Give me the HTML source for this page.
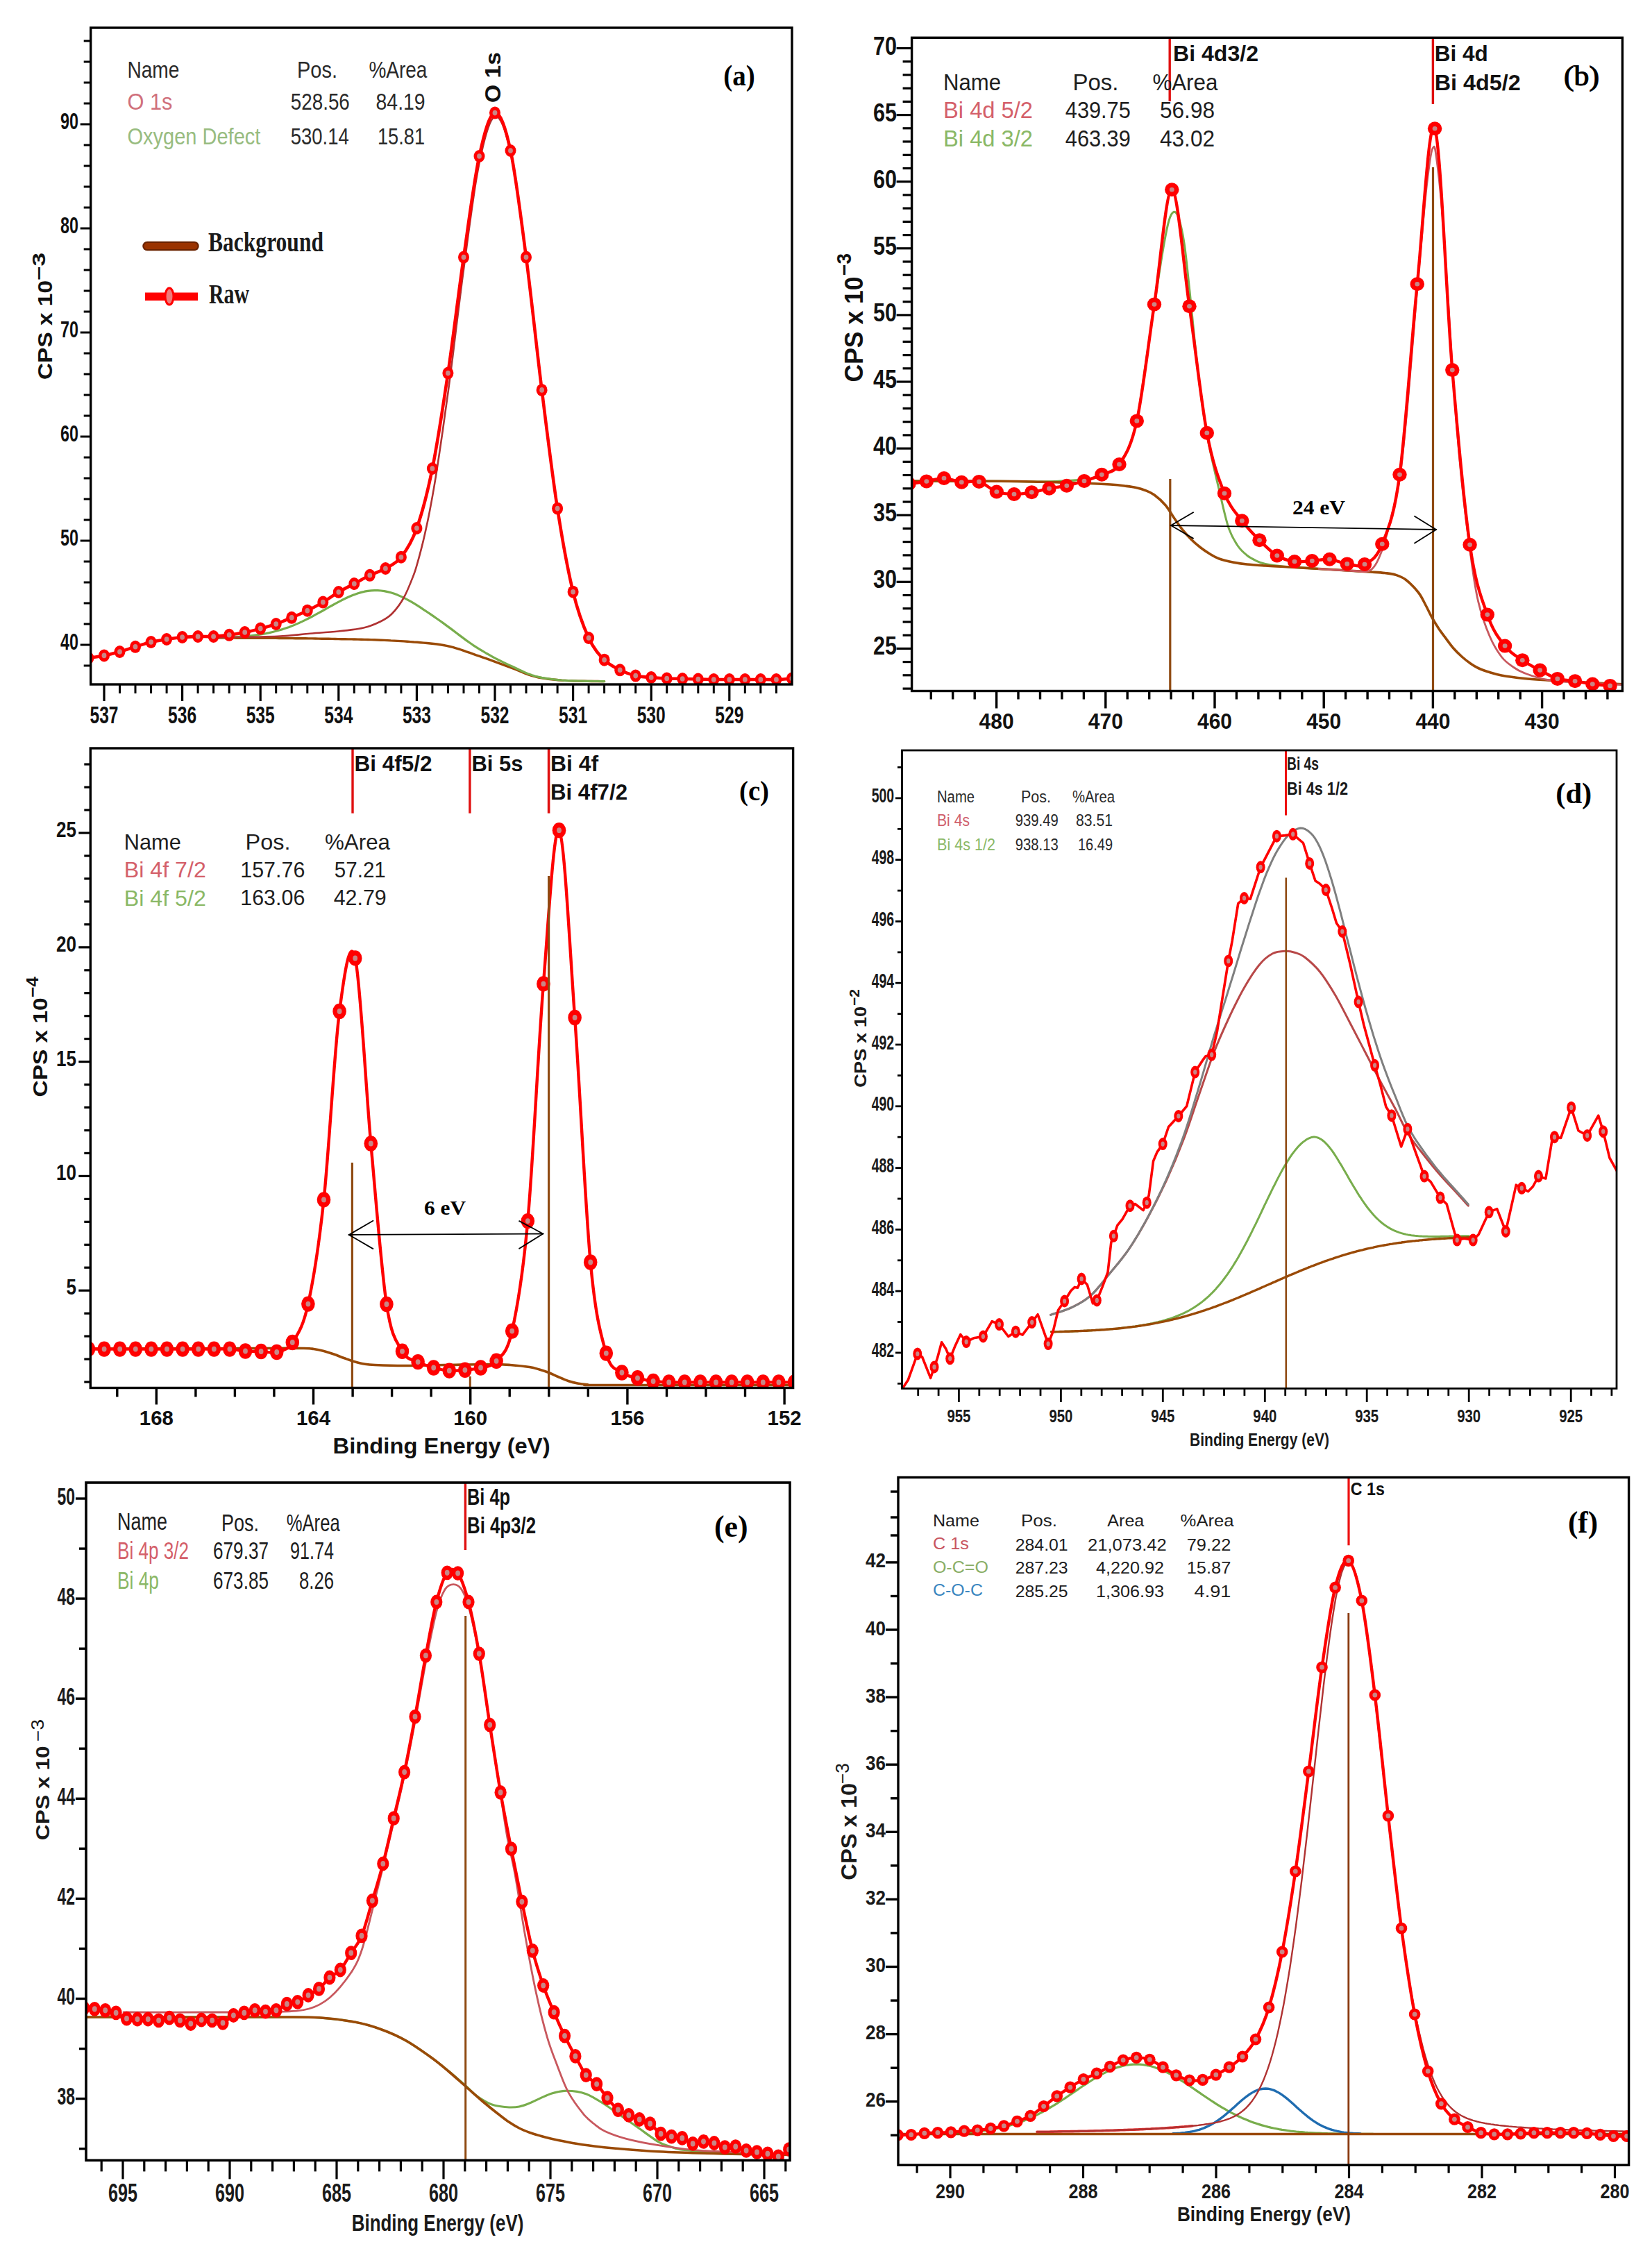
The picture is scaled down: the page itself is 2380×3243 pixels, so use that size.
<!DOCTYPE html><html><head><meta charset="utf-8"><title>XPS spectra</title><style>html,body{margin:0;padding:0;background:#fff;}svg{display:block;}</style></head><body>
<svg width="2380" height="3243" viewBox="0 0 2380 3243">
<rect width="2380" height="3243" fill="#fff"/>
<clipPath id="ca"><rect x="130.7" y="40" width="1010.3" height="946"/></clipPath>
<g clip-path="url(#ca)">
<path d="M307.6,919 L312.4,919 L317.1,919 L321.8,919.1 L326.6,919.1 L331.3,919.1 L336,919.1 L340.8,919.2 L345.5,919.2 L350.2,919.2 L355,919.2 L359.7,919.2 L364.4,919.3 L369.1,919.3 L373.9,919.3 L378.6,919.3 L383.3,919.4 L388.1,919.4 L392.8,919.4 L397.5,919.4 L402.3,919.5 L407,919.5 L411.7,919.5 L416.5,919.6 L421.2,919.6 L425.9,919.7 L430.6,919.7 L435.4,919.8 L440.1,919.8 L444.8,919.9 L449.6,919.9 L454.3,920 L459,920.1 L463.8,920.2 L468.5,920.2 L473.2,920.3 L478,920.4 L482.7,920.5 L487.4,920.6 L492.2,920.7 L496.9,920.8 L501.6,920.9 L506.3,920.9 L511.1,921 L515.8,921.1 L520.5,921.2 L525.3,921.4 L530,921.5 L534.7,921.6 L539.5,921.8 L544.2,922 L548.9,922.2 L553.7,922.4 L558.4,922.6 L563.1,922.9 L567.9,923.1 L572.6,923.4 L577.3,923.6 L582,923.9 L586.8,924.3 L591.5,924.6 L596.2,925 L601,925.3 L605.7,925.7 L610.4,926.1 L615.2,926.5 L619.9,927 L624.6,927.5 L629.4,928 L634.1,928.7 L638.8,929.5 L643.5,930.4 L648.3,931.5 L653,932.7 L657.7,934.1 L662.5,935.5 L667.2,937.1 L671.9,938.8 L676.7,940.4 L681.4,942.1 L686.1,943.8 L690.9,945.4 L695.6,947.1 L700.3,948.7 L705.1,950.4 L709.8,952.1 L714.5,953.9 L719.2,955.6 L724,957.3 L728.7,959.1 L733.4,960.8 L738.2,962.6 L742.9,964.5 L747.6,966.4 L752.4,968.4 L757.1,970.3 L761.8,972.1 L766.6,973.6 L771.3,974.9 L776,976 L780.7,976.9 L785.5,977.6 L790.2,978.2 L794.9,978.8 L799.7,979.3 L804.4,979.7 L809.1,980.1 L813.9,980.4 L818.6,980.6 L823.3,980.8 L828.1,981 L832.8,981.1 L837.5,981.2 L842.3,981.3 L847,981.4 L851.7,981.5 L856.4,981.5 L861.2,981.5 L865.9,981.6 L870.6,981.6" fill="none" stroke="#9a4a06" stroke-width="3.4" stroke-linejoin="round" stroke-linecap="round" />
<path d="M307.6,918.6 L312.4,918.5 L317.1,918.4 L321.8,918.3 L326.6,918.1 L331.3,918 L336,917.7 L340.8,917.5 L345.5,917.2 L350.2,916.9 L355,916.5 L359.7,916 L364.4,915.5 L369.1,914.9 L373.9,914.2 L378.6,913.4 L383.3,912.6 L388.1,911.6 L392.8,910.5 L397.5,909.3 L402.3,908 L407,906.6 L411.7,905 L416.5,903.4 L421.2,901.6 L425.9,899.6 L430.6,897.6 L435.4,895.4 L440.1,893.1 L444.8,890.7 L449.6,888.3 L454.3,885.7 L459,883.1 L463.8,880.5 L468.5,877.8 L473.2,875.1 L478,872.5 L482.7,869.8 L487.4,867.3 L492.2,864.8 L496.9,862.5 L501.6,860.3 L506.3,858.2 L511.1,856.4 L515.8,854.8 L520.5,853.4 L525.3,852.2 L530,851.4 L534.7,850.8 L539.5,850.6 L544.2,850.6 L548.9,851 L553.7,851.6 L558.4,852.6 L563.1,853.8 L567.9,855.3 L572.6,857.1 L577.3,859.1 L582,861.3 L586.8,863.8 L591.5,866.4 L596.2,869.2 L601,872.2 L605.7,875.2 L610.4,878.3 L615.2,881.5 L619.9,884.6 L624.6,887.9 L629.4,891.2 L634.1,894.5 L638.8,897.9 L643.5,901.4 L648.3,904.9 L653,908.4 L657.7,912 L662.5,915.6 L667.2,919.1 L671.9,922.6 L676.7,926 L681.4,929.3 L686.1,932.4 L690.9,935.4 L695.6,938.2 L700.3,941 L705.1,943.7 L709.8,946.3 L714.5,948.8 L719.2,951.2 L724,953.6 L728.7,955.9 L733.4,958.1 L738.2,960.3 L742.9,962.5 L747.6,964.8 L752.4,967 L757.1,969.1 L761.8,971.1 L766.6,972.8 L771.3,974.3 L776,975.4 L780.7,976.4 L785.5,977.2 L790.2,977.9 L794.9,978.5 L799.7,979.1 L804.4,979.6 L809.1,980 L813.9,980.3 L818.6,980.6 L823.3,980.8 L828.1,980.9 L832.8,981 L837.5,981.2 L842.3,981.3 L847,981.4 L851.7,981.4 L856.4,981.5 L861.2,981.5 L865.9,981.6 L870.6,981.6" fill="none" stroke="#78ad4c" stroke-width="3.2" stroke-linejoin="round" stroke-linecap="round" />
<path d="M307.6,918.5C323,918.2 377.3,917.7 400,916.8C422.7,915.9 429.2,914.2 443.8,913C458.4,911.8 474.1,910.9 487.4,909.5C500.7,908.1 513.6,906.8 523.7,904.5C533.8,902.2 541.1,898.9 548,895.5C554.9,892.1 559.3,889.8 564.9,884C570.5,878.2 576.6,870.3 581.8,861C587,851.7 592.9,836.1 596,828.2C599.1,820.3 599.1,818.9 600.7,813.6C602.2,808.4 603.8,802.8 605.3,796.9C606.9,791 608.4,784.9 610,778.4C611.5,771.8 613.1,765 614.6,757.8C616.2,750.6 617.7,743 619.3,735C620.8,727 622.4,718.7 623.9,709.9C625.5,701.1 627,691.7 628.6,682C630.1,672.4 631.7,662.2 633.2,651.8C634.8,641.4 636.3,630.7 637.9,619.8C639.4,608.9 641,597.8 642.5,586.6C644.1,575.4 645.7,564.3 647.2,552.6C648.8,540.9 650.3,528.7 651.9,516.3C653.4,504 655,491.2 656.5,478.6C658.1,466.1 659.6,453.2 661.2,440.8C662.7,428.4 664.3,416.1 665.8,404.3C667.4,392.4 668.9,381.2 670.5,369.6C672,358 673.6,346.2 675.1,334.7C676.7,323.3 678.2,311.7 679.8,300.8C681.3,289.9 682.9,279.1 684.4,269.4C686,259.6 687.5,250.5 689.1,242.2C690.6,233.9 692.2,226.7 693.8,219.8C695.3,212.8 696.9,206.2 698.4,200.4C700,194.5 701.5,189.2 703.1,184.7C704.6,180.3 706.2,176.5 707.7,173.7C709.3,170.9 710.8,169 712.4,168.2C713.9,167.4 715.5,167.6 717,168.7C718.6,169.7 720.1,171.8 721.7,174.6C723.2,177.4 724.8,181.1 726.3,185.4C727.9,189.8 729.4,195 731,200.8C732.5,206.6 734.1,212.8 735.6,220.1C737.2,227.4 738.8,235.5 740.3,244.6C741.9,253.6 743.4,263.7 745,274.2C746.5,284.7 748.1,296.1 749.6,307.5C751.2,319 752.7,331 754.3,342.8C755.8,354.6 757.4,366.2 758.9,378.5C760.5,390.8 762,403.4 763.6,416.4C765.1,429.4 766.7,443 768.2,456.5C769.8,470 771.3,483.9 772.9,497.4C774.4,510.9 776,524.5 777.5,537.5C779.1,550.5 780.6,562.9 782.2,575.5C783.7,588 785.3,600.5 786.9,612.8C788.4,625.2 790,637.5 791.5,649.5C793.1,661.5 794.6,673.4 796.2,684.8C797.7,696.2 799.3,707.2 800.8,717.8C802.4,728.3 803.9,738.2 805.5,747.9C807,757.6 808.6,766.9 810.1,775.8C811.7,784.8 813.2,793.4 814.8,801.6C816.3,809.8 817.9,817.7 819.4,825.2C821,832.6 822.5,839.7 824.1,846.4C825.6,853 827.2,859.3 828.7,865.1C830.3,870.9 831.8,876.1 833.4,881C835,886 836.5,890.5 838.1,894.7C839.6,899 841.2,902.9 842.7,906.7C844.3,910.4 845.8,914 847.4,917.4C848.9,920.7 850.5,923.9 852,926.8C853.6,929.6 855.1,932 856.7,934.3C858.2,936.6 859.8,938.6 861.3,940.6C862.9,942.5 864.4,944.2 866,945.9C867.5,947.5 869.9,949.9 870.6,950.7" fill="none" stroke="#b03232" stroke-width="2.6" stroke-linejoin="round" stroke-linecap="round" />
<path d="M127.5,948C131.2,947.4 142.5,945.9 150,944.4C157.5,942.9 165,941.1 172.5,939C180,936.9 187.5,934.1 195,931.8C202.5,929.5 210.1,926.8 217.6,925C225.1,923.2 232.6,922.2 240.1,921C247.6,919.8 255.1,918.7 262.6,918C270.1,917.3 277.6,917.2 285.1,917C292.6,916.8 300.1,917.4 307.6,917C315.1,916.6 322.7,915.8 330.2,914.8C337.7,913.8 345.2,912.5 352.7,911C360.2,909.5 367.7,907.6 375.2,905.6C382.7,903.6 390.2,901.6 397.7,899C405.2,896.4 412.7,893 420.2,889.8C427.7,886.6 435.3,883.4 442.8,879.7C450.3,876 457.8,872.1 465.3,867.6C472.8,863.1 480.3,857.4 487.8,853C495.3,848.6 502.8,845 510.3,841C517.8,837 525.3,832.5 532.8,828.8C540.3,825.1 547.9,823.4 555.4,819C562.9,814.6 570.4,812.4 577.9,802.7C585.4,793 592.9,782.3 600.4,761C607.9,739.7 615.4,712.2 622.9,675C630.4,637.8 637.9,588.3 645.4,537.6C652.9,486.9 660.5,422.7 668,370.6C675.5,318.5 683,259.7 690.5,225C698,190.3 705.5,163.9 713,162.6C720.5,161.3 728,182.3 735.5,217C743,251.7 750.5,313.1 758,370.6C765.5,428.1 773.1,501.6 780.6,561.9C788.1,622.2 795.6,684.1 803.1,732.6C810.6,781.1 818.1,821.6 825.6,852.7C833.1,883.8 840.6,902.7 848.1,919C855.6,935.3 863.1,943 870.6,950.7C878.1,958.4 885.7,961.5 893.2,965.3C900.7,969.1 908.2,971.8 915.7,973.6C923.2,975.4 930.7,975.4 938.2,976C945.7,976.6 953.2,977.2 960.7,977.5C968.2,977.8 975.7,977.8 983.2,978C990.7,978.2 998.3,978.3 1005.8,978.5C1013.3,978.7 1020.8,978.9 1028.3,979C1035.8,979.1 1043.3,979 1050.8,979C1058.3,979 1065.8,979 1073.3,979C1080.8,979 1088.3,979 1095.8,979C1103.3,979 1110.9,979.2 1118.4,979C1125.9,978.8 1137.1,977.8 1140.9,977.5" fill="none" stroke="#ff0000" stroke-width="4.6" stroke-linejoin="round" stroke-linecap="round" />
<ellipse cx="127.5" cy="948" rx="8" ry="9" fill="#ff0000"/>
<ellipse cx="127.5" cy="948" rx="3.4" ry="3.8" fill="#c98686"/>
<ellipse cx="150" cy="944.4" rx="8" ry="9" fill="#ff0000"/>
<ellipse cx="150" cy="944.4" rx="3.4" ry="3.8" fill="#c98686"/>
<ellipse cx="172.5" cy="939" rx="8" ry="9" fill="#ff0000"/>
<ellipse cx="172.5" cy="939" rx="3.4" ry="3.8" fill="#c98686"/>
<ellipse cx="195" cy="931.8" rx="8" ry="9" fill="#ff0000"/>
<ellipse cx="195" cy="931.8" rx="3.4" ry="3.8" fill="#c98686"/>
<ellipse cx="217.6" cy="925" rx="8" ry="9" fill="#ff0000"/>
<ellipse cx="217.6" cy="925" rx="3.4" ry="3.8" fill="#c98686"/>
<ellipse cx="240.1" cy="921" rx="8" ry="9" fill="#ff0000"/>
<ellipse cx="240.1" cy="921" rx="3.4" ry="3.8" fill="#c98686"/>
<ellipse cx="262.6" cy="918" rx="8" ry="9" fill="#ff0000"/>
<ellipse cx="262.6" cy="918" rx="3.4" ry="3.8" fill="#c98686"/>
<ellipse cx="285.1" cy="917" rx="8" ry="9" fill="#ff0000"/>
<ellipse cx="285.1" cy="917" rx="3.4" ry="3.8" fill="#c98686"/>
<ellipse cx="307.6" cy="917" rx="8" ry="9" fill="#ff0000"/>
<ellipse cx="307.6" cy="917" rx="3.4" ry="3.8" fill="#c98686"/>
<ellipse cx="330.2" cy="914.8" rx="8" ry="9" fill="#ff0000"/>
<ellipse cx="330.2" cy="914.8" rx="3.4" ry="3.8" fill="#c98686"/>
<ellipse cx="352.7" cy="911" rx="8" ry="9" fill="#ff0000"/>
<ellipse cx="352.7" cy="911" rx="3.4" ry="3.8" fill="#c98686"/>
<ellipse cx="375.2" cy="905.6" rx="8" ry="9" fill="#ff0000"/>
<ellipse cx="375.2" cy="905.6" rx="3.4" ry="3.8" fill="#c98686"/>
<ellipse cx="397.7" cy="899" rx="8" ry="9" fill="#ff0000"/>
<ellipse cx="397.7" cy="899" rx="3.4" ry="3.8" fill="#c98686"/>
<ellipse cx="420.2" cy="889.8" rx="8" ry="9" fill="#ff0000"/>
<ellipse cx="420.2" cy="889.8" rx="3.4" ry="3.8" fill="#c98686"/>
<ellipse cx="442.8" cy="879.7" rx="8" ry="9" fill="#ff0000"/>
<ellipse cx="442.8" cy="879.7" rx="3.4" ry="3.8" fill="#c98686"/>
<ellipse cx="465.3" cy="867.6" rx="8" ry="9" fill="#ff0000"/>
<ellipse cx="465.3" cy="867.6" rx="3.4" ry="3.8" fill="#c98686"/>
<ellipse cx="487.8" cy="853" rx="8" ry="9" fill="#ff0000"/>
<ellipse cx="487.8" cy="853" rx="3.4" ry="3.8" fill="#c98686"/>
<ellipse cx="510.3" cy="841" rx="8" ry="9" fill="#ff0000"/>
<ellipse cx="510.3" cy="841" rx="3.4" ry="3.8" fill="#c98686"/>
<ellipse cx="532.8" cy="828.8" rx="8" ry="9" fill="#ff0000"/>
<ellipse cx="532.8" cy="828.8" rx="3.4" ry="3.8" fill="#c98686"/>
<ellipse cx="555.4" cy="819" rx="8" ry="9" fill="#ff0000"/>
<ellipse cx="555.4" cy="819" rx="3.4" ry="3.8" fill="#c98686"/>
<ellipse cx="577.9" cy="802.7" rx="8" ry="9" fill="#ff0000"/>
<ellipse cx="577.9" cy="802.7" rx="3.4" ry="3.8" fill="#c98686"/>
<ellipse cx="600.4" cy="761" rx="8" ry="9" fill="#ff0000"/>
<ellipse cx="600.4" cy="761" rx="3.4" ry="3.8" fill="#c98686"/>
<ellipse cx="622.9" cy="675" rx="8" ry="9" fill="#ff0000"/>
<ellipse cx="622.9" cy="675" rx="3.4" ry="3.8" fill="#c98686"/>
<ellipse cx="645.4" cy="537.6" rx="8" ry="9" fill="#ff0000"/>
<ellipse cx="645.4" cy="537.6" rx="3.4" ry="3.8" fill="#c98686"/>
<ellipse cx="668" cy="370.6" rx="8" ry="9" fill="#ff0000"/>
<ellipse cx="668" cy="370.6" rx="3.4" ry="3.8" fill="#c98686"/>
<ellipse cx="690.5" cy="225" rx="8" ry="9" fill="#ff0000"/>
<ellipse cx="690.5" cy="225" rx="3.4" ry="3.8" fill="#c98686"/>
<ellipse cx="713" cy="162.6" rx="8" ry="9" fill="#ff0000"/>
<ellipse cx="713" cy="162.6" rx="3.4" ry="3.8" fill="#c98686"/>
<ellipse cx="735.5" cy="217" rx="8" ry="9" fill="#ff0000"/>
<ellipse cx="735.5" cy="217" rx="3.4" ry="3.8" fill="#c98686"/>
<ellipse cx="758" cy="370.6" rx="8" ry="9" fill="#ff0000"/>
<ellipse cx="758" cy="370.6" rx="3.4" ry="3.8" fill="#c98686"/>
<ellipse cx="780.6" cy="561.9" rx="8" ry="9" fill="#ff0000"/>
<ellipse cx="780.6" cy="561.9" rx="3.4" ry="3.8" fill="#c98686"/>
<ellipse cx="803.1" cy="732.6" rx="8" ry="9" fill="#ff0000"/>
<ellipse cx="803.1" cy="732.6" rx="3.4" ry="3.8" fill="#c98686"/>
<ellipse cx="825.6" cy="852.7" rx="8" ry="9" fill="#ff0000"/>
<ellipse cx="825.6" cy="852.7" rx="3.4" ry="3.8" fill="#c98686"/>
<ellipse cx="848.1" cy="919" rx="8" ry="9" fill="#ff0000"/>
<ellipse cx="848.1" cy="919" rx="3.4" ry="3.8" fill="#c98686"/>
<ellipse cx="870.6" cy="950.7" rx="8" ry="9" fill="#ff0000"/>
<ellipse cx="870.6" cy="950.7" rx="3.4" ry="3.8" fill="#c98686"/>
<ellipse cx="893.2" cy="965.3" rx="8" ry="9" fill="#ff0000"/>
<ellipse cx="893.2" cy="965.3" rx="3.4" ry="3.8" fill="#c98686"/>
<ellipse cx="915.7" cy="973.6" rx="8" ry="9" fill="#ff0000"/>
<ellipse cx="915.7" cy="973.6" rx="3.4" ry="3.8" fill="#c98686"/>
<ellipse cx="938.2" cy="976" rx="8" ry="9" fill="#ff0000"/>
<ellipse cx="938.2" cy="976" rx="3.4" ry="3.8" fill="#c98686"/>
<ellipse cx="960.7" cy="977.5" rx="8" ry="9" fill="#ff0000"/>
<ellipse cx="960.7" cy="977.5" rx="3.4" ry="3.8" fill="#c98686"/>
<ellipse cx="983.2" cy="978" rx="8" ry="9" fill="#ff0000"/>
<ellipse cx="983.2" cy="978" rx="3.4" ry="3.8" fill="#c98686"/>
<ellipse cx="1005.8" cy="978.5" rx="8" ry="9" fill="#ff0000"/>
<ellipse cx="1005.8" cy="978.5" rx="3.4" ry="3.8" fill="#c98686"/>
<ellipse cx="1028.3" cy="979" rx="8" ry="9" fill="#ff0000"/>
<ellipse cx="1028.3" cy="979" rx="3.4" ry="3.8" fill="#c98686"/>
<ellipse cx="1050.8" cy="979" rx="8" ry="9" fill="#ff0000"/>
<ellipse cx="1050.8" cy="979" rx="3.4" ry="3.8" fill="#c98686"/>
<ellipse cx="1073.3" cy="979" rx="8" ry="9" fill="#ff0000"/>
<ellipse cx="1073.3" cy="979" rx="3.4" ry="3.8" fill="#c98686"/>
<ellipse cx="1095.8" cy="979" rx="8" ry="9" fill="#ff0000"/>
<ellipse cx="1095.8" cy="979" rx="3.4" ry="3.8" fill="#c98686"/>
<ellipse cx="1118.4" cy="979" rx="8" ry="9" fill="#ff0000"/>
<ellipse cx="1118.4" cy="979" rx="3.4" ry="3.8" fill="#c98686"/>
<ellipse cx="1140.9" cy="977.5" rx="8" ry="9" fill="#ff0000"/>
<ellipse cx="1140.9" cy="977.5" rx="3.4" ry="3.8" fill="#c98686"/>
</g>
<line x1="115.7" y1="929" x2="130.7" y2="929" stroke="#000" stroke-width="3" stroke-linecap="butt"/>
<line x1="115.7" y1="779" x2="130.7" y2="779" stroke="#000" stroke-width="3" stroke-linecap="butt"/>
<line x1="115.7" y1="629" x2="130.7" y2="629" stroke="#000" stroke-width="3" stroke-linecap="butt"/>
<line x1="115.7" y1="479" x2="130.7" y2="479" stroke="#000" stroke-width="3" stroke-linecap="butt"/>
<line x1="115.7" y1="329" x2="130.7" y2="329" stroke="#000" stroke-width="3" stroke-linecap="butt"/>
<line x1="115.7" y1="179" x2="130.7" y2="179" stroke="#000" stroke-width="3" stroke-linecap="butt"/>
<line x1="120.7" y1="959" x2="130.7" y2="959" stroke="#000" stroke-width="3" stroke-linecap="butt"/>
<line x1="120.7" y1="899" x2="130.7" y2="899" stroke="#000" stroke-width="3" stroke-linecap="butt"/>
<line x1="120.7" y1="869" x2="130.7" y2="869" stroke="#000" stroke-width="3" stroke-linecap="butt"/>
<line x1="120.7" y1="839" x2="130.7" y2="839" stroke="#000" stroke-width="3" stroke-linecap="butt"/>
<line x1="120.7" y1="809" x2="130.7" y2="809" stroke="#000" stroke-width="3" stroke-linecap="butt"/>
<line x1="120.7" y1="749" x2="130.7" y2="749" stroke="#000" stroke-width="3" stroke-linecap="butt"/>
<line x1="120.7" y1="719" x2="130.7" y2="719" stroke="#000" stroke-width="3" stroke-linecap="butt"/>
<line x1="120.7" y1="689" x2="130.7" y2="689" stroke="#000" stroke-width="3" stroke-linecap="butt"/>
<line x1="120.7" y1="659" x2="130.7" y2="659" stroke="#000" stroke-width="3" stroke-linecap="butt"/>
<line x1="120.7" y1="599" x2="130.7" y2="599" stroke="#000" stroke-width="3" stroke-linecap="butt"/>
<line x1="120.7" y1="569" x2="130.7" y2="569" stroke="#000" stroke-width="3" stroke-linecap="butt"/>
<line x1="120.7" y1="539" x2="130.7" y2="539" stroke="#000" stroke-width="3" stroke-linecap="butt"/>
<line x1="120.7" y1="509" x2="130.7" y2="509" stroke="#000" stroke-width="3" stroke-linecap="butt"/>
<line x1="120.7" y1="449" x2="130.7" y2="449" stroke="#000" stroke-width="3" stroke-linecap="butt"/>
<line x1="120.7" y1="419" x2="130.7" y2="419" stroke="#000" stroke-width="3" stroke-linecap="butt"/>
<line x1="120.7" y1="389" x2="130.7" y2="389" stroke="#000" stroke-width="3" stroke-linecap="butt"/>
<line x1="120.7" y1="359" x2="130.7" y2="359" stroke="#000" stroke-width="3" stroke-linecap="butt"/>
<line x1="120.7" y1="299" x2="130.7" y2="299" stroke="#000" stroke-width="3" stroke-linecap="butt"/>
<line x1="120.7" y1="269" x2="130.7" y2="269" stroke="#000" stroke-width="3" stroke-linecap="butt"/>
<line x1="120.7" y1="239" x2="130.7" y2="239" stroke="#000" stroke-width="3" stroke-linecap="butt"/>
<line x1="120.7" y1="209" x2="130.7" y2="209" stroke="#000" stroke-width="3" stroke-linecap="butt"/>
<line x1="120.7" y1="149" x2="130.7" y2="149" stroke="#000" stroke-width="3" stroke-linecap="butt"/>
<line x1="120.7" y1="119" x2="130.7" y2="119" stroke="#000" stroke-width="3" stroke-linecap="butt"/>
<line x1="120.7" y1="89" x2="130.7" y2="89" stroke="#000" stroke-width="3" stroke-linecap="butt"/>
<line x1="120.7" y1="59" x2="130.7" y2="59" stroke="#000" stroke-width="3" stroke-linecap="butt"/>
<line x1="1050.8" y1="986" x2="1050.8" y2="1010" stroke="#000" stroke-width="3.2" stroke-linecap="butt"/>
<line x1="938.2" y1="986" x2="938.2" y2="1010" stroke="#000" stroke-width="3.2" stroke-linecap="butt"/>
<line x1="825.6" y1="986" x2="825.6" y2="1010" stroke="#000" stroke-width="3.2" stroke-linecap="butt"/>
<line x1="713" y1="986" x2="713" y2="1010" stroke="#000" stroke-width="3.2" stroke-linecap="butt"/>
<line x1="600.4" y1="986" x2="600.4" y2="1010" stroke="#000" stroke-width="3.2" stroke-linecap="butt"/>
<line x1="487.8" y1="986" x2="487.8" y2="1010" stroke="#000" stroke-width="3.2" stroke-linecap="butt"/>
<line x1="375.2" y1="986" x2="375.2" y2="1010" stroke="#000" stroke-width="3.2" stroke-linecap="butt"/>
<line x1="262.6" y1="986" x2="262.6" y2="1010" stroke="#000" stroke-width="3.2" stroke-linecap="butt"/>
<line x1="150" y1="986" x2="150" y2="1010" stroke="#000" stroke-width="3.2" stroke-linecap="butt"/>
<line x1="1118.4" y1="986" x2="1118.4" y2="999" stroke="#000" stroke-width="3" stroke-linecap="butt"/>
<line x1="1095.8" y1="986" x2="1095.8" y2="999" stroke="#000" stroke-width="3" stroke-linecap="butt"/>
<line x1="1073.3" y1="986" x2="1073.3" y2="999" stroke="#000" stroke-width="3" stroke-linecap="butt"/>
<line x1="1028.3" y1="986" x2="1028.3" y2="999" stroke="#000" stroke-width="3" stroke-linecap="butt"/>
<line x1="1005.8" y1="986" x2="1005.8" y2="999" stroke="#000" stroke-width="3" stroke-linecap="butt"/>
<line x1="983.2" y1="986" x2="983.2" y2="999" stroke="#000" stroke-width="3" stroke-linecap="butt"/>
<line x1="960.7" y1="986" x2="960.7" y2="999" stroke="#000" stroke-width="3" stroke-linecap="butt"/>
<line x1="915.7" y1="986" x2="915.7" y2="999" stroke="#000" stroke-width="3" stroke-linecap="butt"/>
<line x1="893.2" y1="986" x2="893.2" y2="999" stroke="#000" stroke-width="3" stroke-linecap="butt"/>
<line x1="870.6" y1="986" x2="870.6" y2="999" stroke="#000" stroke-width="3" stroke-linecap="butt"/>
<line x1="848.1" y1="986" x2="848.1" y2="999" stroke="#000" stroke-width="3" stroke-linecap="butt"/>
<line x1="803.1" y1="986" x2="803.1" y2="999" stroke="#000" stroke-width="3" stroke-linecap="butt"/>
<line x1="780.6" y1="986" x2="780.6" y2="999" stroke="#000" stroke-width="3" stroke-linecap="butt"/>
<line x1="758" y1="986" x2="758" y2="999" stroke="#000" stroke-width="3" stroke-linecap="butt"/>
<line x1="735.5" y1="986" x2="735.5" y2="999" stroke="#000" stroke-width="3" stroke-linecap="butt"/>
<line x1="690.5" y1="986" x2="690.5" y2="999" stroke="#000" stroke-width="3" stroke-linecap="butt"/>
<line x1="668" y1="986" x2="668" y2="999" stroke="#000" stroke-width="3" stroke-linecap="butt"/>
<line x1="645.4" y1="986" x2="645.4" y2="999" stroke="#000" stroke-width="3" stroke-linecap="butt"/>
<line x1="622.9" y1="986" x2="622.9" y2="999" stroke="#000" stroke-width="3" stroke-linecap="butt"/>
<line x1="577.9" y1="986" x2="577.9" y2="999" stroke="#000" stroke-width="3" stroke-linecap="butt"/>
<line x1="555.4" y1="986" x2="555.4" y2="999" stroke="#000" stroke-width="3" stroke-linecap="butt"/>
<line x1="532.8" y1="986" x2="532.8" y2="999" stroke="#000" stroke-width="3" stroke-linecap="butt"/>
<line x1="510.3" y1="986" x2="510.3" y2="999" stroke="#000" stroke-width="3" stroke-linecap="butt"/>
<line x1="465.3" y1="986" x2="465.3" y2="999" stroke="#000" stroke-width="3" stroke-linecap="butt"/>
<line x1="442.8" y1="986" x2="442.8" y2="999" stroke="#000" stroke-width="3" stroke-linecap="butt"/>
<line x1="420.2" y1="986" x2="420.2" y2="999" stroke="#000" stroke-width="3" stroke-linecap="butt"/>
<line x1="397.7" y1="986" x2="397.7" y2="999" stroke="#000" stroke-width="3" stroke-linecap="butt"/>
<line x1="352.7" y1="986" x2="352.7" y2="999" stroke="#000" stroke-width="3" stroke-linecap="butt"/>
<line x1="330.2" y1="986" x2="330.2" y2="999" stroke="#000" stroke-width="3" stroke-linecap="butt"/>
<line x1="307.6" y1="986" x2="307.6" y2="999" stroke="#000" stroke-width="3" stroke-linecap="butt"/>
<line x1="285.1" y1="986" x2="285.1" y2="999" stroke="#000" stroke-width="3" stroke-linecap="butt"/>
<line x1="240.1" y1="986" x2="240.1" y2="999" stroke="#000" stroke-width="3" stroke-linecap="butt"/>
<line x1="217.6" y1="986" x2="217.6" y2="999" stroke="#000" stroke-width="3" stroke-linecap="butt"/>
<line x1="195" y1="986" x2="195" y2="999" stroke="#000" stroke-width="3" stroke-linecap="butt"/>
<line x1="172.5" y1="986" x2="172.5" y2="999" stroke="#000" stroke-width="3" stroke-linecap="butt"/>
<rect x="130.7" y="40" width="1010.3" height="946" fill="none" stroke="#000" stroke-width="3.4"/>
<text x="113" y="935.5" font-size="34" font-family="'Liberation Sans', Arial, sans-serif" fill="#111" font-weight="bold" textLength="26" lengthAdjust="spacingAndGlyphs" text-anchor="end" >40</text>
<text x="113" y="785.5" font-size="34" font-family="'Liberation Sans', Arial, sans-serif" fill="#111" font-weight="bold" textLength="26" lengthAdjust="spacingAndGlyphs" text-anchor="end" >50</text>
<text x="113" y="635.5" font-size="34" font-family="'Liberation Sans', Arial, sans-serif" fill="#111" font-weight="bold" textLength="26" lengthAdjust="spacingAndGlyphs" text-anchor="end" >60</text>
<text x="113" y="485.5" font-size="34" font-family="'Liberation Sans', Arial, sans-serif" fill="#111" font-weight="bold" textLength="26" lengthAdjust="spacingAndGlyphs" text-anchor="end" >70</text>
<text x="113" y="335.5" font-size="34" font-family="'Liberation Sans', Arial, sans-serif" fill="#111" font-weight="bold" textLength="26" lengthAdjust="spacingAndGlyphs" text-anchor="end" >80</text>
<text x="113" y="185.5" font-size="34" font-family="'Liberation Sans', Arial, sans-serif" fill="#111" font-weight="bold" textLength="26" lengthAdjust="spacingAndGlyphs" text-anchor="end" >90</text>
<text x="1050.8" y="1041.5" font-size="35" font-family="'Liberation Sans', Arial, sans-serif" fill="#111" font-weight="bold" textLength="41" lengthAdjust="spacingAndGlyphs" text-anchor="middle" >529</text>
<text x="938.2" y="1041.5" font-size="35" font-family="'Liberation Sans', Arial, sans-serif" fill="#111" font-weight="bold" textLength="41" lengthAdjust="spacingAndGlyphs" text-anchor="middle" >530</text>
<text x="825.6" y="1041.5" font-size="35" font-family="'Liberation Sans', Arial, sans-serif" fill="#111" font-weight="bold" textLength="41" lengthAdjust="spacingAndGlyphs" text-anchor="middle" >531</text>
<text x="713" y="1041.5" font-size="35" font-family="'Liberation Sans', Arial, sans-serif" fill="#111" font-weight="bold" textLength="41" lengthAdjust="spacingAndGlyphs" text-anchor="middle" >532</text>
<text x="600.4" y="1041.5" font-size="35" font-family="'Liberation Sans', Arial, sans-serif" fill="#111" font-weight="bold" textLength="41" lengthAdjust="spacingAndGlyphs" text-anchor="middle" >533</text>
<text x="487.8" y="1041.5" font-size="35" font-family="'Liberation Sans', Arial, sans-serif" fill="#111" font-weight="bold" textLength="41" lengthAdjust="spacingAndGlyphs" text-anchor="middle" >534</text>
<text x="375.2" y="1041.5" font-size="35" font-family="'Liberation Sans', Arial, sans-serif" fill="#111" font-weight="bold" textLength="41" lengthAdjust="spacingAndGlyphs" text-anchor="middle" >535</text>
<text x="262.6" y="1041.5" font-size="35" font-family="'Liberation Sans', Arial, sans-serif" fill="#111" font-weight="bold" textLength="41" lengthAdjust="spacingAndGlyphs" text-anchor="middle" >536</text>
<text x="150" y="1041.5" font-size="35" font-family="'Liberation Sans', Arial, sans-serif" fill="#111" font-weight="bold" textLength="41" lengthAdjust="spacingAndGlyphs" text-anchor="middle" >537</text>
<text x="74.5" y="547" font-size="29.5" font-family="'Liberation Sans', Arial, sans-serif" fill="#111" font-weight="bold" textLength="143" lengthAdjust="spacingAndGlyphs" transform="rotate(-90 74.5 547)" >CPS x 10</text>
<text x="64.5" y="404" font-size="26" font-family="'Liberation Sans', Arial, sans-serif" fill="#111" font-weight="bold" textLength="40" lengthAdjust="spacingAndGlyphs" transform="rotate(-90 64.5 404)" >−3</text>
<text x="183.4" y="111.8" font-size="34" font-family="'Liberation Sans', Arial, sans-serif" fill="#2a2a2a" textLength="75" lengthAdjust="spacingAndGlyphs" >Name</text>
<text x="428" y="111.8" font-size="34" font-family="'Liberation Sans', Arial, sans-serif" fill="#2a2a2a" textLength="58" lengthAdjust="spacingAndGlyphs" >Pos.</text>
<text x="531.4" y="111.8" font-size="34" font-family="'Liberation Sans', Arial, sans-serif" fill="#2a2a2a" textLength="84" lengthAdjust="spacingAndGlyphs" >%Area</text>
<text x="183.4" y="158.2" font-size="34" font-family="'Liberation Sans', Arial, sans-serif" fill="#d0707c" textLength="65" lengthAdjust="spacingAndGlyphs" >O 1s</text>
<text x="418.8" y="158.2" font-size="34" font-family="'Liberation Sans', Arial, sans-serif" fill="#2a2a2a" textLength="85" lengthAdjust="spacingAndGlyphs" >528.56</text>
<text x="541.6" y="158.2" font-size="34" font-family="'Liberation Sans', Arial, sans-serif" fill="#2a2a2a" textLength="71" lengthAdjust="spacingAndGlyphs" >84.19</text>
<text x="183.4" y="208" font-size="34" font-family="'Liberation Sans', Arial, sans-serif" fill="#98bc80" textLength="192" lengthAdjust="spacingAndGlyphs" >Oxygen Defect</text>
<text x="418.8" y="208" font-size="34" font-family="'Liberation Sans', Arial, sans-serif" fill="#2a2a2a" textLength="84" lengthAdjust="spacingAndGlyphs" >530.14</text>
<text x="544" y="208" font-size="34" font-family="'Liberation Sans', Arial, sans-serif" fill="#2a2a2a" textLength="68" lengthAdjust="spacingAndGlyphs" >15.81</text>
<text x="721" y="148" font-size="31" font-family="'Liberation Sans', Arial, sans-serif" fill="#111" font-weight="bold" textLength="73" lengthAdjust="spacingAndGlyphs" transform="rotate(-90 721 148)" >O 1s</text>
<line x1="212" y1="354.6" x2="280" y2="354.6" stroke="#6a2300" stroke-width="13.5" stroke-linecap="round"/>
<line x1="212" y1="354.6" x2="280" y2="354.6" stroke="#9a3300" stroke-width="9" stroke-linecap="round"/>
<text x="300" y="362" font-size="39" font-family="'Liberation Serif', 'Times New Roman', serif" fill="#1a1a1a" font-weight="bold" textLength="166" lengthAdjust="spacingAndGlyphs" >Background</text>
<rect x="209" y="421.5" width="76" height="11.5" fill="#ff0000"/>
<ellipse cx="244" cy="427" rx="6" ry="12" fill="#f07a7a" stroke="#ff0000" stroke-width="3"/>
<text x="301" y="437" font-size="39" font-family="'Liberation Serif', 'Times New Roman', serif" fill="#1a1a1a" font-weight="bold" textLength="58" lengthAdjust="spacingAndGlyphs" >Raw</text>
<text x="1042.3" y="123" font-size="42" font-family="'Liberation Serif', 'Times New Roman', serif" fill="#000" font-weight="bold" textLength="45.5" lengthAdjust="spacingAndGlyphs" >(a)</text>
<clipPath id="cb"><rect x="1313.6" y="54.3" width="1023.8" height="941.2"/></clipPath>
<g clip-path="url(#cb)">
<path d="M1300,693C1323.3,693 1406.7,693.1 1440,693.3C1473.3,693.5 1478.3,694.5 1500,694C1521.7,693.5 1555.3,691.7 1570,690C1584.7,688.3 1582.5,686.2 1588,684C1593.5,681.8 1598.7,679.7 1603,677C1607.3,674.3 1610.2,673.3 1614,668C1617.8,662.7 1622,655.3 1626,645C1630,634.7 1634,625.5 1638,606C1642,586.5 1645.8,555.7 1650,528C1654.2,500.3 1658.7,468.5 1663,440C1667.3,411.5 1672.5,377.3 1676,357C1679.5,336.7 1681.5,326.6 1684,318C1686.5,309.4 1688.9,306 1691.2,305.3C1693.5,304.6 1695.5,306.6 1698,314C1700.5,321.4 1703.3,332.3 1706,350C1708.7,367.7 1710.5,387.5 1714,420C1717.5,452.5 1722.7,509.7 1727,545C1731.3,580.3 1735.1,605.1 1740,632C1744.9,658.9 1751.5,685.1 1756.5,706.4C1761.5,727.7 1765.4,746.4 1769.8,759.7C1774.2,773 1778.6,779.3 1783,786C1787.4,792.7 1791.9,796.3 1796.4,800C1800.9,803.7 1805.6,805.9 1810,808C1814.4,810.1 1816.3,811.1 1823,812.5C1829.7,813.9 1837.2,815 1850,816.2C1862.8,817.4 1883.3,818.5 1900,819.5C1916.7,820.5 1938.3,821.8 1950,822.5C1961.7,823.2 1966.7,823.3 1970,823.5" fill="none" stroke="#78ad4c" stroke-width="3" stroke-linejoin="round" stroke-linecap="round" />
<path d="M1300,693C1323.3,693 1406.7,693.1 1440,693.3C1473.3,693.5 1480,693.8 1500,694.2C1520,694.7 1543.3,695.4 1560,696C1576.7,696.6 1590,697.3 1600,698C1610,698.7 1613.9,699.2 1620,700C1626.1,700.8 1631.5,701.4 1636.5,702.5C1641.5,703.6 1645.6,704.8 1650,706.5C1654.4,708.2 1658.2,709.5 1663,713C1667.8,716.5 1674.5,722.5 1679,727.7C1683.5,732.9 1686,738.2 1690,744C1694,749.8 1698.7,756.8 1703,762.3C1707.3,767.8 1711.5,772.5 1716,777C1720.5,781.5 1725.3,785.5 1729.8,789C1734.3,792.5 1738.5,795.3 1743,798C1747.5,800.7 1751,803 1756.5,805C1762,807 1769.3,808.7 1776,810C1782.7,811.3 1788.6,812.2 1796.4,813C1804.2,813.8 1814.1,814.4 1823,815C1831.9,815.6 1836.9,815.8 1849.7,816.5C1862.5,817.2 1883.3,818.5 1900,819.5C1916.7,820.5 1937.5,821.8 1950,822.5C1962.5,823.2 1967.5,823.5 1975,824C1982.5,824.5 1989.2,824.8 1995,825.5C2000.8,826.2 2005,826.4 2010,828C2015,829.6 2019.5,830.8 2025,835C2030.5,839.2 2038.3,847.2 2043,853C2047.7,858.8 2049.7,863.9 2053,870C2056.3,876.1 2059.7,883.7 2063,889.7C2066.3,895.7 2069.7,901 2073,906C2076.3,911 2079.5,914.9 2083,919.6C2086.5,924.3 2090.2,929.6 2094,934C2097.8,938.4 2102,942.4 2106,946C2110,949.6 2114.1,952.8 2118,955.5C2121.9,958.2 2124.9,960.3 2129.6,962.5C2134.3,964.7 2140.4,966.8 2146,968.5C2151.6,970.2 2154.7,971.5 2163,973C2171.3,974.5 2184.9,976.3 2196,977.5C2207.1,978.7 2215.5,979.1 2229.5,980C2243.5,980.9 2259.9,981.9 2280,983C2300.1,984.1 2338.3,985.9 2350,986.5" fill="none" stroke="#9a4a06" stroke-width="3.6" stroke-linejoin="round" stroke-linecap="round" />
<path d="M1900,819.5C1908.3,820 1937.5,822.2 1950,822.5C1962.5,822.8 1968.2,825.9 1975,821C1981.8,816.1 1986.2,805.5 1991,793C1995.8,780.5 1999.7,763.8 2004,746C2008.3,728.2 2012.8,715.3 2017,686C2021.2,656.7 2024.8,615.7 2029,570C2033.2,524.3 2038,458.7 2042,412C2046,365.3 2050,320 2053,290C2056,260 2058.1,244.8 2060,232C2061.9,219.2 2063,214.3 2064.5,213C2066,211.7 2066.6,206.2 2069,224C2071.4,241.8 2075.1,268.5 2079,320C2082.9,371.5 2088.2,472.2 2092.5,533C2096.8,593.8 2100.5,639.4 2105,685C2109.5,730.6 2115.5,776.2 2119.6,806.4C2123.7,836.6 2125.2,848 2129.6,866.3C2134,884.6 2140.4,903 2146,916.3C2151.6,929.6 2157.3,938.5 2163,946C2168.7,953.5 2174.5,957.1 2180,961C2185.5,964.9 2187.8,966.5 2196,969.6C2204.2,972.7 2215.5,977.2 2229.5,979.5C2243.5,981.8 2259.9,982.2 2280,983.5C2300.1,984.8 2338.3,986.4 2350,987" fill="none" stroke="#c8585e" stroke-width="2.8" stroke-linejoin="round" stroke-linecap="round" />
<path d="M1309.5,697C1313.8,696.4 1326.4,694.8 1334.8,693.5C1343.2,692.2 1351.6,688.8 1360,689C1368.5,689.2 1376.9,694 1385.3,694.8C1393.7,695.6 1402.1,691.6 1410.5,693.9C1419,696.2 1427.4,705.5 1435.8,708.5C1444.2,711.5 1452.6,711.9 1461,712C1469.5,712.1 1477.9,710.7 1486.3,709.3C1494.7,707.9 1503.1,705.3 1511.5,703.7C1520,702.1 1528.4,701.5 1536.8,699.7C1545.2,697.9 1553.6,695.7 1562,693C1570.5,690.3 1578.9,687.7 1587.3,683.7C1595.7,679.7 1604.1,681.9 1612.5,669C1621,656.1 1629.4,644.8 1637.8,606.4C1646.2,568 1654.6,494 1663,438.5C1671.5,383 1679.9,272.9 1688.3,273.3C1696.7,273.8 1705.1,382.8 1713.5,441.2C1722,499.6 1730.4,578.8 1738.8,623.7C1747.2,668.6 1755.6,689.6 1764,710.7C1772.5,731.8 1780.9,739 1789.3,750.3C1797.7,761.6 1806.1,769.9 1814.5,778.3C1823,786.7 1831.4,795.4 1839.8,800.5C1848.2,805.6 1856.6,807.8 1865,809C1873.5,810.2 1881.9,808.5 1890.3,808C1898.7,807.5 1907.1,805.1 1915.5,805.8C1924,806.5 1932.4,811.2 1940.8,812.4C1949.2,813.6 1957.6,817.8 1966,813C1974.5,808.2 1982.9,805.3 1991.3,783.8C1999.7,762.2 2008.1,746.1 2016.5,683.7C2025,621.3 2033.4,492.3 2041.8,409.2C2050.2,326.1 2058.6,164.7 2067.1,185.3C2075.5,206 2083.9,433.2 2092.3,533.1C2100.7,633 2109.1,726 2117.6,784.8C2126,843.5 2134.4,861.3 2142.8,885.6C2151.2,909.9 2159.6,919.7 2168.1,930.6C2176.5,941.5 2184.9,945.4 2193.3,951.2C2201.7,957 2210.1,961.2 2218.6,965.6C2227,970 2235.4,975.3 2243.8,977.9C2252.2,980.5 2260.6,979.9 2269.1,981.2C2277.5,982.5 2285.9,984.4 2294.3,985.5C2302.7,986.6 2315.3,987.5 2319.6,987.9" fill="none" stroke="#ff0000" stroke-width="4.4" stroke-linejoin="round" stroke-linecap="round" />
<ellipse cx="1334.8" cy="693.5" rx="10.2" ry="10" fill="#ff0000"/>
<ellipse cx="1334.8" cy="693.5" rx="3.4" ry="3.3" fill="#c98686"/>
<ellipse cx="1360" cy="689" rx="10.2" ry="10" fill="#ff0000"/>
<ellipse cx="1360" cy="689" rx="3.4" ry="3.3" fill="#c98686"/>
<ellipse cx="1385.3" cy="694.8" rx="10.2" ry="10" fill="#ff0000"/>
<ellipse cx="1385.3" cy="694.8" rx="3.4" ry="3.3" fill="#c98686"/>
<ellipse cx="1410.5" cy="693.9" rx="10.2" ry="10" fill="#ff0000"/>
<ellipse cx="1410.5" cy="693.9" rx="3.4" ry="3.3" fill="#c98686"/>
<ellipse cx="1435.8" cy="708.5" rx="10.2" ry="10" fill="#ff0000"/>
<ellipse cx="1435.8" cy="708.5" rx="3.4" ry="3.3" fill="#c98686"/>
<ellipse cx="1461" cy="712" rx="10.2" ry="10" fill="#ff0000"/>
<ellipse cx="1461" cy="712" rx="3.4" ry="3.3" fill="#c98686"/>
<ellipse cx="1486.3" cy="709.3" rx="10.2" ry="10" fill="#ff0000"/>
<ellipse cx="1486.3" cy="709.3" rx="3.4" ry="3.3" fill="#c98686"/>
<ellipse cx="1511.5" cy="703.7" rx="10.2" ry="10" fill="#ff0000"/>
<ellipse cx="1511.5" cy="703.7" rx="3.4" ry="3.3" fill="#c98686"/>
<ellipse cx="1536.8" cy="699.7" rx="10.2" ry="10" fill="#ff0000"/>
<ellipse cx="1536.8" cy="699.7" rx="3.4" ry="3.3" fill="#c98686"/>
<ellipse cx="1562" cy="693" rx="10.2" ry="10" fill="#ff0000"/>
<ellipse cx="1562" cy="693" rx="3.4" ry="3.3" fill="#c98686"/>
<ellipse cx="1587.3" cy="683.7" rx="10.2" ry="10" fill="#ff0000"/>
<ellipse cx="1587.3" cy="683.7" rx="3.4" ry="3.3" fill="#c98686"/>
<ellipse cx="1612.5" cy="669" rx="10.2" ry="10" fill="#ff0000"/>
<ellipse cx="1612.5" cy="669" rx="3.4" ry="3.3" fill="#c98686"/>
<ellipse cx="1637.8" cy="606.4" rx="10.2" ry="10" fill="#ff0000"/>
<ellipse cx="1637.8" cy="606.4" rx="3.4" ry="3.3" fill="#c98686"/>
<ellipse cx="1663" cy="438.5" rx="10.2" ry="10" fill="#ff0000"/>
<ellipse cx="1663" cy="438.5" rx="3.4" ry="3.3" fill="#c98686"/>
<ellipse cx="1688.3" cy="273.3" rx="10.2" ry="10" fill="#ff0000"/>
<ellipse cx="1688.3" cy="273.3" rx="3.4" ry="3.3" fill="#c98686"/>
<ellipse cx="1713.5" cy="441.2" rx="10.2" ry="10" fill="#ff0000"/>
<ellipse cx="1713.5" cy="441.2" rx="3.4" ry="3.3" fill="#c98686"/>
<ellipse cx="1738.8" cy="623.7" rx="10.2" ry="10" fill="#ff0000"/>
<ellipse cx="1738.8" cy="623.7" rx="3.4" ry="3.3" fill="#c98686"/>
<ellipse cx="1764" cy="710.7" rx="10.2" ry="10" fill="#ff0000"/>
<ellipse cx="1764" cy="710.7" rx="3.4" ry="3.3" fill="#c98686"/>
<ellipse cx="1789.3" cy="750.3" rx="10.2" ry="10" fill="#ff0000"/>
<ellipse cx="1789.3" cy="750.3" rx="3.4" ry="3.3" fill="#c98686"/>
<ellipse cx="1814.5" cy="778.3" rx="10.2" ry="10" fill="#ff0000"/>
<ellipse cx="1814.5" cy="778.3" rx="3.4" ry="3.3" fill="#c98686"/>
<ellipse cx="1839.8" cy="800.5" rx="10.2" ry="10" fill="#ff0000"/>
<ellipse cx="1839.8" cy="800.5" rx="3.4" ry="3.3" fill="#c98686"/>
<ellipse cx="1865" cy="809" rx="10.2" ry="10" fill="#ff0000"/>
<ellipse cx="1865" cy="809" rx="3.4" ry="3.3" fill="#c98686"/>
<ellipse cx="1890.3" cy="808" rx="10.2" ry="10" fill="#ff0000"/>
<ellipse cx="1890.3" cy="808" rx="3.4" ry="3.3" fill="#c98686"/>
<ellipse cx="1915.5" cy="805.8" rx="10.2" ry="10" fill="#ff0000"/>
<ellipse cx="1915.5" cy="805.8" rx="3.4" ry="3.3" fill="#c98686"/>
<ellipse cx="1940.8" cy="812.4" rx="10.2" ry="10" fill="#ff0000"/>
<ellipse cx="1940.8" cy="812.4" rx="3.4" ry="3.3" fill="#c98686"/>
<ellipse cx="1966" cy="813" rx="10.2" ry="10" fill="#ff0000"/>
<ellipse cx="1966" cy="813" rx="3.4" ry="3.3" fill="#c98686"/>
<ellipse cx="1991.3" cy="783.8" rx="10.2" ry="10" fill="#ff0000"/>
<ellipse cx="1991.3" cy="783.8" rx="3.4" ry="3.3" fill="#c98686"/>
<ellipse cx="2016.5" cy="683.7" rx="10.2" ry="10" fill="#ff0000"/>
<ellipse cx="2016.5" cy="683.7" rx="3.4" ry="3.3" fill="#c98686"/>
<ellipse cx="2041.8" cy="409.2" rx="10.2" ry="10" fill="#ff0000"/>
<ellipse cx="2041.8" cy="409.2" rx="3.4" ry="3.3" fill="#c98686"/>
<ellipse cx="2067.1" cy="185.3" rx="10.2" ry="10" fill="#ff0000"/>
<ellipse cx="2067.1" cy="185.3" rx="3.4" ry="3.3" fill="#c98686"/>
<ellipse cx="2092.3" cy="533.1" rx="10.2" ry="10" fill="#ff0000"/>
<ellipse cx="2092.3" cy="533.1" rx="3.4" ry="3.3" fill="#c98686"/>
<ellipse cx="2117.6" cy="784.8" rx="10.2" ry="10" fill="#ff0000"/>
<ellipse cx="2117.6" cy="784.8" rx="3.4" ry="3.3" fill="#c98686"/>
<ellipse cx="2142.8" cy="885.6" rx="10.2" ry="10" fill="#ff0000"/>
<ellipse cx="2142.8" cy="885.6" rx="3.4" ry="3.3" fill="#c98686"/>
<ellipse cx="2168.1" cy="930.6" rx="10.2" ry="10" fill="#ff0000"/>
<ellipse cx="2168.1" cy="930.6" rx="3.4" ry="3.3" fill="#c98686"/>
<ellipse cx="2193.3" cy="951.2" rx="10.2" ry="10" fill="#ff0000"/>
<ellipse cx="2193.3" cy="951.2" rx="3.4" ry="3.3" fill="#c98686"/>
<ellipse cx="2218.6" cy="965.6" rx="10.2" ry="10" fill="#ff0000"/>
<ellipse cx="2218.6" cy="965.6" rx="3.4" ry="3.3" fill="#c98686"/>
<ellipse cx="2243.8" cy="977.9" rx="10.2" ry="10" fill="#ff0000"/>
<ellipse cx="2243.8" cy="977.9" rx="3.4" ry="3.3" fill="#c98686"/>
<ellipse cx="2269.1" cy="981.2" rx="10.2" ry="10" fill="#ff0000"/>
<ellipse cx="2269.1" cy="981.2" rx="3.4" ry="3.3" fill="#c98686"/>
<ellipse cx="2294.3" cy="985.5" rx="10.2" ry="10" fill="#ff0000"/>
<ellipse cx="2294.3" cy="985.5" rx="3.4" ry="3.3" fill="#c98686"/>
<ellipse cx="2319.6" cy="987.9" rx="10.2" ry="10" fill="#ff0000"/>
<ellipse cx="2319.6" cy="987.9" rx="3.4" ry="3.3" fill="#c98686"/>
<ellipse cx="1309.5" cy="697" rx="10.2" ry="10" fill="#ff0000"/>
<ellipse cx="1309.5" cy="697" rx="3.4" ry="3.3" fill="#c98686"/>
</g>
<line x1="1685.8" y1="690" x2="1685.8" y2="995.5" stroke="#8f4a12" stroke-width="3.2" stroke-linecap="butt"/>
<line x1="2064.5" y1="241" x2="2064.5" y2="995.5" stroke="#8f4a12" stroke-width="3.2" stroke-linecap="butt"/>
<line x1="1685.2" y1="54.3" x2="1685.2" y2="146" stroke="#e01010" stroke-width="3.4" stroke-linecap="butt"/>
<line x1="2064.4" y1="54.3" x2="2064.4" y2="150" stroke="#e01010" stroke-width="3.4" stroke-linecap="butt"/>
<g stroke="#000" stroke-width="1.8" fill="none" stroke-linecap="round"><line x1="1687" y1="757" x2="2069" y2="763"/><polyline points="1719,738.3 1687,757 1719,775.6"/><polyline points="2038,743.8 2069,763 2038,782.4"/></g>
<text x="1862" y="741" font-size="28.5" font-family="'Liberation Serif', 'Times New Roman', serif" fill="#000" font-weight="bold" textLength="76" lengthAdjust="spacingAndGlyphs" >24 eV</text>
<line x1="1291.6" y1="934.4" x2="1313.6" y2="934.4" stroke="#000" stroke-width="3.2" stroke-linecap="butt"/>
<line x1="1291.6" y1="838.3" x2="1313.6" y2="838.3" stroke="#000" stroke-width="3.2" stroke-linecap="butt"/>
<line x1="1291.6" y1="742.2" x2="1313.6" y2="742.2" stroke="#000" stroke-width="3.2" stroke-linecap="butt"/>
<line x1="1291.6" y1="646.1" x2="1313.6" y2="646.1" stroke="#000" stroke-width="3.2" stroke-linecap="butt"/>
<line x1="1291.6" y1="550" x2="1313.6" y2="550" stroke="#000" stroke-width="3.2" stroke-linecap="butt"/>
<line x1="1291.6" y1="453.9" x2="1313.6" y2="453.9" stroke="#000" stroke-width="3.2" stroke-linecap="butt"/>
<line x1="1291.6" y1="357.8" x2="1313.6" y2="357.8" stroke="#000" stroke-width="3.2" stroke-linecap="butt"/>
<line x1="1291.6" y1="261.7" x2="1313.6" y2="261.7" stroke="#000" stroke-width="3.2" stroke-linecap="butt"/>
<line x1="1291.6" y1="165.6" x2="1313.6" y2="165.6" stroke="#000" stroke-width="3.2" stroke-linecap="butt"/>
<line x1="1291.6" y1="69.5" x2="1313.6" y2="69.5" stroke="#000" stroke-width="3.2" stroke-linecap="butt"/>
<line x1="1300.6" y1="992.1" x2="1313.6" y2="992.1" stroke="#000" stroke-width="3.2" stroke-linecap="butt"/>
<line x1="1300.6" y1="972.8" x2="1313.6" y2="972.8" stroke="#000" stroke-width="3.2" stroke-linecap="butt"/>
<line x1="1300.6" y1="953.6" x2="1313.6" y2="953.6" stroke="#000" stroke-width="3.2" stroke-linecap="butt"/>
<line x1="1300.6" y1="915.2" x2="1313.6" y2="915.2" stroke="#000" stroke-width="3.2" stroke-linecap="butt"/>
<line x1="1300.6" y1="896" x2="1313.6" y2="896" stroke="#000" stroke-width="3.2" stroke-linecap="butt"/>
<line x1="1300.6" y1="876.7" x2="1313.6" y2="876.7" stroke="#000" stroke-width="3.2" stroke-linecap="butt"/>
<line x1="1300.6" y1="857.5" x2="1313.6" y2="857.5" stroke="#000" stroke-width="3.2" stroke-linecap="butt"/>
<line x1="1300.6" y1="819.1" x2="1313.6" y2="819.1" stroke="#000" stroke-width="3.2" stroke-linecap="butt"/>
<line x1="1300.6" y1="799.9" x2="1313.6" y2="799.9" stroke="#000" stroke-width="3.2" stroke-linecap="butt"/>
<line x1="1300.6" y1="780.6" x2="1313.6" y2="780.6" stroke="#000" stroke-width="3.2" stroke-linecap="butt"/>
<line x1="1300.6" y1="761.4" x2="1313.6" y2="761.4" stroke="#000" stroke-width="3.2" stroke-linecap="butt"/>
<line x1="1300.6" y1="723" x2="1313.6" y2="723" stroke="#000" stroke-width="3.2" stroke-linecap="butt"/>
<line x1="1300.6" y1="703.8" x2="1313.6" y2="703.8" stroke="#000" stroke-width="3.2" stroke-linecap="butt"/>
<line x1="1300.6" y1="684.5" x2="1313.6" y2="684.5" stroke="#000" stroke-width="3.2" stroke-linecap="butt"/>
<line x1="1300.6" y1="665.3" x2="1313.6" y2="665.3" stroke="#000" stroke-width="3.2" stroke-linecap="butt"/>
<line x1="1300.6" y1="626.9" x2="1313.6" y2="626.9" stroke="#000" stroke-width="3.2" stroke-linecap="butt"/>
<line x1="1300.6" y1="607.7" x2="1313.6" y2="607.7" stroke="#000" stroke-width="3.2" stroke-linecap="butt"/>
<line x1="1300.6" y1="588.4" x2="1313.6" y2="588.4" stroke="#000" stroke-width="3.2" stroke-linecap="butt"/>
<line x1="1300.6" y1="569.2" x2="1313.6" y2="569.2" stroke="#000" stroke-width="3.2" stroke-linecap="butt"/>
<line x1="1300.6" y1="530.8" x2="1313.6" y2="530.8" stroke="#000" stroke-width="3.2" stroke-linecap="butt"/>
<line x1="1300.6" y1="511.6" x2="1313.6" y2="511.6" stroke="#000" stroke-width="3.2" stroke-linecap="butt"/>
<line x1="1300.6" y1="492.3" x2="1313.6" y2="492.3" stroke="#000" stroke-width="3.2" stroke-linecap="butt"/>
<line x1="1300.6" y1="473.1" x2="1313.6" y2="473.1" stroke="#000" stroke-width="3.2" stroke-linecap="butt"/>
<line x1="1300.6" y1="434.7" x2="1313.6" y2="434.7" stroke="#000" stroke-width="3.2" stroke-linecap="butt"/>
<line x1="1300.6" y1="415.5" x2="1313.6" y2="415.5" stroke="#000" stroke-width="3.2" stroke-linecap="butt"/>
<line x1="1300.6" y1="396.2" x2="1313.6" y2="396.2" stroke="#000" stroke-width="3.2" stroke-linecap="butt"/>
<line x1="1300.6" y1="377" x2="1313.6" y2="377" stroke="#000" stroke-width="3.2" stroke-linecap="butt"/>
<line x1="1300.6" y1="338.6" x2="1313.6" y2="338.6" stroke="#000" stroke-width="3.2" stroke-linecap="butt"/>
<line x1="1300.6" y1="319.4" x2="1313.6" y2="319.4" stroke="#000" stroke-width="3.2" stroke-linecap="butt"/>
<line x1="1300.6" y1="300.1" x2="1313.6" y2="300.1" stroke="#000" stroke-width="3.2" stroke-linecap="butt"/>
<line x1="1300.6" y1="280.9" x2="1313.6" y2="280.9" stroke="#000" stroke-width="3.2" stroke-linecap="butt"/>
<line x1="1300.6" y1="242.5" x2="1313.6" y2="242.5" stroke="#000" stroke-width="3.2" stroke-linecap="butt"/>
<line x1="1300.6" y1="223.3" x2="1313.6" y2="223.3" stroke="#000" stroke-width="3.2" stroke-linecap="butt"/>
<line x1="1300.6" y1="204" x2="1313.6" y2="204" stroke="#000" stroke-width="3.2" stroke-linecap="butt"/>
<line x1="1300.6" y1="184.8" x2="1313.6" y2="184.8" stroke="#000" stroke-width="3.2" stroke-linecap="butt"/>
<line x1="1300.6" y1="146.4" x2="1313.6" y2="146.4" stroke="#000" stroke-width="3.2" stroke-linecap="butt"/>
<line x1="1300.6" y1="127.2" x2="1313.6" y2="127.2" stroke="#000" stroke-width="3.2" stroke-linecap="butt"/>
<line x1="1300.6" y1="107.9" x2="1313.6" y2="107.9" stroke="#000" stroke-width="3.2" stroke-linecap="butt"/>
<line x1="1300.6" y1="88.7" x2="1313.6" y2="88.7" stroke="#000" stroke-width="3.2" stroke-linecap="butt"/>
<line x1="2221.6" y1="995.5" x2="2221.6" y2="1020.5" stroke="#000" stroke-width="3.4" stroke-linecap="butt"/>
<line x1="2064.4" y1="995.5" x2="2064.4" y2="1020.5" stroke="#000" stroke-width="3.4" stroke-linecap="butt"/>
<line x1="1907.2" y1="995.5" x2="1907.2" y2="1020.5" stroke="#000" stroke-width="3.4" stroke-linecap="butt"/>
<line x1="1750" y1="995.5" x2="1750" y2="1020.5" stroke="#000" stroke-width="3.4" stroke-linecap="butt"/>
<line x1="1592.8" y1="995.5" x2="1592.8" y2="1020.5" stroke="#000" stroke-width="3.4" stroke-linecap="butt"/>
<line x1="1435.6" y1="995.5" x2="1435.6" y2="1020.5" stroke="#000" stroke-width="3.4" stroke-linecap="butt"/>
<line x1="2315.9" y1="995.5" x2="2315.9" y2="1007.5" stroke="#000" stroke-width="3.4" stroke-linecap="butt"/>
<line x1="2284.5" y1="995.5" x2="2284.5" y2="1007.5" stroke="#000" stroke-width="3.4" stroke-linecap="butt"/>
<line x1="2253" y1="995.5" x2="2253" y2="1007.5" stroke="#000" stroke-width="3.4" stroke-linecap="butt"/>
<line x1="2190.2" y1="995.5" x2="2190.2" y2="1007.5" stroke="#000" stroke-width="3.4" stroke-linecap="butt"/>
<line x1="2158.7" y1="995.5" x2="2158.7" y2="1007.5" stroke="#000" stroke-width="3.4" stroke-linecap="butt"/>
<line x1="2127.3" y1="995.5" x2="2127.3" y2="1007.5" stroke="#000" stroke-width="3.4" stroke-linecap="butt"/>
<line x1="2095.8" y1="995.5" x2="2095.8" y2="1007.5" stroke="#000" stroke-width="3.4" stroke-linecap="butt"/>
<line x1="2033" y1="995.5" x2="2033" y2="1007.5" stroke="#000" stroke-width="3.4" stroke-linecap="butt"/>
<line x1="2001.5" y1="995.5" x2="2001.5" y2="1007.5" stroke="#000" stroke-width="3.4" stroke-linecap="butt"/>
<line x1="1970.1" y1="995.5" x2="1970.1" y2="1007.5" stroke="#000" stroke-width="3.4" stroke-linecap="butt"/>
<line x1="1938.6" y1="995.5" x2="1938.6" y2="1007.5" stroke="#000" stroke-width="3.4" stroke-linecap="butt"/>
<line x1="1875.8" y1="995.5" x2="1875.8" y2="1007.5" stroke="#000" stroke-width="3.4" stroke-linecap="butt"/>
<line x1="1844.3" y1="995.5" x2="1844.3" y2="1007.5" stroke="#000" stroke-width="3.4" stroke-linecap="butt"/>
<line x1="1812.9" y1="995.5" x2="1812.9" y2="1007.5" stroke="#000" stroke-width="3.4" stroke-linecap="butt"/>
<line x1="1781.4" y1="995.5" x2="1781.4" y2="1007.5" stroke="#000" stroke-width="3.4" stroke-linecap="butt"/>
<line x1="1718.6" y1="995.5" x2="1718.6" y2="1007.5" stroke="#000" stroke-width="3.4" stroke-linecap="butt"/>
<line x1="1687.1" y1="995.5" x2="1687.1" y2="1007.5" stroke="#000" stroke-width="3.4" stroke-linecap="butt"/>
<line x1="1655.7" y1="995.5" x2="1655.7" y2="1007.5" stroke="#000" stroke-width="3.4" stroke-linecap="butt"/>
<line x1="1624.2" y1="995.5" x2="1624.2" y2="1007.5" stroke="#000" stroke-width="3.4" stroke-linecap="butt"/>
<line x1="1561.4" y1="995.5" x2="1561.4" y2="1007.5" stroke="#000" stroke-width="3.4" stroke-linecap="butt"/>
<line x1="1529.9" y1="995.5" x2="1529.9" y2="1007.5" stroke="#000" stroke-width="3.4" stroke-linecap="butt"/>
<line x1="1498.5" y1="995.5" x2="1498.5" y2="1007.5" stroke="#000" stroke-width="3.4" stroke-linecap="butt"/>
<line x1="1467" y1="995.5" x2="1467" y2="1007.5" stroke="#000" stroke-width="3.4" stroke-linecap="butt"/>
<line x1="1404.2" y1="995.5" x2="1404.2" y2="1007.5" stroke="#000" stroke-width="3.4" stroke-linecap="butt"/>
<line x1="1372.7" y1="995.5" x2="1372.7" y2="1007.5" stroke="#000" stroke-width="3.4" stroke-linecap="butt"/>
<line x1="1341.3" y1="995.5" x2="1341.3" y2="1007.5" stroke="#000" stroke-width="3.4" stroke-linecap="butt"/>
<rect x="1313.6" y="54.3" width="1023.8" height="941.2" fill="none" stroke="#000" stroke-width="3.4"/>
<text x="1292" y="943.4" font-size="37" font-family="'Liberation Sans', Arial, sans-serif" fill="#111" font-weight="bold" textLength="34" lengthAdjust="spacingAndGlyphs" text-anchor="end" >25</text>
<text x="1292" y="847.3" font-size="37" font-family="'Liberation Sans', Arial, sans-serif" fill="#111" font-weight="bold" textLength="34" lengthAdjust="spacingAndGlyphs" text-anchor="end" >30</text>
<text x="1292" y="751.2" font-size="37" font-family="'Liberation Sans', Arial, sans-serif" fill="#111" font-weight="bold" textLength="34" lengthAdjust="spacingAndGlyphs" text-anchor="end" >35</text>
<text x="1292" y="655.1" font-size="37" font-family="'Liberation Sans', Arial, sans-serif" fill="#111" font-weight="bold" textLength="34" lengthAdjust="spacingAndGlyphs" text-anchor="end" >40</text>
<text x="1292" y="559" font-size="37" font-family="'Liberation Sans', Arial, sans-serif" fill="#111" font-weight="bold" textLength="34" lengthAdjust="spacingAndGlyphs" text-anchor="end" >45</text>
<text x="1292" y="462.9" font-size="37" font-family="'Liberation Sans', Arial, sans-serif" fill="#111" font-weight="bold" textLength="34" lengthAdjust="spacingAndGlyphs" text-anchor="end" >50</text>
<text x="1292" y="366.8" font-size="37" font-family="'Liberation Sans', Arial, sans-serif" fill="#111" font-weight="bold" textLength="34" lengthAdjust="spacingAndGlyphs" text-anchor="end" >55</text>
<text x="1292" y="270.7" font-size="37" font-family="'Liberation Sans', Arial, sans-serif" fill="#111" font-weight="bold" textLength="34" lengthAdjust="spacingAndGlyphs" text-anchor="end" >60</text>
<text x="1292" y="174.6" font-size="37" font-family="'Liberation Sans', Arial, sans-serif" fill="#111" font-weight="bold" textLength="34" lengthAdjust="spacingAndGlyphs" text-anchor="end" >65</text>
<text x="1292" y="78.5" font-size="37" font-family="'Liberation Sans', Arial, sans-serif" fill="#111" font-weight="bold" textLength="34" lengthAdjust="spacingAndGlyphs" text-anchor="end" >70</text>
<text x="2221.6" y="1050" font-size="32" font-family="'Liberation Sans', Arial, sans-serif" fill="#111" font-weight="bold" textLength="50" lengthAdjust="spacingAndGlyphs" text-anchor="middle" >430</text>
<text x="2064.4" y="1050" font-size="32" font-family="'Liberation Sans', Arial, sans-serif" fill="#111" font-weight="bold" textLength="50" lengthAdjust="spacingAndGlyphs" text-anchor="middle" >440</text>
<text x="1907.2" y="1050" font-size="32" font-family="'Liberation Sans', Arial, sans-serif" fill="#111" font-weight="bold" textLength="50" lengthAdjust="spacingAndGlyphs" text-anchor="middle" >450</text>
<text x="1750" y="1050" font-size="32" font-family="'Liberation Sans', Arial, sans-serif" fill="#111" font-weight="bold" textLength="50" lengthAdjust="spacingAndGlyphs" text-anchor="middle" >460</text>
<text x="1592.8" y="1050" font-size="32" font-family="'Liberation Sans', Arial, sans-serif" fill="#111" font-weight="bold" textLength="50" lengthAdjust="spacingAndGlyphs" text-anchor="middle" >470</text>
<text x="1435.6" y="1050" font-size="32" font-family="'Liberation Sans', Arial, sans-serif" fill="#111" font-weight="bold" textLength="50" lengthAdjust="spacingAndGlyphs" text-anchor="middle" >480</text>
<text x="1243" y="550.5" font-size="36" font-family="'Liberation Sans', Arial, sans-serif" fill="#111" font-weight="bold" textLength="152" lengthAdjust="spacingAndGlyphs" transform="rotate(-90 1243 550.5)" >CPS x 10</text>
<text x="1226" y="397" font-size="29" font-family="'Liberation Sans', Arial, sans-serif" fill="#111" font-weight="bold" textLength="32" lengthAdjust="spacingAndGlyphs" transform="rotate(-90 1226 397)" >−3</text>
<text x="1359" y="129.9" font-size="34" font-family="'Liberation Sans', Arial, sans-serif" fill="#1e1e1e" textLength="83" lengthAdjust="spacingAndGlyphs" >Name</text>
<text x="1545.4" y="130" font-size="34" font-family="'Liberation Sans', Arial, sans-serif" fill="#1e1e1e" textLength="66" lengthAdjust="spacingAndGlyphs" >Pos.</text>
<text x="1660.4" y="130" font-size="34" font-family="'Liberation Sans', Arial, sans-serif" fill="#1e1e1e" textLength="94" lengthAdjust="spacingAndGlyphs" >%Area</text>
<text x="1359" y="169.8" font-size="34" font-family="'Liberation Sans', Arial, sans-serif" fill="#d4606a" textLength="129" lengthAdjust="spacingAndGlyphs" >Bi 4d 5/2</text>
<text x="1534.8" y="169.5" font-size="34" font-family="'Liberation Sans', Arial, sans-serif" fill="#1e1e1e" textLength="94" lengthAdjust="spacingAndGlyphs" >439.75</text>
<text x="1671" y="169.5" font-size="34" font-family="'Liberation Sans', Arial, sans-serif" fill="#1e1e1e" textLength="79" lengthAdjust="spacingAndGlyphs" >56.98</text>
<text x="1359" y="210.7" font-size="34" font-family="'Liberation Sans', Arial, sans-serif" fill="#8ab866" textLength="129" lengthAdjust="spacingAndGlyphs" >Bi 4d 3/2</text>
<text x="1534.8" y="211" font-size="34" font-family="'Liberation Sans', Arial, sans-serif" fill="#1e1e1e" textLength="94" lengthAdjust="spacingAndGlyphs" >463.39</text>
<text x="1671" y="211" font-size="34" font-family="'Liberation Sans', Arial, sans-serif" fill="#1e1e1e" textLength="79" lengthAdjust="spacingAndGlyphs" >43.02</text>
<text x="1690" y="87.8" font-size="31" font-family="'Liberation Sans', Arial, sans-serif" fill="#111" font-weight="bold" textLength="123" lengthAdjust="spacingAndGlyphs" >Bi 4d3/2</text>
<text x="2066.7" y="87.5" font-size="31" font-family="'Liberation Sans', Arial, sans-serif" fill="#111" font-weight="bold" textLength="77" lengthAdjust="spacingAndGlyphs" >Bi 4d</text>
<text x="2066.7" y="130" font-size="31" font-family="'Liberation Sans', Arial, sans-serif" fill="#111" font-weight="bold" textLength="124" lengthAdjust="spacingAndGlyphs" >Bi 4d5/2</text>
<text x="2253" y="123" font-size="39" font-family="'Liberation Serif', 'Times New Roman', serif" fill="#000" textLength="51" lengthAdjust="spacingAndGlyphs" stroke="#000" stroke-width="1.1">(b)</text>
<clipPath id="cc"><rect x="130.3" y="1078" width="1012.3" height="921.5"/></clipPath>
<g clip-path="url(#cc)">
<path d="M120,1943C163.3,1942.9 327,1942.6 380,1942.5C433,1942.4 425.8,1942.3 437.8,1942.5C449.8,1942.7 447.2,1942.8 452,1943.5C456.8,1944.2 461.8,1945.2 466.6,1946.4C471.4,1947.7 476.2,1949.3 481,1951C485.8,1952.7 490.7,1954.8 495.5,1956.5C500.3,1958.2 505.2,1960.1 510,1961.5C514.8,1962.9 519.4,1964.2 524.4,1965C529.4,1965.8 530.4,1966.1 540,1966.5C549.6,1966.9 565.3,1967.5 582,1967.5C598.7,1967.5 619.2,1966.8 640,1966.5C660.8,1966.2 691.2,1965.5 707,1965.5C722.8,1965.5 725.7,1965.8 735,1966.5C744.3,1967.2 755.8,1968.4 762.8,1969.5C769.8,1970.6 772.4,1971.7 777,1973C781.6,1974.3 786.1,1975.8 790.6,1977.5C795.1,1979.2 799.4,1981.5 804,1983.5C808.6,1985.5 813.8,1987.9 818.5,1989.5C823.2,1991.1 827.4,1992.1 832,1993C836.6,1993.9 840,1994.3 846.3,1994.7C852.6,1995.1 819.4,1995.4 870,1995.5C920.6,1995.6 1103.3,1995.5 1150,1995.5" fill="none" stroke="#9a4a06" stroke-width="3.6" stroke-linejoin="round" stroke-linecap="round" />
<path d="M127.5,1943.5C131.3,1943.5 142.6,1943.6 150.1,1943.6C157.6,1943.6 165.2,1943.6 172.7,1943.6C180.2,1943.6 187.8,1943.6 195.3,1943.6C202.8,1943.6 210.4,1943.6 217.9,1943.6C225.4,1943.6 233,1943.6 240.5,1943.6C248,1943.6 255.6,1943.6 263.1,1943.6C270.6,1943.6 278.2,1943.6 285.7,1943.6C293.2,1943.6 300.8,1943.6 308.3,1943.6C315.8,1943.6 323.4,1943.1 330.9,1943.6C338.4,1944.1 346,1945.9 353.5,1946.5C361,1947.1 368.6,1946.8 376.1,1947C383.6,1947.2 391.2,1950.2 398.7,1948C406.2,1945.8 413.8,1945.6 421.3,1934C428.8,1922.4 436.4,1912.9 443.9,1878.6C451.4,1844.3 459,1798.7 466.5,1728.4C474,1658.1 481.6,1515 489.1,1457C496.6,1399 504.2,1348.7 511.7,1380.4C519.2,1412.2 526.8,1564.4 534.3,1647.5C541.8,1730.6 549.4,1829.1 556.9,1879C564.4,1928.9 572,1933 579.5,1946.8C587,1960.6 594.6,1958.1 602.1,1962.1C609.6,1966 617.2,1968.4 624.7,1970.5C632.2,1972.6 639.8,1974.2 647.3,1974.7C654.8,1975.2 662.4,1974.5 669.9,1973.8C677.4,1973.1 685,1972.7 692.5,1970.5C700,1968.3 707.6,1969.6 715.1,1960.8C722.6,1952 730.2,1951.2 737.7,1917.6C745.2,1884 752.8,1842.5 760.3,1759.1C767.8,1675.7 775.4,1511.2 782.9,1417.4C790.4,1323.6 798,1188.1 805.5,1196.2C813,1204.3 820.6,1362.3 828.1,1466C835.6,1569.7 843.2,1737.9 850.7,1818.5C858.2,1899.1 865.8,1923.1 873.3,1949.6C880.8,1976.1 888.4,1971.5 895.9,1977.5C903.4,1983.5 911,1983.2 918.5,1985.3C926,1987.4 933.6,1989 941.1,1990C948.6,1991 956.2,1991.2 963.7,1991.4C971.2,1991.6 978.8,1991.4 986.3,1991.4C993.8,1991.4 1001.4,1991.4 1008.9,1991.4C1016.4,1991.4 1024,1991.4 1031.5,1991.4C1039,1991.4 1046.6,1991.4 1054.1,1991.4C1061.6,1991.4 1069.2,1991.4 1076.7,1991.4C1084.2,1991.4 1091.8,1991.4 1099.3,1991.4C1106.8,1991.4 1114.4,1991.4 1121.9,1991.4C1129.4,1991.4 1140.7,1991.4 1144.5,1991.4" fill="none" stroke="#ff0000" stroke-width="4.4" stroke-linejoin="round" stroke-linecap="round" />
<ellipse cx="127.5" cy="1943.5" rx="9.8" ry="11.2" fill="#ff0000"/>
<ellipse cx="127.5" cy="1943.5" rx="3.4" ry="3.9" fill="#c98686"/>
<ellipse cx="150.1" cy="1943.6" rx="9.8" ry="11.2" fill="#ff0000"/>
<ellipse cx="150.1" cy="1943.6" rx="3.4" ry="3.9" fill="#c98686"/>
<ellipse cx="172.7" cy="1943.6" rx="9.8" ry="11.2" fill="#ff0000"/>
<ellipse cx="172.7" cy="1943.6" rx="3.4" ry="3.9" fill="#c98686"/>
<ellipse cx="195.3" cy="1943.6" rx="9.8" ry="11.2" fill="#ff0000"/>
<ellipse cx="195.3" cy="1943.6" rx="3.4" ry="3.9" fill="#c98686"/>
<ellipse cx="217.9" cy="1943.6" rx="9.8" ry="11.2" fill="#ff0000"/>
<ellipse cx="217.9" cy="1943.6" rx="3.4" ry="3.9" fill="#c98686"/>
<ellipse cx="240.5" cy="1943.6" rx="9.8" ry="11.2" fill="#ff0000"/>
<ellipse cx="240.5" cy="1943.6" rx="3.4" ry="3.9" fill="#c98686"/>
<ellipse cx="263.1" cy="1943.6" rx="9.8" ry="11.2" fill="#ff0000"/>
<ellipse cx="263.1" cy="1943.6" rx="3.4" ry="3.9" fill="#c98686"/>
<ellipse cx="285.7" cy="1943.6" rx="9.8" ry="11.2" fill="#ff0000"/>
<ellipse cx="285.7" cy="1943.6" rx="3.4" ry="3.9" fill="#c98686"/>
<ellipse cx="308.3" cy="1943.6" rx="9.8" ry="11.2" fill="#ff0000"/>
<ellipse cx="308.3" cy="1943.6" rx="3.4" ry="3.9" fill="#c98686"/>
<ellipse cx="330.9" cy="1943.6" rx="9.8" ry="11.2" fill="#ff0000"/>
<ellipse cx="330.9" cy="1943.6" rx="3.4" ry="3.9" fill="#c98686"/>
<ellipse cx="353.5" cy="1946.5" rx="9.8" ry="11.2" fill="#ff0000"/>
<ellipse cx="353.5" cy="1946.5" rx="3.4" ry="3.9" fill="#c98686"/>
<ellipse cx="376.1" cy="1947" rx="9.8" ry="11.2" fill="#ff0000"/>
<ellipse cx="376.1" cy="1947" rx="3.4" ry="3.9" fill="#c98686"/>
<ellipse cx="398.7" cy="1948" rx="9.8" ry="11.2" fill="#ff0000"/>
<ellipse cx="398.7" cy="1948" rx="3.4" ry="3.9" fill="#c98686"/>
<ellipse cx="421.3" cy="1934" rx="9.8" ry="11.2" fill="#ff0000"/>
<ellipse cx="421.3" cy="1934" rx="3.4" ry="3.9" fill="#c98686"/>
<ellipse cx="443.9" cy="1878.6" rx="9.8" ry="11.2" fill="#ff0000"/>
<ellipse cx="443.9" cy="1878.6" rx="3.4" ry="3.9" fill="#c98686"/>
<ellipse cx="466.5" cy="1728.4" rx="9.8" ry="11.2" fill="#ff0000"/>
<ellipse cx="466.5" cy="1728.4" rx="3.4" ry="3.9" fill="#c98686"/>
<ellipse cx="489.1" cy="1457" rx="9.8" ry="11.2" fill="#ff0000"/>
<ellipse cx="489.1" cy="1457" rx="3.4" ry="3.9" fill="#c98686"/>
<ellipse cx="511.7" cy="1380.4" rx="9.8" ry="11.2" fill="#ff0000"/>
<ellipse cx="511.7" cy="1380.4" rx="3.4" ry="3.9" fill="#c98686"/>
<ellipse cx="534.3" cy="1647.5" rx="9.8" ry="11.2" fill="#ff0000"/>
<ellipse cx="534.3" cy="1647.5" rx="3.4" ry="3.9" fill="#c98686"/>
<ellipse cx="556.9" cy="1879" rx="9.8" ry="11.2" fill="#ff0000"/>
<ellipse cx="556.9" cy="1879" rx="3.4" ry="3.9" fill="#c98686"/>
<ellipse cx="579.5" cy="1946.8" rx="9.8" ry="11.2" fill="#ff0000"/>
<ellipse cx="579.5" cy="1946.8" rx="3.4" ry="3.9" fill="#c98686"/>
<ellipse cx="602.1" cy="1962.1" rx="9.8" ry="11.2" fill="#ff0000"/>
<ellipse cx="602.1" cy="1962.1" rx="3.4" ry="3.9" fill="#c98686"/>
<ellipse cx="624.7" cy="1970.5" rx="9.8" ry="11.2" fill="#ff0000"/>
<ellipse cx="624.7" cy="1970.5" rx="3.4" ry="3.9" fill="#c98686"/>
<ellipse cx="647.3" cy="1974.7" rx="9.8" ry="11.2" fill="#ff0000"/>
<ellipse cx="647.3" cy="1974.7" rx="3.4" ry="3.9" fill="#c98686"/>
<ellipse cx="669.9" cy="1973.8" rx="9.8" ry="11.2" fill="#ff0000"/>
<ellipse cx="669.9" cy="1973.8" rx="3.4" ry="3.9" fill="#c98686"/>
<ellipse cx="692.5" cy="1970.5" rx="9.8" ry="11.2" fill="#ff0000"/>
<ellipse cx="692.5" cy="1970.5" rx="3.4" ry="3.9" fill="#c98686"/>
<ellipse cx="715.1" cy="1960.8" rx="9.8" ry="11.2" fill="#ff0000"/>
<ellipse cx="715.1" cy="1960.8" rx="3.4" ry="3.9" fill="#c98686"/>
<ellipse cx="737.7" cy="1917.6" rx="9.8" ry="11.2" fill="#ff0000"/>
<ellipse cx="737.7" cy="1917.6" rx="3.4" ry="3.9" fill="#c98686"/>
<ellipse cx="760.3" cy="1759.1" rx="9.8" ry="11.2" fill="#ff0000"/>
<ellipse cx="760.3" cy="1759.1" rx="3.4" ry="3.9" fill="#c98686"/>
<ellipse cx="782.9" cy="1417.4" rx="9.8" ry="11.2" fill="#ff0000"/>
<ellipse cx="782.9" cy="1417.4" rx="3.4" ry="3.9" fill="#c98686"/>
<ellipse cx="805.5" cy="1196.2" rx="9.8" ry="11.2" fill="#ff0000"/>
<ellipse cx="805.5" cy="1196.2" rx="3.4" ry="3.9" fill="#c98686"/>
<ellipse cx="828.1" cy="1466" rx="9.8" ry="11.2" fill="#ff0000"/>
<ellipse cx="828.1" cy="1466" rx="3.4" ry="3.9" fill="#c98686"/>
<ellipse cx="850.7" cy="1818.5" rx="9.8" ry="11.2" fill="#ff0000"/>
<ellipse cx="850.7" cy="1818.5" rx="3.4" ry="3.9" fill="#c98686"/>
<ellipse cx="873.3" cy="1949.6" rx="9.8" ry="11.2" fill="#ff0000"/>
<ellipse cx="873.3" cy="1949.6" rx="3.4" ry="3.9" fill="#c98686"/>
<ellipse cx="895.9" cy="1977.5" rx="9.8" ry="11.2" fill="#ff0000"/>
<ellipse cx="895.9" cy="1977.5" rx="3.4" ry="3.9" fill="#c98686"/>
<ellipse cx="918.5" cy="1985.3" rx="9.8" ry="11.2" fill="#ff0000"/>
<ellipse cx="918.5" cy="1985.3" rx="3.4" ry="3.9" fill="#c98686"/>
<ellipse cx="941.1" cy="1990" rx="9.8" ry="11.2" fill="#ff0000"/>
<ellipse cx="941.1" cy="1990" rx="3.4" ry="3.9" fill="#c98686"/>
<ellipse cx="963.7" cy="1991.4" rx="9.8" ry="11.2" fill="#ff0000"/>
<ellipse cx="963.7" cy="1991.4" rx="3.4" ry="3.9" fill="#c98686"/>
<ellipse cx="986.3" cy="1991.4" rx="9.8" ry="11.2" fill="#ff0000"/>
<ellipse cx="986.3" cy="1991.4" rx="3.4" ry="3.9" fill="#c98686"/>
<ellipse cx="1008.9" cy="1991.4" rx="9.8" ry="11.2" fill="#ff0000"/>
<ellipse cx="1008.9" cy="1991.4" rx="3.4" ry="3.9" fill="#c98686"/>
<ellipse cx="1031.5" cy="1991.4" rx="9.8" ry="11.2" fill="#ff0000"/>
<ellipse cx="1031.5" cy="1991.4" rx="3.4" ry="3.9" fill="#c98686"/>
<ellipse cx="1054.1" cy="1991.4" rx="9.8" ry="11.2" fill="#ff0000"/>
<ellipse cx="1054.1" cy="1991.4" rx="3.4" ry="3.9" fill="#c98686"/>
<ellipse cx="1076.7" cy="1991.4" rx="9.8" ry="11.2" fill="#ff0000"/>
<ellipse cx="1076.7" cy="1991.4" rx="3.4" ry="3.9" fill="#c98686"/>
<ellipse cx="1099.3" cy="1991.4" rx="9.8" ry="11.2" fill="#ff0000"/>
<ellipse cx="1099.3" cy="1991.4" rx="3.4" ry="3.9" fill="#c98686"/>
<ellipse cx="1121.9" cy="1991.4" rx="9.8" ry="11.2" fill="#ff0000"/>
<ellipse cx="1121.9" cy="1991.4" rx="3.4" ry="3.9" fill="#c98686"/>
<ellipse cx="1144.5" cy="1991.4" rx="9.8" ry="11.2" fill="#ff0000"/>
<ellipse cx="1144.5" cy="1991.4" rx="3.4" ry="3.9" fill="#c98686"/>
</g>
<line x1="507.4" y1="1675" x2="507.4" y2="1999.5" stroke="#8f4a12" stroke-width="3.2" stroke-linecap="butt"/>
<line x1="790.6" y1="1262" x2="790.6" y2="1999.5" stroke="#8f4a12" stroke-width="3.2" stroke-linecap="butt"/>
<line x1="677.3" y1="1983" x2="677.3" y2="1999.5" stroke="#8f4a12" stroke-width="3" stroke-linecap="butt"/>
<line x1="508" y1="1078" x2="508" y2="1171.7" stroke="#e01010" stroke-width="3.4" stroke-linecap="butt"/>
<line x1="676.9" y1="1078" x2="676.9" y2="1171.7" stroke="#e01010" stroke-width="3.4" stroke-linecap="butt"/>
<line x1="790.6" y1="1078" x2="790.6" y2="1171.7" stroke="#e01010" stroke-width="3.6" stroke-linecap="butt"/>
<g stroke="#000" stroke-width="1.8" fill="none" stroke-linecap="round"><line x1="502.7" y1="1779" x2="782.3" y2="1777.5"/><polyline points="537.4,1758.7 502.7,1779 537.4,1799.1"/><polyline points="748.1,1759.1 782.3,1777.5 748.1,1798.7"/></g>
<text x="611" y="1750" font-size="30" font-family="'Liberation Serif', 'Times New Roman', serif" fill="#000" font-weight="bold" textLength="60" lengthAdjust="spacingAndGlyphs" >6 eV</text>
<line x1="113.3" y1="1859.2" x2="130.3" y2="1859.2" stroke="#000" stroke-width="3.2" stroke-linecap="butt"/>
<line x1="113.3" y1="1694.4" x2="130.3" y2="1694.4" stroke="#000" stroke-width="3.2" stroke-linecap="butt"/>
<line x1="113.3" y1="1529.6" x2="130.3" y2="1529.6" stroke="#000" stroke-width="3.2" stroke-linecap="butt"/>
<line x1="113.3" y1="1364.8" x2="130.3" y2="1364.8" stroke="#000" stroke-width="3.2" stroke-linecap="butt"/>
<line x1="113.3" y1="1200" x2="130.3" y2="1200" stroke="#000" stroke-width="3.2" stroke-linecap="butt"/>
<line x1="121.3" y1="1991" x2="130.3" y2="1991" stroke="#000" stroke-width="3.2" stroke-linecap="butt"/>
<line x1="121.3" y1="1958.1" x2="130.3" y2="1958.1" stroke="#000" stroke-width="3.2" stroke-linecap="butt"/>
<line x1="121.3" y1="1925.1" x2="130.3" y2="1925.1" stroke="#000" stroke-width="3.2" stroke-linecap="butt"/>
<line x1="121.3" y1="1892.2" x2="130.3" y2="1892.2" stroke="#000" stroke-width="3.2" stroke-linecap="butt"/>
<line x1="121.3" y1="1826.2" x2="130.3" y2="1826.2" stroke="#000" stroke-width="3.2" stroke-linecap="butt"/>
<line x1="121.3" y1="1793.3" x2="130.3" y2="1793.3" stroke="#000" stroke-width="3.2" stroke-linecap="butt"/>
<line x1="121.3" y1="1760.3" x2="130.3" y2="1760.3" stroke="#000" stroke-width="3.2" stroke-linecap="butt"/>
<line x1="121.3" y1="1727.4" x2="130.3" y2="1727.4" stroke="#000" stroke-width="3.2" stroke-linecap="butt"/>
<line x1="121.3" y1="1661.4" x2="130.3" y2="1661.4" stroke="#000" stroke-width="3.2" stroke-linecap="butt"/>
<line x1="121.3" y1="1628.5" x2="130.3" y2="1628.5" stroke="#000" stroke-width="3.2" stroke-linecap="butt"/>
<line x1="121.3" y1="1595.5" x2="130.3" y2="1595.5" stroke="#000" stroke-width="3.2" stroke-linecap="butt"/>
<line x1="121.3" y1="1562.6" x2="130.3" y2="1562.6" stroke="#000" stroke-width="3.2" stroke-linecap="butt"/>
<line x1="121.3" y1="1496.6" x2="130.3" y2="1496.6" stroke="#000" stroke-width="3.2" stroke-linecap="butt"/>
<line x1="121.3" y1="1463.7" x2="130.3" y2="1463.7" stroke="#000" stroke-width="3.2" stroke-linecap="butt"/>
<line x1="121.3" y1="1430.7" x2="130.3" y2="1430.7" stroke="#000" stroke-width="3.2" stroke-linecap="butt"/>
<line x1="121.3" y1="1397.8" x2="130.3" y2="1397.8" stroke="#000" stroke-width="3.2" stroke-linecap="butt"/>
<line x1="121.3" y1="1331.8" x2="130.3" y2="1331.8" stroke="#000" stroke-width="3.2" stroke-linecap="butt"/>
<line x1="121.3" y1="1298.9" x2="130.3" y2="1298.9" stroke="#000" stroke-width="3.2" stroke-linecap="butt"/>
<line x1="121.3" y1="1265.9" x2="130.3" y2="1265.9" stroke="#000" stroke-width="3.2" stroke-linecap="butt"/>
<line x1="121.3" y1="1233" x2="130.3" y2="1233" stroke="#000" stroke-width="3.2" stroke-linecap="butt"/>
<line x1="121.3" y1="1167" x2="130.3" y2="1167" stroke="#000" stroke-width="3.2" stroke-linecap="butt"/>
<line x1="121.3" y1="1134.1" x2="130.3" y2="1134.1" stroke="#000" stroke-width="3.2" stroke-linecap="butt"/>
<line x1="121.3" y1="1101.1" x2="130.3" y2="1101.1" stroke="#000" stroke-width="3.2" stroke-linecap="butt"/>
<line x1="1130.1" y1="1999.5" x2="1130.1" y2="2023.5" stroke="#000" stroke-width="3.4" stroke-linecap="butt"/>
<line x1="903.9" y1="1999.5" x2="903.9" y2="2023.5" stroke="#000" stroke-width="3.4" stroke-linecap="butt"/>
<line x1="677.7" y1="1999.5" x2="677.7" y2="2023.5" stroke="#000" stroke-width="3.4" stroke-linecap="butt"/>
<line x1="451.5" y1="1999.5" x2="451.5" y2="2023.5" stroke="#000" stroke-width="3.4" stroke-linecap="butt"/>
<line x1="225.3" y1="1999.5" x2="225.3" y2="2023.5" stroke="#000" stroke-width="3.4" stroke-linecap="butt"/>
<line x1="1073.5" y1="1999.5" x2="1073.5" y2="2012.5" stroke="#000" stroke-width="3.4" stroke-linecap="butt"/>
<line x1="1017" y1="1999.5" x2="1017" y2="2012.5" stroke="#000" stroke-width="3.4" stroke-linecap="butt"/>
<line x1="960.5" y1="1999.5" x2="960.5" y2="2012.5" stroke="#000" stroke-width="3.4" stroke-linecap="butt"/>
<line x1="847.3" y1="1999.5" x2="847.3" y2="2012.5" stroke="#000" stroke-width="3.4" stroke-linecap="butt"/>
<line x1="790.8" y1="1999.5" x2="790.8" y2="2012.5" stroke="#000" stroke-width="3.4" stroke-linecap="butt"/>
<line x1="734.2" y1="1999.5" x2="734.2" y2="2012.5" stroke="#000" stroke-width="3.4" stroke-linecap="butt"/>
<line x1="621.1" y1="1999.5" x2="621.1" y2="2012.5" stroke="#000" stroke-width="3.4" stroke-linecap="butt"/>
<line x1="564.6" y1="1999.5" x2="564.6" y2="2012.5" stroke="#000" stroke-width="3.4" stroke-linecap="butt"/>
<line x1="508.1" y1="1999.5" x2="508.1" y2="2012.5" stroke="#000" stroke-width="3.4" stroke-linecap="butt"/>
<line x1="394.9" y1="1999.5" x2="394.9" y2="2012.5" stroke="#000" stroke-width="3.4" stroke-linecap="butt"/>
<line x1="338.4" y1="1999.5" x2="338.4" y2="2012.5" stroke="#000" stroke-width="3.4" stroke-linecap="butt"/>
<line x1="281.9" y1="1999.5" x2="281.9" y2="2012.5" stroke="#000" stroke-width="3.4" stroke-linecap="butt"/>
<line x1="168.8" y1="1999.5" x2="168.8" y2="2012.5" stroke="#000" stroke-width="3.4" stroke-linecap="butt"/>
<rect x="130.3" y="1078" width="1012.3" height="921.5" fill="none" stroke="#000" stroke-width="3.4"/>
<text x="110" y="1865.2" font-size="32" font-family="'Liberation Sans', Arial, sans-serif" fill="#111" font-weight="bold" textLength="14.5" lengthAdjust="spacingAndGlyphs" text-anchor="end" >5</text>
<text x="110" y="1700.4" font-size="32" font-family="'Liberation Sans', Arial, sans-serif" fill="#111" font-weight="bold" textLength="29" lengthAdjust="spacingAndGlyphs" text-anchor="end" >10</text>
<text x="110" y="1535.6" font-size="32" font-family="'Liberation Sans', Arial, sans-serif" fill="#111" font-weight="bold" textLength="29" lengthAdjust="spacingAndGlyphs" text-anchor="end" >15</text>
<text x="110" y="1370.8" font-size="32" font-family="'Liberation Sans', Arial, sans-serif" fill="#111" font-weight="bold" textLength="29" lengthAdjust="spacingAndGlyphs" text-anchor="end" >20</text>
<text x="110" y="1206" font-size="32" font-family="'Liberation Sans', Arial, sans-serif" fill="#111" font-weight="bold" textLength="29" lengthAdjust="spacingAndGlyphs" text-anchor="end" >25</text>
<text x="1130.1" y="2052.6" font-size="29" font-family="'Liberation Sans', Arial, sans-serif" fill="#111" font-weight="bold" textLength="49" lengthAdjust="spacingAndGlyphs" text-anchor="middle" >152</text>
<text x="903.9" y="2052.6" font-size="29" font-family="'Liberation Sans', Arial, sans-serif" fill="#111" font-weight="bold" textLength="49" lengthAdjust="spacingAndGlyphs" text-anchor="middle" >156</text>
<text x="677.7" y="2052.6" font-size="29" font-family="'Liberation Sans', Arial, sans-serif" fill="#111" font-weight="bold" textLength="49" lengthAdjust="spacingAndGlyphs" text-anchor="middle" >160</text>
<text x="451.5" y="2052.6" font-size="29" font-family="'Liberation Sans', Arial, sans-serif" fill="#111" font-weight="bold" textLength="49" lengthAdjust="spacingAndGlyphs" text-anchor="middle" >164</text>
<text x="225.3" y="2052.6" font-size="29" font-family="'Liberation Sans', Arial, sans-serif" fill="#111" font-weight="bold" textLength="49" lengthAdjust="spacingAndGlyphs" text-anchor="middle" >168</text>
<text x="479.6" y="2094.3" font-size="32" font-family="'Liberation Sans', Arial, sans-serif" fill="#111" font-weight="bold" textLength="313" lengthAdjust="spacingAndGlyphs" >Binding Energy (eV)</text>
<text x="68.5" y="1580.4" font-size="30" font-family="'Liberation Sans', Arial, sans-serif" fill="#111" font-weight="bold" textLength="143" lengthAdjust="spacingAndGlyphs" transform="rotate(-90 68.5 1580.4)" >CPS x 10</text>
<text x="55" y="1437" font-size="24" font-family="'Liberation Sans', Arial, sans-serif" fill="#111" font-weight="bold" textLength="30" lengthAdjust="spacingAndGlyphs" transform="rotate(-90 55 1437)" >−4</text>
<text x="178.8" y="1223.9" font-size="32" font-family="'Liberation Sans', Arial, sans-serif" fill="#1e1e1e" textLength="82" lengthAdjust="spacingAndGlyphs" >Name</text>
<text x="353.6" y="1224.4" font-size="32" font-family="'Liberation Sans', Arial, sans-serif" fill="#1e1e1e" textLength="65" lengthAdjust="spacingAndGlyphs" >Pos.</text>
<text x="468" y="1224.4" font-size="32" font-family="'Liberation Sans', Arial, sans-serif" fill="#1e1e1e" textLength="94" lengthAdjust="spacingAndGlyphs" >%Area</text>
<text x="178.8" y="1263.9" font-size="32" font-family="'Liberation Sans', Arial, sans-serif" fill="#d4606a" textLength="118" lengthAdjust="spacingAndGlyphs" >Bi 4f 7/2</text>
<text x="346.3" y="1264.3" font-size="32" font-family="'Liberation Sans', Arial, sans-serif" fill="#1e1e1e" textLength="93" lengthAdjust="spacingAndGlyphs" >157.76</text>
<text x="481.8" y="1264.3" font-size="32" font-family="'Liberation Sans', Arial, sans-serif" fill="#1e1e1e" textLength="74" lengthAdjust="spacingAndGlyphs" >57.21</text>
<text x="178.8" y="1305" font-size="32" font-family="'Liberation Sans', Arial, sans-serif" fill="#8ab866" textLength="118" lengthAdjust="spacingAndGlyphs" >Bi 4f 5/2</text>
<text x="346.3" y="1304.3" font-size="32" font-family="'Liberation Sans', Arial, sans-serif" fill="#1e1e1e" textLength="93" lengthAdjust="spacingAndGlyphs" >163.06</text>
<text x="480.7" y="1304.3" font-size="32" font-family="'Liberation Sans', Arial, sans-serif" fill="#1e1e1e" textLength="76" lengthAdjust="spacingAndGlyphs" >42.79</text>
<text x="510.5" y="1110.7" font-size="31" font-family="'Liberation Sans', Arial, sans-serif" fill="#111" font-weight="bold" textLength="112" lengthAdjust="spacingAndGlyphs" >Bi 4f5/2</text>
<text x="679.4" y="1110.7" font-size="31" font-family="'Liberation Sans', Arial, sans-serif" fill="#111" font-weight="bold" textLength="74" lengthAdjust="spacingAndGlyphs" >Bi 5s</text>
<text x="793" y="1110.7" font-size="31" font-family="'Liberation Sans', Arial, sans-serif" fill="#111" font-weight="bold" textLength="69" lengthAdjust="spacingAndGlyphs" >Bi 4f</text>
<text x="793" y="1151.7" font-size="31" font-family="'Liberation Sans', Arial, sans-serif" fill="#111" font-weight="bold" textLength="111" lengthAdjust="spacingAndGlyphs" >Bi 4f7/2</text>
<text x="1065" y="1153" font-size="40" font-family="'Liberation Serif', 'Times New Roman', serif" fill="#000" font-weight="bold" textLength="43" lengthAdjust="spacingAndGlyphs" >(c)</text>
<clipPath id="cd"><rect x="1299.5" y="1081" width="1029.5" height="919.4"/></clipPath>
<g clip-path="url(#cd)">
<path d="M1514.5,1918.8 L1517,1918.7 L1519.5,1918.7 L1522.1,1918.6 L1524.6,1918.6 L1527.1,1918.5 L1529.6,1918.5 L1532.1,1918.4 L1534.6,1918.3 L1537.2,1918.2 L1539.7,1918.2 L1542.2,1918.1 L1544.7,1918 L1547.2,1917.9 L1549.8,1917.8 L1552.3,1917.7 L1554.8,1917.6 L1557.3,1917.5 L1559.8,1917.4 L1562.3,1917.3 L1564.9,1917.2 L1567.4,1917 L1569.9,1916.9 L1572.4,1916.8 L1574.9,1916.6 L1577.5,1916.5 L1580,1916.3 L1582.5,1916.2 L1585,1916 L1587.5,1915.8 L1590.1,1915.6 L1592.6,1915.5 L1595.1,1915.3 L1597.6,1915.1 L1600.1,1914.8 L1602.6,1914.6 L1605.2,1914.4 L1607.7,1914.2 L1610.2,1913.9 L1612.7,1913.7 L1615.2,1913.4 L1617.8,1913.1 L1620.3,1912.8 L1622.8,1912.5 L1625.3,1912.2 L1627.8,1911.9 L1630.3,1911.6 L1632.9,1911.2 L1635.4,1910.9 L1637.9,1910.5 L1640.4,1910.1 L1642.9,1909.7 L1645.5,1909.3 L1648,1908.8 L1650.5,1908.4 L1653,1907.9 L1655.5,1907.4 L1658,1906.9 L1660.6,1906.4 L1663.1,1905.8 L1665.6,1905.2 L1668.1,1904.7 L1670.6,1904 L1673.2,1903.4 L1675.7,1902.7 L1678.2,1902 L1680.7,1901.2 L1683.2,1900.4 L1685.8,1899.7 L1688.3,1898.8 L1690.8,1897.9 L1693.3,1897 L1695.8,1896 L1698.3,1895 L1700.9,1893.9 L1703.4,1892.8 L1705.9,1891.6 L1708.4,1890.4 L1710.9,1889.1 L1713.5,1887.7 L1716,1886.2 L1718.5,1884.8 L1721,1883.2 L1723.5,1881.6 L1726,1879.8 L1728.6,1878 L1731.1,1876.1 L1733.6,1874.1 L1736.1,1872 L1738.6,1869.9 L1741.2,1867.6 L1743.7,1865.2 L1746.2,1862.7 L1748.7,1860.1 L1751.2,1857.4 L1753.7,1854.5 L1756.3,1851.6 L1758.8,1848.5 L1761.3,1845.4 L1763.8,1842 L1766.3,1838.6 L1768.9,1835.1 L1771.4,1831.4 L1773.9,1827.6 L1776.4,1823.7 L1778.9,1819.6 L1781.5,1815.5 L1784,1811.2 L1786.5,1806.8 L1789,1802.3 L1791.5,1797.7 L1794,1793 L1796.6,1788.2 L1799.1,1783.3 L1801.6,1778.3 L1804.1,1773.3 L1806.6,1768.2 L1809.2,1763.1 L1811.7,1757.8 L1814.2,1752.6 L1816.7,1747.3 L1819.2,1742 L1821.7,1736.7 L1824.3,1731.4 L1826.8,1726.2 L1829.3,1721 L1831.8,1715.8 L1834.3,1710.7 L1836.9,1705.7 L1839.4,1700.7 L1841.9,1695.9 L1844.4,1691.1 L1846.9,1686.5 L1849.4,1682 L1852,1677.7 L1854.5,1673.6 L1857,1669.6 L1859.5,1665.8 L1862,1662.2 L1864.6,1658.9 L1867.1,1655.7 L1869.6,1652.8 L1872.1,1650.1 L1874.6,1647.7 L1877.2,1645.4 L1879.7,1643.6 L1882.2,1641.8 L1884.7,1640.4 L1887.2,1639.3 L1889.7,1638.4 L1892.3,1638.1 L1894.8,1638.1 L1897.3,1638.6 L1899.8,1639.5 L1902.3,1640.8 L1904.9,1642.5 L1907.4,1644.5 L1909.9,1646.9 L1912.4,1649.6 L1914.9,1652.5 L1917.4,1655.7 L1920,1659.2 L1922.5,1662.9 L1925,1666.8 L1927.5,1670.7 L1930,1674.9 L1932.6,1679.1 L1935.1,1683.4 L1937.6,1687.7 L1940.1,1692.1 L1942.6,1696.5 L1945.1,1700.9 L1947.7,1705.2 L1950.2,1709.4 L1952.7,1713.6 L1955.2,1717.7 L1957.7,1721.8 L1960.3,1725.7 L1962.8,1729.5 L1965.3,1733.1 L1967.8,1736.6 L1970.3,1740 L1972.9,1743.2 L1975.4,1746.3 L1977.9,1749.2 L1980.4,1752 L1982.9,1754.6 L1985.4,1757 L1988,1759.3 L1990.5,1761.5 L1993,1763.5 L1995.5,1765.3 L1998,1767 L2000.6,1768.6 L2003.1,1770.1 L2005.6,1771.4 L2008.1,1772.6 L2010.6,1773.7 L2013.1,1774.7 L2015.7,1775.6 L2018.2,1776.4 L2020.7,1777.1 L2023.2,1777.8 L2025.7,1778.4 L2028.3,1778.9 L2030.8,1779.3 L2033.3,1779.7 L2035.8,1780 L2038.3,1780.3 L2040.8,1780.5 L2043.4,1780.8 L2045.9,1780.9 L2048.4,1781.1 L2050.9,1781.2 L2053.4,1781.2 L2056,1781.3 L2058.5,1781.4 L2061,1781.4 L2063.5,1781.4 L2066,1781.4 L2068.6,1781.4 L2071.1,1781.4 L2073.6,1781.4 L2076.1,1781.3 L2078.6,1781.3 L2081.1,1781.3 L2083.7,1781.2 L2086.2,1781.2 L2088.7,1781.1 L2091.2,1781.1 L2093.7,1781.1 L2096.3,1781 L2098.8,1781 L2101.3,1780.9 L2103.8,1780.9 L2106.3,1780.8 L2108.8,1780.8 L2111.4,1780.8 L2113.9,1780.7 L2116.4,1780.7" fill="none" stroke="#78ad4c" stroke-width="3" stroke-linejoin="round" stroke-linecap="round" />
<path d="M1514.5,1918.8 L1517,1918.7 L1519.5,1918.7 L1522.1,1918.6 L1524.6,1918.6 L1527.1,1918.5 L1529.6,1918.5 L1532.1,1918.4 L1534.6,1918.3 L1537.2,1918.2 L1539.7,1918.2 L1542.2,1918.1 L1544.7,1918 L1547.2,1917.9 L1549.8,1917.8 L1552.3,1917.7 L1554.8,1917.6 L1557.3,1917.5 L1559.8,1917.4 L1562.3,1917.3 L1564.9,1917.2 L1567.4,1917 L1569.9,1916.9 L1572.4,1916.8 L1574.9,1916.6 L1577.5,1916.5 L1580,1916.3 L1582.5,1916.2 L1585,1916 L1587.5,1915.8 L1590.1,1915.7 L1592.6,1915.5 L1595.1,1915.3 L1597.6,1915.1 L1600.1,1914.9 L1602.6,1914.7 L1605.2,1914.4 L1607.7,1914.2 L1610.2,1914 L1612.7,1913.7 L1615.2,1913.5 L1617.8,1913.2 L1620.3,1912.9 L1622.8,1912.6 L1625.3,1912.3 L1627.8,1912 L1630.3,1911.7 L1632.9,1911.4 L1635.4,1911.1 L1637.9,1910.7 L1640.4,1910.4 L1642.9,1910 L1645.5,1909.6 L1648,1909.2 L1650.5,1908.8 L1653,1908.4 L1655.5,1908 L1658,1907.5 L1660.6,1907.1 L1663.1,1906.6 L1665.6,1906.1 L1668.1,1905.7 L1670.6,1905.2 L1673.2,1904.7 L1675.7,1904.1 L1678.2,1903.6 L1680.7,1903.1 L1683.2,1902.5 L1685.8,1901.9 L1688.3,1901.3 L1690.8,1900.7 L1693.3,1900.1 L1695.8,1899.5 L1698.3,1898.8 L1700.9,1898.2 L1703.4,1897.5 L1705.9,1896.8 L1708.4,1896.1 L1710.9,1895.4 L1713.5,1894.7 L1716,1893.9 L1718.5,1893.2 L1721,1892.4 L1723.5,1891.7 L1726,1890.8 L1728.6,1890.1 L1731.1,1889.2 L1733.6,1888.4 L1736.1,1887.6 L1738.6,1886.7 L1741.2,1885.8 L1743.7,1885 L1746.2,1884.1 L1748.7,1883.2 L1751.2,1882.3 L1753.7,1881.3 L1756.3,1880.4 L1758.8,1879.4 L1761.3,1878.5 L1763.8,1877.5 L1766.3,1876.6 L1768.9,1875.6 L1771.4,1874.6 L1773.9,1873.6 L1776.4,1872.6 L1778.9,1871.5 L1781.5,1870.5 L1784,1869.5 L1786.5,1868.4 L1789,1867.4 L1791.5,1866.3 L1794,1865.2 L1796.6,1864.1 L1799.1,1863.1 L1801.6,1862 L1804.1,1860.9 L1806.6,1859.8 L1809.2,1858.7 L1811.7,1857.6 L1814.2,1856.6 L1816.7,1855.4 L1819.2,1854.3 L1821.7,1853.2 L1824.3,1852 L1826.8,1851 L1829.3,1849.8 L1831.8,1848.8 L1834.3,1847.6 L1836.9,1846.6 L1839.4,1845.4 L1841.9,1844.4 L1844.4,1843.2 L1846.9,1842.2 L1849.4,1841 L1852,1839.9 L1854.5,1838.9 L1857,1837.7 L1859.5,1836.7 L1862,1835.6 L1864.6,1834.6 L1867.1,1833.5 L1869.6,1832.5 L1872.1,1831.4 L1874.6,1830.4 L1877.2,1829.3 L1879.7,1828.3 L1882.2,1827.3 L1884.7,1826.2 L1887.2,1825.3 L1889.7,1824.2 L1892.3,1823.3 L1894.8,1822.3 L1897.3,1821.4 L1899.8,1820.4 L1902.3,1819.5 L1904.9,1818.6 L1907.4,1817.7 L1909.9,1816.7 L1912.4,1815.9 L1914.9,1815 L1917.4,1814.1 L1920,1813.3 L1922.5,1812.4 L1925,1811.6 L1927.5,1810.8 L1930,1810 L1932.6,1809.2 L1935.1,1808.4 L1937.6,1807.6 L1940.1,1806.9 L1942.6,1806.1 L1945.1,1805.5 L1947.7,1804.7 L1950.2,1804 L1952.7,1803.3 L1955.2,1802.6 L1957.7,1802 L1960.3,1801.4 L1962.8,1800.8 L1965.3,1800.1 L1967.8,1799.5 L1970.3,1798.9 L1972.9,1798.4 L1975.4,1797.8 L1977.9,1797.3 L1980.4,1796.7 L1982.9,1796.2 L1985.4,1795.7 L1988,1795.2 L1990.5,1794.7 L1993,1794.2 L1995.5,1793.8 L1998,1793.3 L2000.6,1792.9 L2003.1,1792.4 L2005.6,1792.1 L2008.1,1791.6 L2010.6,1791.3 L2013.1,1790.9 L2015.7,1790.5 L2018.2,1790.2 L2020.7,1789.8 L2023.2,1789.5 L2025.7,1789.1 L2028.3,1788.8 L2030.8,1788.5 L2033.3,1788.2 L2035.8,1787.9 L2038.3,1787.7 L2040.8,1787.4 L2043.4,1787.2 L2045.9,1786.9 L2048.4,1786.7 L2050.9,1786.4 L2053.4,1786.2 L2056,1786 L2058.5,1785.8 L2061,1785.6 L2063.5,1785.4 L2066,1785.2 L2068.6,1785 L2071.1,1784.9 L2073.6,1784.7 L2076.1,1784.5 L2078.6,1784.4 L2081.1,1784.2 L2083.7,1784.1 L2086.2,1783.9 L2088.7,1783.8 L2091.2,1783.7 L2093.7,1783.6 L2096.3,1783.5 L2098.8,1783.3 L2101.3,1783.2 L2103.8,1783.1 L2106.3,1783 L2108.8,1783 L2111.4,1782.9 L2113.9,1782.8 L2116.4,1782.7" fill="none" stroke="#9a4a06" stroke-width="3.4" stroke-linejoin="round" stroke-linecap="round" />
<path d="M1513.6,1894.3C1518.8,1892.5 1534.8,1888.1 1544.5,1883.4C1554.2,1878.7 1562.6,1874.4 1571.7,1866.2C1580.8,1858 1589.9,1845.5 1599,1834.4C1608.1,1823.4 1617.1,1813.2 1626.2,1799.9C1635.3,1786.6 1644.3,1771.2 1653.4,1754.5C1662.5,1737.8 1672,1718.9 1680.7,1700C1689.4,1681.1 1697.7,1661.3 1705.4,1641C1713.2,1620.7 1719.9,1598.8 1727.2,1578C1734.5,1557.2 1741.8,1534.7 1749,1516C1756.2,1497.3 1763.5,1481.5 1770.7,1466C1778,1450.5 1785.2,1435.7 1792.5,1423C1799.8,1410.3 1807.5,1398.2 1814.3,1390C1821,1381.8 1826.8,1377.3 1833,1374C1839.2,1370.7 1845.9,1370.5 1851.4,1370.3C1856.9,1370 1861.3,1371 1866,1372.5C1870.7,1374 1873.8,1374.4 1879.7,1379C1885.6,1383.6 1894.2,1391 1901.5,1400C1908.8,1409 1916,1420.7 1923.3,1433C1930.6,1445.3 1937.8,1460.2 1945.1,1474C1952.4,1487.8 1959.6,1502 1966.9,1516C1974.2,1530 1981.5,1544.5 1988.7,1558C1995.9,1571.5 2003.3,1584.3 2010,1597C2016.7,1609.7 2022,1622.7 2029,1634C2036,1645.3 2044.3,1655.2 2052,1665C2059.7,1674.8 2067.3,1684.2 2075,1693C2082.7,1701.8 2091.3,1710.7 2098,1718C2104.7,1725.3 2112.4,1733.9 2115.3,1737.1" fill="none" stroke="#b84848" stroke-width="3" stroke-linejoin="round" stroke-linecap="round" />
<path d="M1513.6,1894.3 L1516.6,1893.3 L1519.6,1892.4 L1522.7,1891.4 L1525.7,1890.5 L1528.7,1889.5 L1531.7,1888.5 L1534.8,1887.4 L1537.8,1886.3 L1540.8,1885.1 L1543.8,1883.7 L1546.9,1882.3 L1549.9,1880.7 L1552.9,1879.2 L1555.9,1877.5 L1559,1875.7 L1562,1873.8 L1565,1871.7 L1568,1869.3 L1571,1866.8 L1574.1,1864 L1577.1,1860.9 L1580.1,1857.5 L1583.1,1854 L1586.2,1850.4 L1589.2,1846.6 L1592.2,1842.8 L1595.2,1839 L1598.3,1835.3 L1601.3,1831.6 L1604.3,1828 L1607.3,1824.4 L1610.4,1820.7 L1613.4,1817 L1616.4,1813.2 L1619.4,1809.2 L1622.5,1805.1 L1625.5,1800.9 L1628.5,1796.3 L1631.5,1791.7 L1634.5,1786.9 L1637.6,1781.9 L1640.6,1776.9 L1643.6,1771.6 L1646.6,1766.3 L1649.7,1760.9 L1652.7,1755.3 L1655.7,1749.7 L1658.7,1743.9 L1661.8,1738 L1664.8,1732 L1667.8,1725.9 L1670.8,1719.6 L1673.9,1713.3 L1676.9,1706.7 L1679.9,1700 L1682.9,1693.1 L1685.9,1686.1 L1689,1678.8 L1692,1671.4 L1695,1663.8 L1698,1655.9 L1701.1,1647.9 L1704.1,1639.6 L1707.1,1631 L1710.1,1621.9 L1713.2,1612.5 L1716.2,1602.8 L1719.2,1592.9 L1722.2,1582.9 L1725.3,1572.9 L1728.3,1563 L1731.3,1552.9 L1734.3,1542.6 L1737.3,1532.2 L1740.4,1521.8 L1743.4,1511.5 L1746.4,1501.2 L1749.4,1491.2 L1752.5,1481.4 L1755.5,1471.8 L1758.5,1462.2 L1761.5,1452.6 L1764.6,1443.1 L1767.6,1433.5 L1770.6,1423.8 L1773.6,1414.1 L1776.7,1404.3 L1779.7,1394.5 L1782.7,1384.6 L1785.7,1374.8 L1788.7,1365 L1791.8,1355.3 L1794.8,1345.7 L1797.8,1336.1 L1800.8,1326.6 L1803.9,1317.2 L1806.9,1307.9 L1809.9,1298.7 L1812.9,1289.8 L1816,1281.2 L1819,1272.9 L1822,1264.9 L1825,1257.3 L1828.1,1250.1 L1831.1,1243.3 L1834.1,1236.9 L1837.1,1231 L1840.2,1225.5 L1843.2,1220.6 L1846.2,1216 L1849.2,1211.7 L1852.2,1207.7 L1855.3,1204.1 L1858.3,1201.1 L1861.3,1198.6 L1864.3,1196.5 L1867.4,1194.9 L1870.4,1193.7 L1873.4,1193 L1876.4,1193.2 L1879.5,1194.1 L1882.5,1195.7 L1885.5,1197.8 L1888.5,1200.5 L1891.6,1203.8 L1894.6,1207.9 L1897.6,1212.9 L1900.6,1218.7 L1903.6,1225.4 L1906.7,1232.9 L1909.7,1241.1 L1912.7,1249.9 L1915.7,1259.4 L1918.8,1269.3 L1921.8,1279.7 L1924.8,1290.4 L1927.8,1301.6 L1930.9,1313.1 L1933.9,1324.9 L1936.9,1336.9 L1939.9,1348.9 L1943,1360.9 L1946,1372.7 L1949,1384.5 L1952,1396.2 L1955,1407.8 L1958.1,1419.3 L1961.1,1430.6 L1964.1,1441.6 L1967.1,1452.5 L1970.2,1463.1 L1973.2,1473.5 L1976.2,1483.7 L1979.2,1493.6 L1982.3,1503.3 L1985.3,1512.7 L1988.3,1521.8 L1991.3,1530.5 L1994.4,1538.9 L1997.4,1547.1 L2000.4,1555 L2003.4,1562.7 L2006.4,1570.3 L2009.5,1577.8 L2012.5,1585.3 L2015.5,1593 L2018.5,1600.7 L2021.6,1608.1 L2024.6,1615.1 L2027.6,1621.5 L2030.6,1627.3 L2033.7,1632.6 L2036.7,1637.6 L2039.7,1642.3 L2042.7,1646.7 L2045.8,1651.1 L2048.8,1655.4 L2051.8,1659.6 L2054.8,1663.8 L2057.9,1667.9 L2060.9,1672 L2063.9,1675.9 L2066.9,1679.8 L2069.9,1683.6 L2073,1687.3 L2076,1690.9 L2079,1694.5 L2082,1697.9 L2085.1,1701.3 L2088.1,1704.7 L2091.1,1708 L2094.1,1711.3 L2097.2,1714.7 L2100.2,1718 L2103.2,1721.4 L2106.2,1724.8 L2109.3,1728.3 L2112.3,1731.7 L2115.3,1735.1" fill="none" stroke="#7f7f7f" stroke-width="3" stroke-linejoin="round" stroke-linecap="round" />
<path d="M1299.5,2000 L1302.1,1997.4 L1308.2,1988.3 L1321.8,1950.5 L1328.6,1955 L1340.7,1985.3 L1346,1969.4 L1350.5,1956.5 L1356.6,1933.8 L1362.6,1942.9 L1368.7,1957.3 L1376.3,1938.4 L1383.8,1922.5 L1392.1,1933.1 L1402.7,1927.8 L1416.4,1925.5 L1429.2,1903.6 L1439.5,1908.1 L1452.7,1925.5 L1463.3,1918.7 L1473.1,1923.2 L1486.7,1905.1 L1495.1,1893.7 L1510.1,1936.1 L1517.2,1917.9 L1524.5,1887.5 L1533.6,1874.5 L1542.7,1859.8 L1548.1,1854.4 L1552.6,1855.3 L1558.1,1842.5 L1566.3,1850.7 L1574.4,1877.8 L1580.3,1873.4 L1588,1854.4 L1596,1833 L1600.8,1790 L1604.4,1780.8 L1609.8,1765.4 L1617.1,1756.3 L1628,1737.2 L1635.3,1734.5 L1647.1,1743.6 L1652.2,1732.7 L1655.2,1721.8 L1661.6,1672.6 L1667,1659.9 L1675.2,1648.1 L1683.5,1623.5 L1697.8,1608 L1709.7,1593.6 L1721.7,1544.6 L1733.7,1526.1 L1737,1521.7 L1745.7,1519.6 L1753.3,1486.9 L1762,1432.4 L1769.7,1384.4 L1775.1,1356.1 L1783.8,1301.6 L1792.5,1294 L1801.3,1295.1 L1816.1,1249.3 L1825.2,1231.9 L1839.4,1204.7 L1851.4,1203.6 L1862.7,1201.8 L1877.5,1214.5 L1886.7,1243.9 L1895,1269 L1901.5,1273.3 L1910.2,1282 L1918.9,1308.2 L1925.5,1330 L1933.8,1342 L1945.1,1388.8 L1957.1,1443.3 L1964.7,1476 L1980.6,1534.8 L1988.7,1563.1 L1996.8,1594.5 L2004.9,1607.2 L2018.7,1652 L2027.9,1626.7 L2038.2,1656.6 L2052,1694.6 L2061.2,1702.6 L2075,1725.6 L2084.2,1734.8 L2095.7,1776.2 L2099.2,1786.6 L2109.5,1784.3 L2122.2,1786.6 L2130.2,1778.5 L2145.2,1746.3 L2156.7,1741.7 L2169.3,1774 L2184.3,1707.2 L2192.3,1711.8 L2201.5,1716.4 L2208.4,1709.5 L2216.5,1694.6 L2226.9,1698 L2236,1642.8 L2239.5,1638.2 L2248.7,1639.4 L2263.7,1595.7 L2274,1629 L2286.7,1635.9 L2302.8,1607.2 L2309.7,1630.2 L2318.9,1668.1 L2330,1688" fill="none" stroke="#ff0000" stroke-width="3.6" stroke-linejoin="round" stroke-linecap="round" />
<ellipse cx="1321.8" cy="1950.5" rx="6.5" ry="9" fill="#ff0000"/>
<ellipse cx="1321.8" cy="1950.5" rx="2.6" ry="3.6" fill="#c98686"/>
<ellipse cx="1346" cy="1969.4" rx="6.5" ry="9" fill="#ff0000"/>
<ellipse cx="1346" cy="1969.4" rx="2.6" ry="3.6" fill="#c98686"/>
<ellipse cx="1368.7" cy="1957.3" rx="6.5" ry="9" fill="#ff0000"/>
<ellipse cx="1368.7" cy="1957.3" rx="2.6" ry="3.6" fill="#c98686"/>
<ellipse cx="1392.1" cy="1933.1" rx="6.5" ry="9" fill="#ff0000"/>
<ellipse cx="1392.1" cy="1933.1" rx="2.6" ry="3.6" fill="#c98686"/>
<ellipse cx="1416.4" cy="1925.5" rx="6.5" ry="9" fill="#ff0000"/>
<ellipse cx="1416.4" cy="1925.5" rx="2.6" ry="3.6" fill="#c98686"/>
<ellipse cx="1439.5" cy="1908.1" rx="6.5" ry="9" fill="#ff0000"/>
<ellipse cx="1439.5" cy="1908.1" rx="2.6" ry="3.6" fill="#c98686"/>
<ellipse cx="1463.3" cy="1918.7" rx="6.5" ry="9" fill="#ff0000"/>
<ellipse cx="1463.3" cy="1918.7" rx="2.6" ry="3.6" fill="#c98686"/>
<ellipse cx="1486.7" cy="1905.1" rx="6.5" ry="9" fill="#ff0000"/>
<ellipse cx="1486.7" cy="1905.1" rx="2.6" ry="3.6" fill="#c98686"/>
<ellipse cx="1510.1" cy="1936.1" rx="6.5" ry="9" fill="#ff0000"/>
<ellipse cx="1510.1" cy="1936.1" rx="2.6" ry="3.6" fill="#c98686"/>
<ellipse cx="1533.6" cy="1874.5" rx="6.5" ry="9" fill="#ff0000"/>
<ellipse cx="1533.6" cy="1874.5" rx="2.6" ry="3.6" fill="#c98686"/>
<ellipse cx="1558.1" cy="1842.5" rx="6.5" ry="9" fill="#ff0000"/>
<ellipse cx="1558.1" cy="1842.5" rx="2.6" ry="3.6" fill="#c98686"/>
<ellipse cx="1580.3" cy="1873.4" rx="6.5" ry="9" fill="#ff0000"/>
<ellipse cx="1580.3" cy="1873.4" rx="2.6" ry="3.6" fill="#c98686"/>
<ellipse cx="1604.4" cy="1780.8" rx="6.5" ry="9" fill="#ff0000"/>
<ellipse cx="1604.4" cy="1780.8" rx="2.6" ry="3.6" fill="#c98686"/>
<ellipse cx="1628" cy="1737.2" rx="6.5" ry="9" fill="#ff0000"/>
<ellipse cx="1628" cy="1737.2" rx="2.6" ry="3.6" fill="#c98686"/>
<ellipse cx="1652.2" cy="1732.7" rx="6.5" ry="9" fill="#ff0000"/>
<ellipse cx="1652.2" cy="1732.7" rx="2.6" ry="3.6" fill="#c98686"/>
<ellipse cx="1675.2" cy="1648.1" rx="6.5" ry="9" fill="#ff0000"/>
<ellipse cx="1675.2" cy="1648.1" rx="2.6" ry="3.6" fill="#c98686"/>
<ellipse cx="1697.8" cy="1608" rx="6.5" ry="9" fill="#ff0000"/>
<ellipse cx="1697.8" cy="1608" rx="2.6" ry="3.6" fill="#c98686"/>
<ellipse cx="1721.7" cy="1544.6" rx="6.5" ry="9" fill="#ff0000"/>
<ellipse cx="1721.7" cy="1544.6" rx="2.6" ry="3.6" fill="#c98686"/>
<ellipse cx="1745.7" cy="1519.6" rx="6.5" ry="9" fill="#ff0000"/>
<ellipse cx="1745.7" cy="1519.6" rx="2.6" ry="3.6" fill="#c98686"/>
<ellipse cx="1769.7" cy="1384.4" rx="6.5" ry="9" fill="#ff0000"/>
<ellipse cx="1769.7" cy="1384.4" rx="2.6" ry="3.6" fill="#c98686"/>
<ellipse cx="1792.5" cy="1294" rx="6.5" ry="9" fill="#ff0000"/>
<ellipse cx="1792.5" cy="1294" rx="2.6" ry="3.6" fill="#c98686"/>
<ellipse cx="1816.1" cy="1249.3" rx="6.5" ry="9" fill="#ff0000"/>
<ellipse cx="1816.1" cy="1249.3" rx="2.6" ry="3.6" fill="#c98686"/>
<ellipse cx="1839.4" cy="1204.7" rx="6.5" ry="9" fill="#ff0000"/>
<ellipse cx="1839.4" cy="1204.7" rx="2.6" ry="3.6" fill="#c98686"/>
<ellipse cx="1862.7" cy="1201.8" rx="6.5" ry="9" fill="#ff0000"/>
<ellipse cx="1862.7" cy="1201.8" rx="2.6" ry="3.6" fill="#c98686"/>
<ellipse cx="1886.7" cy="1243.9" rx="6.5" ry="9" fill="#ff0000"/>
<ellipse cx="1886.7" cy="1243.9" rx="2.6" ry="3.6" fill="#c98686"/>
<ellipse cx="1910.2" cy="1282" rx="6.5" ry="9" fill="#ff0000"/>
<ellipse cx="1910.2" cy="1282" rx="2.6" ry="3.6" fill="#c98686"/>
<ellipse cx="1933.8" cy="1342" rx="6.5" ry="9" fill="#ff0000"/>
<ellipse cx="1933.8" cy="1342" rx="2.6" ry="3.6" fill="#c98686"/>
<ellipse cx="1957.1" cy="1443.3" rx="6.5" ry="9" fill="#ff0000"/>
<ellipse cx="1957.1" cy="1443.3" rx="2.6" ry="3.6" fill="#c98686"/>
<ellipse cx="1980.6" cy="1534.8" rx="6.5" ry="9" fill="#ff0000"/>
<ellipse cx="1980.6" cy="1534.8" rx="2.6" ry="3.6" fill="#c98686"/>
<ellipse cx="2004.9" cy="1607.2" rx="6.5" ry="9" fill="#ff0000"/>
<ellipse cx="2004.9" cy="1607.2" rx="2.6" ry="3.6" fill="#c98686"/>
<ellipse cx="2027.9" cy="1626.7" rx="6.5" ry="9" fill="#ff0000"/>
<ellipse cx="2027.9" cy="1626.7" rx="2.6" ry="3.6" fill="#c98686"/>
<ellipse cx="2052" cy="1694.6" rx="6.5" ry="9" fill="#ff0000"/>
<ellipse cx="2052" cy="1694.6" rx="2.6" ry="3.6" fill="#c98686"/>
<ellipse cx="2075" cy="1725.6" rx="6.5" ry="9" fill="#ff0000"/>
<ellipse cx="2075" cy="1725.6" rx="2.6" ry="3.6" fill="#c98686"/>
<ellipse cx="2099.2" cy="1786.6" rx="6.5" ry="9" fill="#ff0000"/>
<ellipse cx="2099.2" cy="1786.6" rx="2.6" ry="3.6" fill="#c98686"/>
<ellipse cx="2122.2" cy="1786.6" rx="6.5" ry="9" fill="#ff0000"/>
<ellipse cx="2122.2" cy="1786.6" rx="2.6" ry="3.6" fill="#c98686"/>
<ellipse cx="2145.2" cy="1746.3" rx="6.5" ry="9" fill="#ff0000"/>
<ellipse cx="2145.2" cy="1746.3" rx="2.6" ry="3.6" fill="#c98686"/>
<ellipse cx="2169.3" cy="1774" rx="6.5" ry="9" fill="#ff0000"/>
<ellipse cx="2169.3" cy="1774" rx="2.6" ry="3.6" fill="#c98686"/>
<ellipse cx="2192.3" cy="1711.8" rx="6.5" ry="9" fill="#ff0000"/>
<ellipse cx="2192.3" cy="1711.8" rx="2.6" ry="3.6" fill="#c98686"/>
<ellipse cx="2216.5" cy="1694.6" rx="6.5" ry="9" fill="#ff0000"/>
<ellipse cx="2216.5" cy="1694.6" rx="2.6" ry="3.6" fill="#c98686"/>
<ellipse cx="2239.5" cy="1638.2" rx="6.5" ry="9" fill="#ff0000"/>
<ellipse cx="2239.5" cy="1638.2" rx="2.6" ry="3.6" fill="#c98686"/>
<ellipse cx="2263.7" cy="1595.7" rx="6.5" ry="9" fill="#ff0000"/>
<ellipse cx="2263.7" cy="1595.7" rx="2.6" ry="3.6" fill="#c98686"/>
<ellipse cx="2286.7" cy="1635.9" rx="6.5" ry="9" fill="#ff0000"/>
<ellipse cx="2286.7" cy="1635.9" rx="2.6" ry="3.6" fill="#c98686"/>
<ellipse cx="2309.7" cy="1630.2" rx="6.5" ry="9" fill="#ff0000"/>
<ellipse cx="2309.7" cy="1630.2" rx="2.6" ry="3.6" fill="#c98686"/>
</g>
<line x1="1852.8" y1="1264.6" x2="1852.8" y2="2000.4" stroke="#8f4a12" stroke-width="2.6" stroke-linecap="butt"/>
<line x1="1852.5" y1="1081" x2="1852.5" y2="1174.6" stroke="#ee1010" stroke-width="3" stroke-linecap="butt"/>
<line x1="1290" y1="1948.9" x2="1299.5" y2="1948.9" stroke="#000" stroke-width="2.8" stroke-linecap="butt"/>
<line x1="1290" y1="1860.1" x2="1299.5" y2="1860.1" stroke="#000" stroke-width="2.8" stroke-linecap="butt"/>
<line x1="1290" y1="1771.4" x2="1299.5" y2="1771.4" stroke="#000" stroke-width="2.8" stroke-linecap="butt"/>
<line x1="1290" y1="1682.6" x2="1299.5" y2="1682.6" stroke="#000" stroke-width="2.8" stroke-linecap="butt"/>
<line x1="1290" y1="1593.8" x2="1299.5" y2="1593.8" stroke="#000" stroke-width="2.8" stroke-linecap="butt"/>
<line x1="1290" y1="1505" x2="1299.5" y2="1505" stroke="#000" stroke-width="2.8" stroke-linecap="butt"/>
<line x1="1290" y1="1416.2" x2="1299.5" y2="1416.2" stroke="#000" stroke-width="2.8" stroke-linecap="butt"/>
<line x1="1290" y1="1327.5" x2="1299.5" y2="1327.5" stroke="#000" stroke-width="2.8" stroke-linecap="butt"/>
<line x1="1290" y1="1238.7" x2="1299.5" y2="1238.7" stroke="#000" stroke-width="2.8" stroke-linecap="butt"/>
<line x1="1290" y1="1149.9" x2="1299.5" y2="1149.9" stroke="#000" stroke-width="2.8" stroke-linecap="butt"/>
<line x1="1293" y1="1993.3" x2="1299.5" y2="1993.3" stroke="#000" stroke-width="2.8" stroke-linecap="butt"/>
<line x1="1293" y1="1904.5" x2="1299.5" y2="1904.5" stroke="#000" stroke-width="2.8" stroke-linecap="butt"/>
<line x1="1293" y1="1815.8" x2="1299.5" y2="1815.8" stroke="#000" stroke-width="2.8" stroke-linecap="butt"/>
<line x1="1293" y1="1727" x2="1299.5" y2="1727" stroke="#000" stroke-width="2.8" stroke-linecap="butt"/>
<line x1="1293" y1="1638.2" x2="1299.5" y2="1638.2" stroke="#000" stroke-width="2.8" stroke-linecap="butt"/>
<line x1="1293" y1="1549.4" x2="1299.5" y2="1549.4" stroke="#000" stroke-width="2.8" stroke-linecap="butt"/>
<line x1="1293" y1="1460.6" x2="1299.5" y2="1460.6" stroke="#000" stroke-width="2.8" stroke-linecap="butt"/>
<line x1="1293" y1="1371.9" x2="1299.5" y2="1371.9" stroke="#000" stroke-width="2.8" stroke-linecap="butt"/>
<line x1="1293" y1="1283.1" x2="1299.5" y2="1283.1" stroke="#000" stroke-width="2.8" stroke-linecap="butt"/>
<line x1="1293" y1="1194.3" x2="1299.5" y2="1194.3" stroke="#000" stroke-width="2.8" stroke-linecap="butt"/>
<line x1="1293" y1="1105.5" x2="1299.5" y2="1105.5" stroke="#000" stroke-width="2.8" stroke-linecap="butt"/>
<line x1="2263.2" y1="2000.4" x2="2263.2" y2="2019.9" stroke="#000" stroke-width="2.8" stroke-linecap="butt"/>
<line x1="2116.2" y1="2000.4" x2="2116.2" y2="2019.9" stroke="#000" stroke-width="2.8" stroke-linecap="butt"/>
<line x1="1969.2" y1="2000.4" x2="1969.2" y2="2019.9" stroke="#000" stroke-width="2.8" stroke-linecap="butt"/>
<line x1="1822.3" y1="2000.4" x2="1822.3" y2="2019.9" stroke="#000" stroke-width="2.8" stroke-linecap="butt"/>
<line x1="1675.3" y1="2000.4" x2="1675.3" y2="2019.9" stroke="#000" stroke-width="2.8" stroke-linecap="butt"/>
<line x1="1528.4" y1="2000.4" x2="1528.4" y2="2019.9" stroke="#000" stroke-width="2.8" stroke-linecap="butt"/>
<line x1="1381.4" y1="2000.4" x2="1381.4" y2="2019.9" stroke="#000" stroke-width="2.8" stroke-linecap="butt"/>
<line x1="2321.9" y1="2000.4" x2="2321.9" y2="2010.9" stroke="#000" stroke-width="2.8" stroke-linecap="butt"/>
<line x1="2292.5" y1="2000.4" x2="2292.5" y2="2010.9" stroke="#000" stroke-width="2.8" stroke-linecap="butt"/>
<line x1="2233.8" y1="2000.4" x2="2233.8" y2="2010.9" stroke="#000" stroke-width="2.8" stroke-linecap="butt"/>
<line x1="2204.4" y1="2000.4" x2="2204.4" y2="2010.9" stroke="#000" stroke-width="2.8" stroke-linecap="butt"/>
<line x1="2175" y1="2000.4" x2="2175" y2="2010.9" stroke="#000" stroke-width="2.8" stroke-linecap="butt"/>
<line x1="2145.6" y1="2000.4" x2="2145.6" y2="2010.9" stroke="#000" stroke-width="2.8" stroke-linecap="butt"/>
<line x1="2086.8" y1="2000.4" x2="2086.8" y2="2010.9" stroke="#000" stroke-width="2.8" stroke-linecap="butt"/>
<line x1="2057.4" y1="2000.4" x2="2057.4" y2="2010.9" stroke="#000" stroke-width="2.8" stroke-linecap="butt"/>
<line x1="2028" y1="2000.4" x2="2028" y2="2010.9" stroke="#000" stroke-width="2.8" stroke-linecap="butt"/>
<line x1="1998.6" y1="2000.4" x2="1998.6" y2="2010.9" stroke="#000" stroke-width="2.8" stroke-linecap="butt"/>
<line x1="1939.9" y1="2000.4" x2="1939.9" y2="2010.9" stroke="#000" stroke-width="2.8" stroke-linecap="butt"/>
<line x1="1910.5" y1="2000.4" x2="1910.5" y2="2010.9" stroke="#000" stroke-width="2.8" stroke-linecap="butt"/>
<line x1="1881.1" y1="2000.4" x2="1881.1" y2="2010.9" stroke="#000" stroke-width="2.8" stroke-linecap="butt"/>
<line x1="1851.7" y1="2000.4" x2="1851.7" y2="2010.9" stroke="#000" stroke-width="2.8" stroke-linecap="butt"/>
<line x1="1792.9" y1="2000.4" x2="1792.9" y2="2010.9" stroke="#000" stroke-width="2.8" stroke-linecap="butt"/>
<line x1="1763.5" y1="2000.4" x2="1763.5" y2="2010.9" stroke="#000" stroke-width="2.8" stroke-linecap="butt"/>
<line x1="1734.1" y1="2000.4" x2="1734.1" y2="2010.9" stroke="#000" stroke-width="2.8" stroke-linecap="butt"/>
<line x1="1704.7" y1="2000.4" x2="1704.7" y2="2010.9" stroke="#000" stroke-width="2.8" stroke-linecap="butt"/>
<line x1="1646" y1="2000.4" x2="1646" y2="2010.9" stroke="#000" stroke-width="2.8" stroke-linecap="butt"/>
<line x1="1616.6" y1="2000.4" x2="1616.6" y2="2010.9" stroke="#000" stroke-width="2.8" stroke-linecap="butt"/>
<line x1="1587.2" y1="2000.4" x2="1587.2" y2="2010.9" stroke="#000" stroke-width="2.8" stroke-linecap="butt"/>
<line x1="1557.8" y1="2000.4" x2="1557.8" y2="2010.9" stroke="#000" stroke-width="2.8" stroke-linecap="butt"/>
<line x1="1499" y1="2000.4" x2="1499" y2="2010.9" stroke="#000" stroke-width="2.8" stroke-linecap="butt"/>
<line x1="1469.6" y1="2000.4" x2="1469.6" y2="2010.9" stroke="#000" stroke-width="2.8" stroke-linecap="butt"/>
<line x1="1440.2" y1="2000.4" x2="1440.2" y2="2010.9" stroke="#000" stroke-width="2.8" stroke-linecap="butt"/>
<line x1="1410.8" y1="2000.4" x2="1410.8" y2="2010.9" stroke="#000" stroke-width="2.8" stroke-linecap="butt"/>
<line x1="1352.1" y1="2000.4" x2="1352.1" y2="2010.9" stroke="#000" stroke-width="2.8" stroke-linecap="butt"/>
<line x1="1322.7" y1="2000.4" x2="1322.7" y2="2010.9" stroke="#000" stroke-width="2.8" stroke-linecap="butt"/>
<rect x="1299.5" y="1081" width="1029.5" height="919.4" fill="none" stroke="#000" stroke-width="2.8"/>
<text x="1288.2" y="1955.4" font-size="29" font-family="'Liberation Sans', Arial, sans-serif" fill="#1a1a1a" font-weight="bold" textLength="32.5" lengthAdjust="spacingAndGlyphs" text-anchor="end" >482</text>
<text x="1288.2" y="1866.6" font-size="29" font-family="'Liberation Sans', Arial, sans-serif" fill="#1a1a1a" font-weight="bold" textLength="32.5" lengthAdjust="spacingAndGlyphs" text-anchor="end" >484</text>
<text x="1288.2" y="1777.9" font-size="29" font-family="'Liberation Sans', Arial, sans-serif" fill="#1a1a1a" font-weight="bold" textLength="32.5" lengthAdjust="spacingAndGlyphs" text-anchor="end" >486</text>
<text x="1288.2" y="1689.1" font-size="29" font-family="'Liberation Sans', Arial, sans-serif" fill="#1a1a1a" font-weight="bold" textLength="32.5" lengthAdjust="spacingAndGlyphs" text-anchor="end" >488</text>
<text x="1288.2" y="1600.3" font-size="29" font-family="'Liberation Sans', Arial, sans-serif" fill="#1a1a1a" font-weight="bold" textLength="32.5" lengthAdjust="spacingAndGlyphs" text-anchor="end" >490</text>
<text x="1288.2" y="1511.5" font-size="29" font-family="'Liberation Sans', Arial, sans-serif" fill="#1a1a1a" font-weight="bold" textLength="32.5" lengthAdjust="spacingAndGlyphs" text-anchor="end" >492</text>
<text x="1288.2" y="1422.7" font-size="29" font-family="'Liberation Sans', Arial, sans-serif" fill="#1a1a1a" font-weight="bold" textLength="32.5" lengthAdjust="spacingAndGlyphs" text-anchor="end" >494</text>
<text x="1288.2" y="1334" font-size="29" font-family="'Liberation Sans', Arial, sans-serif" fill="#1a1a1a" font-weight="bold" textLength="32.5" lengthAdjust="spacingAndGlyphs" text-anchor="end" >496</text>
<text x="1288.2" y="1245.2" font-size="29" font-family="'Liberation Sans', Arial, sans-serif" fill="#1a1a1a" font-weight="bold" textLength="32.5" lengthAdjust="spacingAndGlyphs" text-anchor="end" >498</text>
<text x="1288.2" y="1156.4" font-size="29" font-family="'Liberation Sans', Arial, sans-serif" fill="#1a1a1a" font-weight="bold" textLength="32.5" lengthAdjust="spacingAndGlyphs" text-anchor="end" >500</text>
<text x="2263.2" y="2049" font-size="25.5" font-family="'Liberation Sans', Arial, sans-serif" fill="#1a1a1a" font-weight="bold" textLength="34" lengthAdjust="spacingAndGlyphs" text-anchor="middle" >925</text>
<text x="2116.2" y="2049" font-size="25.5" font-family="'Liberation Sans', Arial, sans-serif" fill="#1a1a1a" font-weight="bold" textLength="34" lengthAdjust="spacingAndGlyphs" text-anchor="middle" >930</text>
<text x="1969.2" y="2049" font-size="25.5" font-family="'Liberation Sans', Arial, sans-serif" fill="#1a1a1a" font-weight="bold" textLength="34" lengthAdjust="spacingAndGlyphs" text-anchor="middle" >935</text>
<text x="1822.3" y="2049" font-size="25.5" font-family="'Liberation Sans', Arial, sans-serif" fill="#1a1a1a" font-weight="bold" textLength="34" lengthAdjust="spacingAndGlyphs" text-anchor="middle" >940</text>
<text x="1675.3" y="2049" font-size="25.5" font-family="'Liberation Sans', Arial, sans-serif" fill="#1a1a1a" font-weight="bold" textLength="34" lengthAdjust="spacingAndGlyphs" text-anchor="middle" >945</text>
<text x="1528.4" y="2049" font-size="25.5" font-family="'Liberation Sans', Arial, sans-serif" fill="#1a1a1a" font-weight="bold" textLength="34" lengthAdjust="spacingAndGlyphs" text-anchor="middle" >950</text>
<text x="1381.4" y="2049" font-size="25.5" font-family="'Liberation Sans', Arial, sans-serif" fill="#1a1a1a" font-weight="bold" textLength="34" lengthAdjust="spacingAndGlyphs" text-anchor="middle" >955</text>
<text x="1714" y="2082.5" font-size="26" font-family="'Liberation Sans', Arial, sans-serif" fill="#1a1a1a" font-weight="bold" textLength="201" lengthAdjust="spacingAndGlyphs" >Binding Energy (eV)</text>
<text x="1247.7" y="1566.8" font-size="23" font-family="'Liberation Sans', Arial, sans-serif" fill="#1a1a1a" font-weight="bold" textLength="117" lengthAdjust="spacingAndGlyphs" transform="rotate(-90 1247.7 1566.8)" >CPS x 10</text>
<text x="1238" y="1449" font-size="21" font-family="'Liberation Sans', Arial, sans-serif" fill="#1a1a1a" font-weight="bold" textLength="24" lengthAdjust="spacingAndGlyphs" transform="rotate(-90 1238 1449)" >−2</text>
<text x="1350" y="1156" font-size="24.5" font-family="'Liberation Sans', Arial, sans-serif" fill="#2a2a2a" textLength="54" lengthAdjust="spacingAndGlyphs" >Name</text>
<text x="1471" y="1156" font-size="24.5" font-family="'Liberation Sans', Arial, sans-serif" fill="#2a2a2a" textLength="43" lengthAdjust="spacingAndGlyphs" >Pos.</text>
<text x="1545" y="1156" font-size="24.5" font-family="'Liberation Sans', Arial, sans-serif" fill="#2a2a2a" textLength="61" lengthAdjust="spacingAndGlyphs" >%Area</text>
<text x="1350" y="1189.9" font-size="24.5" font-family="'Liberation Sans', Arial, sans-serif" fill="#d0606c" textLength="47" lengthAdjust="spacingAndGlyphs" >Bi 4s</text>
<text x="1462.7" y="1189.9" font-size="24.5" font-family="'Liberation Sans', Arial, sans-serif" fill="#2a2a2a" textLength="62" lengthAdjust="spacingAndGlyphs" >939.49</text>
<text x="1550" y="1189.9" font-size="24.5" font-family="'Liberation Sans', Arial, sans-serif" fill="#2a2a2a" textLength="53" lengthAdjust="spacingAndGlyphs" >83.51</text>
<text x="1350" y="1225" font-size="24.5" font-family="'Liberation Sans', Arial, sans-serif" fill="#8ab866" textLength="84" lengthAdjust="spacingAndGlyphs" >Bi 4s 1/2</text>
<text x="1462.7" y="1225" font-size="24.5" font-family="'Liberation Sans', Arial, sans-serif" fill="#2a2a2a" textLength="62" lengthAdjust="spacingAndGlyphs" >938.13</text>
<text x="1553" y="1225" font-size="24.5" font-family="'Liberation Sans', Arial, sans-serif" fill="#2a2a2a" textLength="50" lengthAdjust="spacingAndGlyphs" >16.49</text>
<text x="1854" y="1108.6" font-size="26" font-family="'Liberation Sans', Arial, sans-serif" fill="#1a1a1a" font-weight="bold" textLength="46" lengthAdjust="spacingAndGlyphs" >Bi 4s</text>
<text x="1854" y="1144.5" font-size="26" font-family="'Liberation Sans', Arial, sans-serif" fill="#1a1a1a" font-weight="bold" textLength="88" lengthAdjust="spacingAndGlyphs" >Bi 4s 1/2</text>
<text x="2241.3" y="1156.6" font-size="42" font-family="'Liberation Serif', 'Times New Roman', serif" fill="#000" font-weight="bold" textLength="52" lengthAdjust="spacingAndGlyphs" >(d)</text>
<clipPath id="ce"><rect x="124" y="2136" width="1014" height="976.4"/></clipPath>
<g clip-path="url(#ce)">
<path d="M120,2906C150,2906 253.3,2906 300,2906C346.7,2906 373.3,2905.9 400,2906C426.7,2906.1 441.3,2905.6 460,2906.8C478.7,2908 497.2,2910.5 512,2913.3C526.8,2916.1 536.3,2919.1 548.5,2923.5C560.7,2927.9 572.9,2933.2 585,2940C597.1,2946.8 610.8,2956.8 621,2964C631.2,2971.2 637.7,2976.7 646,2983.5C654.3,2990.3 664.2,2999.1 670.9,3005C677.6,3010.9 680.9,3015 686,3019C691.1,3023 697.4,3026.5 701.7,3028.8C706,3031.1 708.4,3032 712,3033C715.6,3034 719.4,3034.5 723.4,3035C727.4,3035.5 731.9,3036 736,3036C740.1,3036 743.6,3036 748.1,3035C752.6,3034 757.9,3032.1 763,3030C768.1,3027.9 773.6,3024.9 778.9,3022.6C784.2,3020.3 789.3,3017.7 795,3016C800.7,3014.3 806.8,3012.8 812.9,3012.4C819,3012 826,3012.6 831.4,3013.4C836.8,3014.2 840.9,3015.5 845,3017C849.1,3018.5 851.9,3020.3 856.1,3022.6C860.3,3024.9 864.9,3027.7 870,3031C875.1,3034.3 879,3037.1 887,3042.7C895,3048.2 907.6,3057.1 917.9,3064.3C928.2,3071.5 941,3081.3 948.7,3085.9C956.4,3090.5 958.9,3090.2 964,3092C969.1,3093.8 971.9,3095.4 979.6,3096.7C987.3,3097.9 999.7,3098.7 1010,3099.5C1020.3,3100.3 1018.9,3100.7 1041.4,3101.4C1063.9,3102.2 1127.7,3103.6 1145,3104" fill="none" stroke="#78ad4c" stroke-width="3.2" stroke-linejoin="round" stroke-linecap="round" />
<path d="M120,2906C150,2906 253.3,2906 300,2906C346.7,2906 373.3,2905.9 400,2906C426.7,2906.1 441.3,2905.6 460,2906.8C478.7,2908 497.2,2910.5 512,2913.3C526.8,2916.1 536.3,2919.1 548.5,2923.5C560.7,2927.9 572.9,2933.2 585,2940C597.1,2946.8 610.8,2956.7 621,2964C631.2,2971.3 637.7,2977 646,2984C654.3,2991 662.7,2998.7 671,3006C679.3,3013.3 688.3,3021.5 696,3028C703.7,3034.5 710.8,3040.2 717,3045C723.2,3049.8 727.8,3053.5 733,3057C738.2,3060.5 742.9,3063.4 748,3066C753.1,3068.6 758.3,3070.6 763.5,3072.5C768.7,3074.4 773.9,3075.8 779,3077.3C784.1,3078.8 786.7,3079.6 794.4,3081.3C802.1,3083 814.7,3085.7 825,3087.5C835.3,3089.3 845.7,3090.7 856,3092C866.3,3093.3 871.5,3093.9 887,3095.2C902.5,3096.5 923,3098.5 948.7,3099.8C974.4,3101.1 1008.3,3102.1 1041,3102.9C1073.7,3103.7 1127.7,3104.2 1145,3104.5" fill="none" stroke="#9a4a06" stroke-width="3.6" stroke-linejoin="round" stroke-linecap="round" />
<path d="M178,2899C198.3,2899 263,2899.1 300,2899C337,2898.9 375.8,2899.3 400,2898.5C424.2,2897.7 432.5,2897.4 445,2894C457.5,2890.6 465,2886.5 475,2878C485,2869.5 497.3,2854.3 505,2843C512.7,2831.7 515.8,2825.2 521,2810C526.2,2794.8 531.3,2772 536.4,2752C541.5,2732 546.7,2711.2 551.8,2690C556.9,2668.8 562.1,2647 567.2,2625C572.3,2603 577.5,2582.2 582.6,2558C587.7,2533.8 592.9,2507.2 598,2480C603.1,2452.8 608.3,2421.3 613.4,2395C618.5,2368.7 624.2,2339.5 628.8,2322C633.4,2304.5 636.9,2296.6 641,2290C645.1,2283.4 649.2,2282.6 653.2,2282.6C657.2,2282.6 661.2,2284.1 665,2290C668.8,2295.9 671.8,2302.2 676,2318C680.2,2333.8 685.3,2356.8 690.3,2385C695.2,2413.2 700.6,2453.7 705.7,2487C710.8,2520.3 716.9,2558.2 721.1,2585C725.3,2611.8 727.5,2628.8 731,2648C734.5,2667.2 737.5,2675.9 741.9,2700C746.3,2724.1 752.1,2763.8 757.3,2792.6C762.4,2821.4 767.6,2849.2 772.8,2872.9C777.9,2896.6 783.1,2917.1 788.2,2934.6C793.3,2952.1 798.5,2964.5 803.6,2977.9C808.8,2991.3 812.9,3003.6 819.1,3014.9C825.3,3026.2 834.6,3038.3 840.7,3045.8C846.9,3053.3 850.9,3055.9 856,3060C861.1,3064.1 863.9,3066.9 871.6,3070.5C879.3,3074.1 889.5,3078 902.4,3081.3C915.2,3084.7 930.7,3087.8 948.7,3090.6C966.7,3093.4 977.8,3096.2 1010.5,3098.3C1043.2,3100.5 1122.6,3102.6 1145,3103.5" fill="none" stroke="#c8585e" stroke-width="2.8" stroke-linejoin="round" stroke-linecap="round" />
<path d="M120.9,2893C123.5,2893.2 131.2,2893.8 136.3,2894.4C141.4,2895 146.6,2895.4 151.7,2896.3C156.8,2897.2 162,2897.9 167.1,2899.9C172.2,2901.9 177.3,2906.7 182.5,2908.2C187.6,2909.7 192.7,2908.9 197.9,2909C203,2909.1 208.1,2908.7 213.2,2909C218.4,2909.3 223.5,2911.1 228.6,2910.8C233.8,2910.5 238.9,2907.2 244,2907.2C249.2,2907.2 254.3,2909.4 259.4,2910.8C264.6,2912.2 269.7,2915.6 274.8,2915.5C279.9,2915.4 285.1,2910.8 290.2,2910C295.3,2909.2 300.5,2910.1 305.6,2910.8C310.7,2911.5 315.9,2915.6 321,2914.4C326.1,2913.2 331.2,2905.9 336.4,2903.5C341.5,2901.1 346.6,2901.1 351.8,2899.9C356.9,2898.7 362,2896.6 367.2,2896.3C372.3,2896 377.4,2898.1 382.5,2898.1C387.7,2898.1 392.8,2898.1 397.9,2896.3C403.1,2894.5 408.2,2889.2 413.3,2887.2C418.4,2885.2 423.6,2886.4 428.7,2884.3C433.8,2882.2 439,2877.7 444.1,2874.5C449.2,2871.3 454.4,2869.7 459.5,2865.4C464.6,2861.2 469.8,2853.6 474.9,2849C480,2844.4 485.1,2843.9 490.3,2838C495.4,2832.1 500.5,2821.9 505.7,2813.7C510.8,2805.5 515.9,2801.5 521,2788.9C526.2,2776.3 531.3,2755.6 536.4,2738.3C541.6,2721 546.7,2704.8 551.8,2685C557,2665.2 562.1,2641.7 567.2,2619.7C572.4,2597.7 577.5,2577.5 582.6,2553.1C587.7,2528.7 592.9,2501.2 598,2473.2C603.1,2445.2 608.3,2412.7 613.4,2385.2C618.5,2357.7 623.6,2327.9 628.8,2308C633.9,2288.1 639,2272.7 644.2,2265.8C649.3,2258.9 654.4,2259.6 659.6,2266.6C664.7,2273.6 669.8,2288.7 675,2308C680.1,2327.3 685.2,2353.1 690.3,2382.6C695.5,2412.1 700.6,2451.8 705.7,2485.1C710.9,2518.4 716,2552.6 721.1,2582.4C726.3,2612.2 731.4,2637.5 736.5,2663.7C741.6,2689.9 746.8,2715.4 751.9,2739.8C757,2764.2 762.2,2790.2 767.3,2810.3C772.4,2830.4 777.6,2845.7 782.7,2860.5C787.8,2875.3 792.9,2887 798.1,2899.1C803.2,2911.2 808.3,2922.5 813.5,2933.1C818.6,2943.7 823.7,2953 828.9,2962.4C834,2971.8 839.1,2982.9 844.2,2989.6C849.4,2996.3 854.5,2997.1 859.6,3002.6C864.8,3008.1 869.9,3016.4 875,3022.6C880.1,3028.8 885.3,3035.5 890.4,3039.6C895.5,3043.7 900.7,3045 905.8,3047.3C910.9,3049.6 916.1,3051.4 921.2,3053.5C926.3,3055.6 931.4,3056.2 936.6,3059.7C941.7,3063.1 946.8,3071.1 952,3074.2C957.1,3077.3 962.2,3077.2 967.4,3078.2C972.5,3079.2 977.6,3078.7 982.8,3080.4C987.9,3082.1 993,3087.6 998.1,3088.4C1003.3,3089.2 1008.4,3085.5 1013.5,3085.3C1018.7,3085.2 1023.8,3086.1 1028.9,3087.5C1034.1,3088.9 1039.2,3092.7 1044.3,3093.6C1049.4,3094.5 1054.6,3091.9 1059.7,3092.7C1064.8,3093.5 1070,3097 1075.1,3098.3C1080.2,3099.6 1085.3,3099.9 1090.5,3100.7C1095.6,3101.5 1100.7,3101.9 1105.9,3102.9C1111,3103.9 1116.1,3107.9 1121.3,3106.9C1126.4,3105.9 1134.1,3098.4 1136.7,3096.7" fill="none" stroke="#ff0000" stroke-width="4.4" stroke-linejoin="round" stroke-linecap="round" />
<ellipse cx="120.9" cy="2893" rx="8.6" ry="10.4" fill="#ff0000"/>
<ellipse cx="120.9" cy="2893" rx="3.4" ry="4.1" fill="#c98686"/>
<ellipse cx="136.3" cy="2894.4" rx="8.6" ry="10.4" fill="#ff0000"/>
<ellipse cx="136.3" cy="2894.4" rx="3.4" ry="4.1" fill="#c98686"/>
<ellipse cx="151.7" cy="2896.3" rx="8.6" ry="10.4" fill="#ff0000"/>
<ellipse cx="151.7" cy="2896.3" rx="3.4" ry="4.1" fill="#c98686"/>
<ellipse cx="167.1" cy="2899.9" rx="8.6" ry="10.4" fill="#ff0000"/>
<ellipse cx="167.1" cy="2899.9" rx="3.4" ry="4.1" fill="#c98686"/>
<ellipse cx="182.5" cy="2908.2" rx="8.6" ry="10.4" fill="#ff0000"/>
<ellipse cx="182.5" cy="2908.2" rx="3.4" ry="4.1" fill="#c98686"/>
<ellipse cx="197.9" cy="2909" rx="8.6" ry="10.4" fill="#ff0000"/>
<ellipse cx="197.9" cy="2909" rx="3.4" ry="4.1" fill="#c98686"/>
<ellipse cx="213.2" cy="2909" rx="8.6" ry="10.4" fill="#ff0000"/>
<ellipse cx="213.2" cy="2909" rx="3.4" ry="4.1" fill="#c98686"/>
<ellipse cx="228.6" cy="2910.8" rx="8.6" ry="10.4" fill="#ff0000"/>
<ellipse cx="228.6" cy="2910.8" rx="3.4" ry="4.1" fill="#c98686"/>
<ellipse cx="244" cy="2907.2" rx="8.6" ry="10.4" fill="#ff0000"/>
<ellipse cx="244" cy="2907.2" rx="3.4" ry="4.1" fill="#c98686"/>
<ellipse cx="259.4" cy="2910.8" rx="8.6" ry="10.4" fill="#ff0000"/>
<ellipse cx="259.4" cy="2910.8" rx="3.4" ry="4.1" fill="#c98686"/>
<ellipse cx="274.8" cy="2915.5" rx="8.6" ry="10.4" fill="#ff0000"/>
<ellipse cx="274.8" cy="2915.5" rx="3.4" ry="4.1" fill="#c98686"/>
<ellipse cx="290.2" cy="2910" rx="8.6" ry="10.4" fill="#ff0000"/>
<ellipse cx="290.2" cy="2910" rx="3.4" ry="4.1" fill="#c98686"/>
<ellipse cx="305.6" cy="2910.8" rx="8.6" ry="10.4" fill="#ff0000"/>
<ellipse cx="305.6" cy="2910.8" rx="3.4" ry="4.1" fill="#c98686"/>
<ellipse cx="321" cy="2914.4" rx="8.6" ry="10.4" fill="#ff0000"/>
<ellipse cx="321" cy="2914.4" rx="3.4" ry="4.1" fill="#c98686"/>
<ellipse cx="336.4" cy="2903.5" rx="8.6" ry="10.4" fill="#ff0000"/>
<ellipse cx="336.4" cy="2903.5" rx="3.4" ry="4.1" fill="#c98686"/>
<ellipse cx="351.8" cy="2899.9" rx="8.6" ry="10.4" fill="#ff0000"/>
<ellipse cx="351.8" cy="2899.9" rx="3.4" ry="4.1" fill="#c98686"/>
<ellipse cx="367.2" cy="2896.3" rx="8.6" ry="10.4" fill="#ff0000"/>
<ellipse cx="367.2" cy="2896.3" rx="3.4" ry="4.1" fill="#c98686"/>
<ellipse cx="382.5" cy="2898.1" rx="8.6" ry="10.4" fill="#ff0000"/>
<ellipse cx="382.5" cy="2898.1" rx="3.4" ry="4.1" fill="#c98686"/>
<ellipse cx="397.9" cy="2896.3" rx="8.6" ry="10.4" fill="#ff0000"/>
<ellipse cx="397.9" cy="2896.3" rx="3.4" ry="4.1" fill="#c98686"/>
<ellipse cx="413.3" cy="2887.2" rx="8.6" ry="10.4" fill="#ff0000"/>
<ellipse cx="413.3" cy="2887.2" rx="3.4" ry="4.1" fill="#c98686"/>
<ellipse cx="428.7" cy="2884.3" rx="8.6" ry="10.4" fill="#ff0000"/>
<ellipse cx="428.7" cy="2884.3" rx="3.4" ry="4.1" fill="#c98686"/>
<ellipse cx="444.1" cy="2874.5" rx="8.6" ry="10.4" fill="#ff0000"/>
<ellipse cx="444.1" cy="2874.5" rx="3.4" ry="4.1" fill="#c98686"/>
<ellipse cx="459.5" cy="2865.4" rx="8.6" ry="10.4" fill="#ff0000"/>
<ellipse cx="459.5" cy="2865.4" rx="3.4" ry="4.1" fill="#c98686"/>
<ellipse cx="474.9" cy="2849" rx="8.6" ry="10.4" fill="#ff0000"/>
<ellipse cx="474.9" cy="2849" rx="3.4" ry="4.1" fill="#c98686"/>
<ellipse cx="490.3" cy="2838" rx="8.6" ry="10.4" fill="#ff0000"/>
<ellipse cx="490.3" cy="2838" rx="3.4" ry="4.1" fill="#c98686"/>
<ellipse cx="505.7" cy="2813.7" rx="8.6" ry="10.4" fill="#ff0000"/>
<ellipse cx="505.7" cy="2813.7" rx="3.4" ry="4.1" fill="#c98686"/>
<ellipse cx="521" cy="2788.9" rx="8.6" ry="10.4" fill="#ff0000"/>
<ellipse cx="521" cy="2788.9" rx="3.4" ry="4.1" fill="#c98686"/>
<ellipse cx="536.4" cy="2738.3" rx="8.6" ry="10.4" fill="#ff0000"/>
<ellipse cx="536.4" cy="2738.3" rx="3.4" ry="4.1" fill="#c98686"/>
<ellipse cx="551.8" cy="2685" rx="8.6" ry="10.4" fill="#ff0000"/>
<ellipse cx="551.8" cy="2685" rx="3.4" ry="4.1" fill="#c98686"/>
<ellipse cx="567.2" cy="2619.7" rx="8.6" ry="10.4" fill="#ff0000"/>
<ellipse cx="567.2" cy="2619.7" rx="3.4" ry="4.1" fill="#c98686"/>
<ellipse cx="582.6" cy="2553.1" rx="8.6" ry="10.4" fill="#ff0000"/>
<ellipse cx="582.6" cy="2553.1" rx="3.4" ry="4.1" fill="#c98686"/>
<ellipse cx="598" cy="2473.2" rx="8.6" ry="10.4" fill="#ff0000"/>
<ellipse cx="598" cy="2473.2" rx="3.4" ry="4.1" fill="#c98686"/>
<ellipse cx="613.4" cy="2385.2" rx="8.6" ry="10.4" fill="#ff0000"/>
<ellipse cx="613.4" cy="2385.2" rx="3.4" ry="4.1" fill="#c98686"/>
<ellipse cx="628.8" cy="2308" rx="8.6" ry="10.4" fill="#ff0000"/>
<ellipse cx="628.8" cy="2308" rx="3.4" ry="4.1" fill="#c98686"/>
<ellipse cx="644.2" cy="2265.8" rx="8.6" ry="10.4" fill="#ff0000"/>
<ellipse cx="644.2" cy="2265.8" rx="3.4" ry="4.1" fill="#c98686"/>
<ellipse cx="659.6" cy="2266.6" rx="8.6" ry="10.4" fill="#ff0000"/>
<ellipse cx="659.6" cy="2266.6" rx="3.4" ry="4.1" fill="#c98686"/>
<ellipse cx="675" cy="2308" rx="8.6" ry="10.4" fill="#ff0000"/>
<ellipse cx="675" cy="2308" rx="3.4" ry="4.1" fill="#c98686"/>
<ellipse cx="690.3" cy="2382.6" rx="8.6" ry="10.4" fill="#ff0000"/>
<ellipse cx="690.3" cy="2382.6" rx="3.4" ry="4.1" fill="#c98686"/>
<ellipse cx="705.7" cy="2485.1" rx="8.6" ry="10.4" fill="#ff0000"/>
<ellipse cx="705.7" cy="2485.1" rx="3.4" ry="4.1" fill="#c98686"/>
<ellipse cx="721.1" cy="2582.4" rx="8.6" ry="10.4" fill="#ff0000"/>
<ellipse cx="721.1" cy="2582.4" rx="3.4" ry="4.1" fill="#c98686"/>
<ellipse cx="736.5" cy="2663.7" rx="8.6" ry="10.4" fill="#ff0000"/>
<ellipse cx="736.5" cy="2663.7" rx="3.4" ry="4.1" fill="#c98686"/>
<ellipse cx="751.9" cy="2739.8" rx="8.6" ry="10.4" fill="#ff0000"/>
<ellipse cx="751.9" cy="2739.8" rx="3.4" ry="4.1" fill="#c98686"/>
<ellipse cx="767.3" cy="2810.3" rx="8.6" ry="10.4" fill="#ff0000"/>
<ellipse cx="767.3" cy="2810.3" rx="3.4" ry="4.1" fill="#c98686"/>
<ellipse cx="782.7" cy="2860.5" rx="8.6" ry="10.4" fill="#ff0000"/>
<ellipse cx="782.7" cy="2860.5" rx="3.4" ry="4.1" fill="#c98686"/>
<ellipse cx="798.1" cy="2899.1" rx="8.6" ry="10.4" fill="#ff0000"/>
<ellipse cx="798.1" cy="2899.1" rx="3.4" ry="4.1" fill="#c98686"/>
<ellipse cx="813.5" cy="2933.1" rx="8.6" ry="10.4" fill="#ff0000"/>
<ellipse cx="813.5" cy="2933.1" rx="3.4" ry="4.1" fill="#c98686"/>
<ellipse cx="828.9" cy="2962.4" rx="8.6" ry="10.4" fill="#ff0000"/>
<ellipse cx="828.9" cy="2962.4" rx="3.4" ry="4.1" fill="#c98686"/>
<ellipse cx="844.2" cy="2989.6" rx="8.6" ry="10.4" fill="#ff0000"/>
<ellipse cx="844.2" cy="2989.6" rx="3.4" ry="4.1" fill="#c98686"/>
<ellipse cx="859.6" cy="3002.6" rx="8.6" ry="10.4" fill="#ff0000"/>
<ellipse cx="859.6" cy="3002.6" rx="3.4" ry="4.1" fill="#c98686"/>
<ellipse cx="875" cy="3022.6" rx="8.6" ry="10.4" fill="#ff0000"/>
<ellipse cx="875" cy="3022.6" rx="3.4" ry="4.1" fill="#c98686"/>
<ellipse cx="890.4" cy="3039.6" rx="8.6" ry="10.4" fill="#ff0000"/>
<ellipse cx="890.4" cy="3039.6" rx="3.4" ry="4.1" fill="#c98686"/>
<ellipse cx="905.8" cy="3047.3" rx="8.6" ry="10.4" fill="#ff0000"/>
<ellipse cx="905.8" cy="3047.3" rx="3.4" ry="4.1" fill="#c98686"/>
<ellipse cx="921.2" cy="3053.5" rx="8.6" ry="10.4" fill="#ff0000"/>
<ellipse cx="921.2" cy="3053.5" rx="3.4" ry="4.1" fill="#c98686"/>
<ellipse cx="936.6" cy="3059.7" rx="8.6" ry="10.4" fill="#ff0000"/>
<ellipse cx="936.6" cy="3059.7" rx="3.4" ry="4.1" fill="#c98686"/>
<ellipse cx="952" cy="3074.2" rx="8.6" ry="10.4" fill="#ff0000"/>
<ellipse cx="952" cy="3074.2" rx="3.4" ry="4.1" fill="#c98686"/>
<ellipse cx="967.4" cy="3078.2" rx="8.6" ry="10.4" fill="#ff0000"/>
<ellipse cx="967.4" cy="3078.2" rx="3.4" ry="4.1" fill="#c98686"/>
<ellipse cx="982.8" cy="3080.4" rx="8.6" ry="10.4" fill="#ff0000"/>
<ellipse cx="982.8" cy="3080.4" rx="3.4" ry="4.1" fill="#c98686"/>
<ellipse cx="998.1" cy="3088.4" rx="8.6" ry="10.4" fill="#ff0000"/>
<ellipse cx="998.1" cy="3088.4" rx="3.4" ry="4.1" fill="#c98686"/>
<ellipse cx="1013.5" cy="3085.3" rx="8.6" ry="10.4" fill="#ff0000"/>
<ellipse cx="1013.5" cy="3085.3" rx="3.4" ry="4.1" fill="#c98686"/>
<ellipse cx="1028.9" cy="3087.5" rx="8.6" ry="10.4" fill="#ff0000"/>
<ellipse cx="1028.9" cy="3087.5" rx="3.4" ry="4.1" fill="#c98686"/>
<ellipse cx="1044.3" cy="3093.6" rx="8.6" ry="10.4" fill="#ff0000"/>
<ellipse cx="1044.3" cy="3093.6" rx="3.4" ry="4.1" fill="#c98686"/>
<ellipse cx="1059.7" cy="3092.7" rx="8.6" ry="10.4" fill="#ff0000"/>
<ellipse cx="1059.7" cy="3092.7" rx="3.4" ry="4.1" fill="#c98686"/>
<ellipse cx="1075.1" cy="3098.3" rx="8.6" ry="10.4" fill="#ff0000"/>
<ellipse cx="1075.1" cy="3098.3" rx="3.4" ry="4.1" fill="#c98686"/>
<ellipse cx="1090.5" cy="3100.7" rx="8.6" ry="10.4" fill="#ff0000"/>
<ellipse cx="1090.5" cy="3100.7" rx="3.4" ry="4.1" fill="#c98686"/>
<ellipse cx="1105.9" cy="3102.9" rx="8.6" ry="10.4" fill="#ff0000"/>
<ellipse cx="1105.9" cy="3102.9" rx="3.4" ry="4.1" fill="#c98686"/>
<ellipse cx="1121.3" cy="3106.9" rx="8.6" ry="10.4" fill="#ff0000"/>
<ellipse cx="1121.3" cy="3106.9" rx="3.4" ry="4.1" fill="#c98686"/>
<ellipse cx="1136.7" cy="3096.7" rx="8.6" ry="10.4" fill="#ff0000"/>
<ellipse cx="1136.7" cy="3096.7" rx="3.4" ry="4.1" fill="#c98686"/>
</g>
<line x1="670.7" y1="2328" x2="670.7" y2="3112.4" stroke="#8f4a12" stroke-width="3" stroke-linecap="butt"/>
<line x1="670.4" y1="2136" x2="670.4" y2="2233" stroke="#e01010" stroke-width="3.4" stroke-linecap="butt"/>
<line x1="109" y1="3023.6" x2="124" y2="3023.6" stroke="#000" stroke-width="3.4" stroke-linecap="butt"/>
<line x1="109" y1="2879.5" x2="124" y2="2879.5" stroke="#000" stroke-width="3.4" stroke-linecap="butt"/>
<line x1="109" y1="2735.4" x2="124" y2="2735.4" stroke="#000" stroke-width="3.4" stroke-linecap="butt"/>
<line x1="109" y1="2591.3" x2="124" y2="2591.3" stroke="#000" stroke-width="3.4" stroke-linecap="butt"/>
<line x1="109" y1="2447.2" x2="124" y2="2447.2" stroke="#000" stroke-width="3.4" stroke-linecap="butt"/>
<line x1="109" y1="2303.1" x2="124" y2="2303.1" stroke="#000" stroke-width="3.4" stroke-linecap="butt"/>
<line x1="109" y1="2159" x2="124" y2="2159" stroke="#000" stroke-width="3.4" stroke-linecap="butt"/>
<line x1="114" y1="3095.7" x2="124" y2="3095.7" stroke="#000" stroke-width="3.4" stroke-linecap="butt"/>
<line x1="114" y1="2951.6" x2="124" y2="2951.6" stroke="#000" stroke-width="3.4" stroke-linecap="butt"/>
<line x1="114" y1="2807.4" x2="124" y2="2807.4" stroke="#000" stroke-width="3.4" stroke-linecap="butt"/>
<line x1="114" y1="2663.3" x2="124" y2="2663.3" stroke="#000" stroke-width="3.4" stroke-linecap="butt"/>
<line x1="114" y1="2519.2" x2="124" y2="2519.2" stroke="#000" stroke-width="3.4" stroke-linecap="butt"/>
<line x1="114" y1="2375.2" x2="124" y2="2375.2" stroke="#000" stroke-width="3.4" stroke-linecap="butt"/>
<line x1="114" y1="2231.1" x2="124" y2="2231.1" stroke="#000" stroke-width="3.4" stroke-linecap="butt"/>
<line x1="1101" y1="3112.4" x2="1101" y2="3139.4" stroke="#000" stroke-width="3.2" stroke-linecap="butt"/>
<line x1="947" y1="3112.4" x2="947" y2="3139.4" stroke="#000" stroke-width="3.2" stroke-linecap="butt"/>
<line x1="793" y1="3112.4" x2="793" y2="3139.4" stroke="#000" stroke-width="3.2" stroke-linecap="butt"/>
<line x1="639" y1="3112.4" x2="639" y2="3139.4" stroke="#000" stroke-width="3.2" stroke-linecap="butt"/>
<line x1="485" y1="3112.4" x2="485" y2="3139.4" stroke="#000" stroke-width="3.2" stroke-linecap="butt"/>
<line x1="331" y1="3112.4" x2="331" y2="3139.4" stroke="#000" stroke-width="3.2" stroke-linecap="butt"/>
<line x1="177" y1="3112.4" x2="177" y2="3139.4" stroke="#000" stroke-width="3.2" stroke-linecap="butt"/>
<line x1="1131.8" y1="3112.4" x2="1131.8" y2="3128.4" stroke="#000" stroke-width="3.2" stroke-linecap="butt"/>
<line x1="1070.2" y1="3112.4" x2="1070.2" y2="3128.4" stroke="#000" stroke-width="3.2" stroke-linecap="butt"/>
<line x1="1039.4" y1="3112.4" x2="1039.4" y2="3128.4" stroke="#000" stroke-width="3.2" stroke-linecap="butt"/>
<line x1="1008.6" y1="3112.4" x2="1008.6" y2="3128.4" stroke="#000" stroke-width="3.2" stroke-linecap="butt"/>
<line x1="977.8" y1="3112.4" x2="977.8" y2="3128.4" stroke="#000" stroke-width="3.2" stroke-linecap="butt"/>
<line x1="916.2" y1="3112.4" x2="916.2" y2="3128.4" stroke="#000" stroke-width="3.2" stroke-linecap="butt"/>
<line x1="885.4" y1="3112.4" x2="885.4" y2="3128.4" stroke="#000" stroke-width="3.2" stroke-linecap="butt"/>
<line x1="854.6" y1="3112.4" x2="854.6" y2="3128.4" stroke="#000" stroke-width="3.2" stroke-linecap="butt"/>
<line x1="823.8" y1="3112.4" x2="823.8" y2="3128.4" stroke="#000" stroke-width="3.2" stroke-linecap="butt"/>
<line x1="762.2" y1="3112.4" x2="762.2" y2="3128.4" stroke="#000" stroke-width="3.2" stroke-linecap="butt"/>
<line x1="731.4" y1="3112.4" x2="731.4" y2="3128.4" stroke="#000" stroke-width="3.2" stroke-linecap="butt"/>
<line x1="700.6" y1="3112.4" x2="700.6" y2="3128.4" stroke="#000" stroke-width="3.2" stroke-linecap="butt"/>
<line x1="669.8" y1="3112.4" x2="669.8" y2="3128.4" stroke="#000" stroke-width="3.2" stroke-linecap="butt"/>
<line x1="608.2" y1="3112.4" x2="608.2" y2="3128.4" stroke="#000" stroke-width="3.2" stroke-linecap="butt"/>
<line x1="577.4" y1="3112.4" x2="577.4" y2="3128.4" stroke="#000" stroke-width="3.2" stroke-linecap="butt"/>
<line x1="546.6" y1="3112.4" x2="546.6" y2="3128.4" stroke="#000" stroke-width="3.2" stroke-linecap="butt"/>
<line x1="515.8" y1="3112.4" x2="515.8" y2="3128.4" stroke="#000" stroke-width="3.2" stroke-linecap="butt"/>
<line x1="454.2" y1="3112.4" x2="454.2" y2="3128.4" stroke="#000" stroke-width="3.2" stroke-linecap="butt"/>
<line x1="423.4" y1="3112.4" x2="423.4" y2="3128.4" stroke="#000" stroke-width="3.2" stroke-linecap="butt"/>
<line x1="392.6" y1="3112.4" x2="392.6" y2="3128.4" stroke="#000" stroke-width="3.2" stroke-linecap="butt"/>
<line x1="361.8" y1="3112.4" x2="361.8" y2="3128.4" stroke="#000" stroke-width="3.2" stroke-linecap="butt"/>
<line x1="300.2" y1="3112.4" x2="300.2" y2="3128.4" stroke="#000" stroke-width="3.2" stroke-linecap="butt"/>
<line x1="269.4" y1="3112.4" x2="269.4" y2="3128.4" stroke="#000" stroke-width="3.2" stroke-linecap="butt"/>
<line x1="238.6" y1="3112.4" x2="238.6" y2="3128.4" stroke="#000" stroke-width="3.2" stroke-linecap="butt"/>
<line x1="207.8" y1="3112.4" x2="207.8" y2="3128.4" stroke="#000" stroke-width="3.2" stroke-linecap="butt"/>
<line x1="146.2" y1="3112.4" x2="146.2" y2="3128.4" stroke="#000" stroke-width="3.2" stroke-linecap="butt"/>
<rect x="124" y="2136" width="1014" height="976.4" fill="none" stroke="#000" stroke-width="3.6"/>
<text x="108" y="3032.1" font-size="35" font-family="'Liberation Sans', Arial, sans-serif" fill="#1a1a1a" font-weight="bold" textLength="25.5" lengthAdjust="spacingAndGlyphs" text-anchor="end" >38</text>
<text x="108" y="2888" font-size="35" font-family="'Liberation Sans', Arial, sans-serif" fill="#1a1a1a" font-weight="bold" textLength="25.5" lengthAdjust="spacingAndGlyphs" text-anchor="end" >40</text>
<text x="108" y="2743.9" font-size="35" font-family="'Liberation Sans', Arial, sans-serif" fill="#1a1a1a" font-weight="bold" textLength="25.5" lengthAdjust="spacingAndGlyphs" text-anchor="end" >42</text>
<text x="108" y="2599.8" font-size="35" font-family="'Liberation Sans', Arial, sans-serif" fill="#1a1a1a" font-weight="bold" textLength="25.5" lengthAdjust="spacingAndGlyphs" text-anchor="end" >44</text>
<text x="108" y="2455.7" font-size="35" font-family="'Liberation Sans', Arial, sans-serif" fill="#1a1a1a" font-weight="bold" textLength="25.5" lengthAdjust="spacingAndGlyphs" text-anchor="end" >46</text>
<text x="108" y="2311.6" font-size="35" font-family="'Liberation Sans', Arial, sans-serif" fill="#1a1a1a" font-weight="bold" textLength="25.5" lengthAdjust="spacingAndGlyphs" text-anchor="end" >48</text>
<text x="108" y="2167.5" font-size="35" font-family="'Liberation Sans', Arial, sans-serif" fill="#1a1a1a" font-weight="bold" textLength="25.5" lengthAdjust="spacingAndGlyphs" text-anchor="end" >50</text>
<text x="1101" y="3172.3" font-size="36" font-family="'Liberation Sans', Arial, sans-serif" fill="#1a1a1a" font-weight="bold" textLength="42" lengthAdjust="spacingAndGlyphs" text-anchor="middle" >665</text>
<text x="947" y="3172.3" font-size="36" font-family="'Liberation Sans', Arial, sans-serif" fill="#1a1a1a" font-weight="bold" textLength="42" lengthAdjust="spacingAndGlyphs" text-anchor="middle" >670</text>
<text x="793" y="3172.3" font-size="36" font-family="'Liberation Sans', Arial, sans-serif" fill="#1a1a1a" font-weight="bold" textLength="42" lengthAdjust="spacingAndGlyphs" text-anchor="middle" >675</text>
<text x="639" y="3172.3" font-size="36" font-family="'Liberation Sans', Arial, sans-serif" fill="#1a1a1a" font-weight="bold" textLength="42" lengthAdjust="spacingAndGlyphs" text-anchor="middle" >680</text>
<text x="485" y="3172.3" font-size="36" font-family="'Liberation Sans', Arial, sans-serif" fill="#1a1a1a" font-weight="bold" textLength="42" lengthAdjust="spacingAndGlyphs" text-anchor="middle" >685</text>
<text x="331" y="3172.3" font-size="36" font-family="'Liberation Sans', Arial, sans-serif" fill="#1a1a1a" font-weight="bold" textLength="42" lengthAdjust="spacingAndGlyphs" text-anchor="middle" >690</text>
<text x="177" y="3172.3" font-size="36" font-family="'Liberation Sans', Arial, sans-serif" fill="#1a1a1a" font-weight="bold" textLength="42" lengthAdjust="spacingAndGlyphs" text-anchor="middle" >695</text>
<text x="506.8" y="3214" font-size="33.5" font-family="'Liberation Sans', Arial, sans-serif" fill="#1a1a1a" font-weight="bold" textLength="247.5" lengthAdjust="spacingAndGlyphs" >Binding Energy (eV)</text>
<text x="71.3" y="2651.2" font-size="28" font-family="'Liberation Sans', Arial, sans-serif" fill="#1a1a1a" font-weight="bold" textLength="136" lengthAdjust="spacingAndGlyphs" transform="rotate(-90 71.3 2651.2)" >CPS x 10</text>
<text x="62.6" y="2509" font-size="25" font-family="'Liberation Sans', Arial, sans-serif" fill="#1a1a1a" textLength="32" lengthAdjust="spacingAndGlyphs" transform="rotate(-90 62.6 2509)" >−3</text>
<text x="169" y="2204.4" font-size="35" font-family="'Liberation Sans', Arial, sans-serif" fill="#1e1e1e" textLength="72" lengthAdjust="spacingAndGlyphs" >Name</text>
<text x="319" y="2205.5" font-size="35" font-family="'Liberation Sans', Arial, sans-serif" fill="#1e1e1e" textLength="54" lengthAdjust="spacingAndGlyphs" >Pos.</text>
<text x="412.7" y="2205.5" font-size="35" font-family="'Liberation Sans', Arial, sans-serif" fill="#1e1e1e" textLength="77" lengthAdjust="spacingAndGlyphs" >%Area</text>
<text x="169" y="2246.2" font-size="35" font-family="'Liberation Sans', Arial, sans-serif" fill="#d4606a" textLength="103" lengthAdjust="spacingAndGlyphs" >Bi 4p 3/2</text>
<text x="307" y="2245.6" font-size="35" font-family="'Liberation Sans', Arial, sans-serif" fill="#1e1e1e" textLength="80" lengthAdjust="spacingAndGlyphs" >679.37</text>
<text x="418" y="2245.6" font-size="35" font-family="'Liberation Sans', Arial, sans-serif" fill="#1e1e1e" textLength="63" lengthAdjust="spacingAndGlyphs" >91.74</text>
<text x="169" y="2288.9" font-size="35" font-family="'Liberation Sans', Arial, sans-serif" fill="#8ab866" textLength="60" lengthAdjust="spacingAndGlyphs" >Bi 4p</text>
<text x="307" y="2288.8" font-size="35" font-family="'Liberation Sans', Arial, sans-serif" fill="#1e1e1e" textLength="80" lengthAdjust="spacingAndGlyphs" >673.85</text>
<text x="431" y="2288.8" font-size="35" font-family="'Liberation Sans', Arial, sans-serif" fill="#1e1e1e" textLength="50" lengthAdjust="spacingAndGlyphs" >8.26</text>
<text x="673" y="2167.5" font-size="33" font-family="'Liberation Sans', Arial, sans-serif" fill="#111" font-weight="bold" textLength="62" lengthAdjust="spacingAndGlyphs" >Bi 4p</text>
<text x="673" y="2209" font-size="33" font-family="'Liberation Sans', Arial, sans-serif" fill="#111" font-weight="bold" textLength="99" lengthAdjust="spacingAndGlyphs" >Bi 4p3/2</text>
<text x="1029" y="2213.8" font-size="44" font-family="'Liberation Serif', 'Times New Roman', serif" fill="#000" font-weight="bold" textLength="48.5" lengthAdjust="spacingAndGlyphs" >(e)</text>
<clipPath id="cf"><rect x="1294" y="2128.5" width="1052.6" height="990.7"/></clipPath>
<g clip-path="url(#cf)">
<path d="M1330,3074.2 L1334.1,3074.2 L1338.2,3074.1 L1342.3,3074.1 L1346.4,3074 L1350.5,3073.9 L1354.6,3073.8 L1358.7,3073.7 L1362.8,3073.6 L1367,3073.5 L1371.1,3073.3 L1375.2,3073.2 L1379.3,3073 L1383.4,3072.8 L1387.5,3072.5 L1391.6,3072.3 L1395.7,3072 L1399.8,3071.6 L1403.9,3071.2 L1408,3070.8 L1412.1,3070.4 L1416.2,3069.9 L1420.3,3069.3 L1424.4,3068.7 L1428.5,3068 L1432.6,3067.3 L1436.7,3066.5 L1440.8,3065.7 L1444.9,3064.7 L1449,3063.7 L1453.1,3062.6 L1457.2,3061.4 L1461.3,3060.2 L1465.4,3058.8 L1469.5,3057.4 L1473.6,3055.9 L1477.7,3054.2 L1481.8,3052.5 L1485.9,3050.7 L1490,3048.8 L1494.1,3046.8 L1498.2,3044.7 L1502.3,3042.5 L1506.4,3040.2 L1510.5,3037.9 L1514.6,3035.4 L1518.8,3032.9 L1522.9,3030.3 L1527,3027.7 L1531.1,3025 L1535.2,3022.3 L1539.3,3019.5 L1543.4,3016.7 L1547.5,3013.9 L1551.6,3011.1 L1555.7,3008.3 L1559.8,3005.5 L1563.9,3002.8 L1568,3000.1 L1572.1,2997.5 L1576.2,2994.9 L1580.3,2992.5 L1584.4,2990.1 L1588.5,2987.9 L1592.6,2985.8 L1596.7,2983.8 L1600.8,2982 L1604.9,2980.3 L1609,2978.8 L1613.1,2977.6 L1617.2,2976.5 L1621.3,2975.5 L1625.4,2974.8 L1629.5,2974.4 L1633.6,2974.1 L1637.7,2974 L1641.8,2974.1 L1645.9,2974.5 L1650,2975.1 L1654.1,2975.8 L1658.2,2976.8 L1662.3,2978 L1666.4,2979.4 L1670.6,2980.9 L1674.7,2982.6 L1678.8,2984.5 L1682.9,2986.5 L1687,2988.7 L1691.1,2990.9 L1695.2,2993.3 L1699.3,2995.8 L1703.4,2998.4 L1707.5,3001 L1711.6,3003.8 L1715.7,3006.5 L1719.8,3009.3 L1723.9,3012.1 L1728,3014.9 L1732.1,3017.7 L1736.2,3020.5 L1740.3,3023.3 L1744.4,3026 L1748.5,3028.7 L1752.6,3031.3 L1756.7,3033.8 L1760.8,3036.3 L1764.9,3038.7 L1769,3041.1 L1773.1,3043.3 L1777.2,3045.4 L1781.3,3047.5 L1785.4,3049.5 L1789.5,3051.4 L1793.6,3053.1 L1797.7,3054.8 L1801.8,3056.4 L1805.9,3057.9 L1810,3059.3 L1814.1,3060.6 L1818.2,3061.9 L1822.4,3063 L1826.5,3064.1 L1830.6,3065.1 L1834.7,3066 L1838.8,3066.8 L1842.9,3067.6 L1847,3068.3 L1851.1,3068.9 L1855.2,3069.5 L1859.3,3070.1 L1863.4,3070.5 L1867.5,3071 L1871.6,3071.4 L1875.7,3071.7 L1879.8,3072.1 L1883.9,3072.4 L1888,3072.6 L1892.1,3072.8 L1896.2,3073.1 L1900.3,3073.2 L1904.4,3073.4 L1908.5,3073.5 L1912.6,3073.7 L1916.7,3073.8 L1920.8,3073.9 L1924.9,3074 L1929,3074 L1933.1,3074.1 L1937.2,3074.2 L1941.3,3074.2 L1945.4,3074.3 L1949.5,3074.3 L1953.6,3074.3 L1957.7,3074.3 L1961.8,3074.4 L1965.9,3074.4 L1970,3074.4 L1974.2,3074.4 L1978.3,3074.4" fill="none" stroke="#78ad4c" stroke-width="3.2" stroke-linejoin="round" stroke-linecap="round" />
<path d="M1690,3073.8 L1693.4,3073.6 L1696.8,3073.4 L1700.3,3073.2 L1703.7,3072.8 L1707.1,3072.5 L1710.5,3072 L1713.9,3071.5 L1717.3,3070.8 L1720.8,3070.1 L1724.2,3069.2 L1727.6,3068.3 L1731,3067.1 L1734.4,3065.9 L1737.8,3064.4 L1741.3,3062.8 L1744.7,3061.1 L1748.1,3059.1 L1751.5,3057 L1754.9,3054.7 L1758.4,3052.2 L1761.8,3049.6 L1765.2,3046.9 L1768.6,3044 L1772,3041 L1775.4,3038 L1778.9,3034.9 L1782.3,3031.8 L1785.7,3028.8 L1789.1,3025.8 L1792.5,3023 L1795.9,3020.3 L1799.4,3017.8 L1802.8,3015.6 L1806.2,3013.6 L1809.6,3012 L1813,3010.7 L1816.5,3009.7 L1819.9,3009.2 L1823.3,3009 L1826.7,3009.2 L1830.1,3009.9 L1833.5,3010.9 L1837,3012.2 L1840.4,3013.9 L1843.8,3015.9 L1847.2,3018.2 L1850.6,3020.7 L1854.1,3023.4 L1857.5,3026.3 L1860.9,3029.3 L1864.3,3032.3 L1867.7,3035.4 L1871.1,3038.5 L1874.6,3041.5 L1878,3044.5 L1881.4,3047.3 L1884.8,3050.1 L1888.2,3052.7 L1891.6,3055.1 L1895.1,3057.4 L1898.5,3059.5 L1901.9,3061.4 L1905.3,3063.1 L1908.7,3064.7 L1912.2,3066.1 L1915.6,3067.3 L1919,3068.4 L1922.4,3069.4 L1925.8,3070.2 L1929.2,3070.9 L1932.7,3071.6 L1936.1,3072.1 L1939.5,3072.5 L1942.9,3072.9 L1946.3,3073.2 L1949.7,3073.5 L1953.2,3073.7 L1956.6,3073.8 L1960,3074" fill="none" stroke="#1f6cb0" stroke-width="3.4" stroke-linejoin="round" stroke-linecap="round" />
<line x1="1294" y1="3074.5" x2="2346.6" y2="3074.5" stroke="#9a4a06" stroke-width="3.4" stroke-linecap="butt"/>
<path d="M1494,3071.4 L1496.9,3071.4 L1499.7,3071.3 L1502.6,3071.3 L1505.5,3071.3 L1508.3,3071.2 L1511.2,3071.2 L1514.1,3071.1 L1516.9,3071.1 L1519.8,3071 L1522.7,3071 L1525.6,3070.9 L1528.4,3070.9 L1531.3,3070.8 L1534.2,3070.8 L1537,3070.7 L1539.9,3070.7 L1542.8,3070.6 L1545.6,3070.6 L1548.5,3070.5 L1551.4,3070.5 L1554.2,3070.4 L1557.1,3070.3 L1560,3070.3 L1562.8,3070.2 L1565.7,3070.2 L1568.6,3070.1 L1571.4,3070 L1574.3,3070 L1577.2,3069.9 L1580,3069.8 L1582.9,3069.7 L1585.8,3069.7 L1588.7,3069.6 L1591.5,3069.5 L1594.4,3069.4 L1597.3,3069.4 L1600.1,3069.3 L1603,3069.2 L1605.9,3069.1 L1608.7,3069 L1611.6,3068.9 L1614.5,3068.8 L1617.3,3068.7 L1620.2,3068.6 L1623.1,3068.5 L1625.9,3068.4 L1628.8,3068.3 L1631.7,3068.2 L1634.5,3068.1 L1637.4,3068 L1640.3,3067.9 L1643.1,3067.7 L1646,3067.6 L1648.9,3067.5 L1651.8,3067.3 L1654.6,3067.2 L1657.5,3067.1 L1660.4,3066.9 L1663.2,3066.8 L1666.1,3066.6 L1669,3066.5 L1671.8,3066.3 L1674.7,3066.1 L1677.6,3066 L1680.4,3065.8 L1683.3,3065.6 L1686.2,3065.4 L1689,3065.2 L1691.9,3065 L1694.8,3064.8 L1697.6,3064.6 L1700.5,3064.3 L1703.4,3064.1 L1706.2,3063.9 L1709.1,3063.6 L1712,3063.4 L1714.9,3063.1 L1717.7,3062.8" fill="none" stroke="#e83030" stroke-width="3.6" stroke-linejoin="round" stroke-linecap="round" />
<path d="M1494,3071.4 L1496.9,3071.4 L1499.7,3071.3 L1502.6,3071.3 L1505.5,3071.3 L1508.3,3071.2 L1511.2,3071.2 L1514.1,3071.1 L1516.9,3071.1 L1519.8,3071 L1522.7,3071 L1525.6,3070.9 L1528.4,3070.9 L1531.3,3070.8 L1534.2,3070.8 L1537,3070.7 L1539.9,3070.7 L1542.8,3070.6 L1545.6,3070.6 L1548.5,3070.5 L1551.4,3070.5 L1554.2,3070.4 L1557.1,3070.3 L1560,3070.3 L1562.8,3070.2 L1565.7,3070.2 L1568.6,3070.1 L1571.4,3070 L1574.3,3070 L1577.2,3069.9 L1580,3069.8 L1582.9,3069.7 L1585.8,3069.7 L1588.7,3069.6 L1591.5,3069.5 L1594.4,3069.4 L1597.3,3069.4 L1600.1,3069.3 L1603,3069.2 L1605.9,3069.1 L1608.7,3069 L1611.6,3068.9 L1614.5,3068.8 L1617.3,3068.7 L1620.2,3068.6 L1623.1,3068.5 L1625.9,3068.4 L1628.8,3068.3 L1631.7,3068.2 L1634.5,3068.1 L1637.4,3068 L1640.3,3067.9 L1643.1,3067.7 L1646,3067.6 L1648.9,3067.5 L1651.8,3067.3 L1654.6,3067.2 L1657.5,3067.1 L1660.4,3066.9 L1663.2,3066.8 L1666.1,3066.6 L1669,3066.5 L1671.8,3066.3 L1674.7,3066.1 L1677.6,3066 L1680.4,3065.8 L1683.3,3065.6 L1686.2,3065.4 L1689,3065.2 L1691.9,3065 L1694.8,3064.8 L1697.6,3064.6 L1700.5,3064.3 L1703.4,3064.1 L1706.2,3063.9 L1709.1,3063.6 L1712,3063.4 L1714.9,3063.1 L1717.7,3062.8 L1720.6,3062.5 L1723.5,3062.2 L1726.3,3061.9 L1729.2,3061.5 L1732.1,3061.1 L1734.9,3060.8 L1737.8,3060.3 L1740.7,3059.9 L1743.5,3059.4 L1746.4,3058.9 L1749.3,3058.4 L1752.1,3057.8 L1755,3057.2 L1757.9,3056.5 L1760.7,3055.7 L1763.6,3054.9 L1766.5,3053.9 L1769.3,3052.9 L1772.2,3051.8 L1775.1,3050.5 L1778,3049.2 L1780.8,3047.6 L1783.7,3045.9 L1786.6,3044 L1789.4,3041.9 L1792.3,3039.5 L1795.2,3036.8 L1798,3033.9 L1800.9,3030.6 L1803.8,3026.9 L1806.6,3022.9 L1809.5,3018.4 L1812.4,3013.4 L1815.2,3007.9 L1818.1,3001.8 L1821,2995.2 L1823.8,2987.8 L1826.7,2979.8 L1829.6,2971.1 L1832.5,2961.5 L1835.3,2951.2 L1838.2,2940 L1841.1,2927.8 L1843.9,2914.8 L1846.8,2900.8 L1849.7,2885.9 L1852.5,2869.9 L1855.4,2852.9 L1858.3,2835 L1861.1,2816.1 L1864,2796.2 L1866.9,2775.3 L1869.7,2753.6 L1872.6,2730.9 L1875.5,2707.5 L1878.3,2683.4 L1881.2,2658.7 L1884.1,2633.4 L1886.9,2607.6 L1889.8,2581.6 L1892.7,2555.4 L1895.6,2529.2 L1898.4,2503 L1901.3,2477.2 L1904.2,2451.8 L1907,2427.1 L1909.9,2403.2 L1912.8,2380.4 L1915.6,2358.8 L1918.5,2338.6 L1921.4,2320 L1924.2,2303.3 L1927.1,2288.6 L1930,2276.1 L1932.8,2265.8 L1935.7,2258.1 L1938.6,2252.9 L1941.4,2250.3 L1944.3,2250.4 L1947.2,2253.1 L1950,2258.4 L1952.9,2266.3 L1955.8,2276.7 L1958.7,2289.3 L1961.5,2304.2 L1964.4,2321 L1967.3,2339.6 L1970.1,2359.9 L1973,2381.6 L1975.9,2404.5 L1978.7,2428.4 L1981.6,2453.2 L1984.5,2478.6 L1987.3,2504.5 L1990.2,2530.6 L1993.1,2556.8 L1995.9,2583 L1998.8,2609 L2001.7,2634.8 L2004.5,2660 L2007.4,2684.7 L2010.3,2708.8 L2013.1,2732.2 L2016,2754.8 L2018.9,2776.5 L2021.8,2797.3 L2024.6,2817.1 L2027.5,2836 L2030.4,2853.9 L2033.2,2870.8 L2036.1,2886.7 L2039,2901.6 L2041.8,2915.5 L2044.7,2928.5 L2047.6,2940.6 L2050.4,2951.8 L2053.3,2962.1 L2056.2,2971.6 L2059,2980.3 L2061.9,2988.3 L2064.8,2995.5 L2067.6,3002.2 L2070.5,3008.2 L2073.4,3013.7 L2076.3,3018.6 L2079.1,3023.1 L2082,3027.1 L2084.9,3030.8 L2087.7,3034 L2090.6,3037 L2093.5,3039.6 L2096.3,3042 L2099.2,3044.1 L2102.1,3046 L2104.9,3047.7 L2107.8,3049.2 L2110.7,3050.6 L2113.5,3051.9 L2116.4,3053 L2119.3,3054 L2122.1,3054.9 L2125,3055.7 L2127.9,3056.5 L2130.7,3057.2 L2133.6,3057.8 L2136.5,3058.4 L2139.4,3059 L2142.2,3059.5 L2145.1,3059.9 L2148,3060.4 L2150.8,3060.8 L2153.7,3061.2 L2156.6,3061.5 L2159.4,3061.9 L2162.3,3062.2 L2165.2,3062.5 L2168,3062.8 L2170.9,3063.1 L2173.8,3063.4 L2176.6,3063.6 L2179.5,3063.9 L2182.4,3064.1 L2185.2,3064.4 L2188.1,3064.6 L2191,3064.8 L2193.8,3065 L2196.7,3065.2 L2199.6,3065.4 L2202.5,3065.6 L2205.3,3065.8 L2208.2,3066 L2211.1,3066.1 L2213.9,3066.3 L2216.8,3066.5 L2219.7,3066.6 L2222.5,3066.8 L2225.4,3066.9 L2228.3,3067.1 L2231.1,3067.2 L2234,3067.3 L2236.9,3067.5 L2239.7,3067.6 L2242.6,3067.7 L2245.5,3067.9 L2248.3,3068 L2251.2,3068.1 L2254.1,3068.2 L2256.9,3068.3 L2259.8,3068.4 L2262.7,3068.5 L2265.6,3068.6 L2268.4,3068.7 L2271.3,3068.8 L2274.2,3068.9 L2277,3069 L2279.9,3069.1 L2282.8,3069.2 L2285.6,3069.3 L2288.5,3069.4 L2291.4,3069.4 L2294.2,3069.5 L2297.1,3069.6 L2300,3069.7 L2302.8,3069.8 L2305.7,3069.8 L2308.6,3069.9 L2311.4,3070 L2314.3,3070 L2317.2,3070.1 L2320,3070.2 L2322.9,3070.2 L2325.8,3070.3 L2328.7,3070.3 L2331.5,3070.4 L2334.4,3070.5 L2337.3,3070.5 L2340.1,3070.6 L2343,3070.6 L2345.9,3070.7 L2348.7,3070.7 L2351.6,3070.8" fill="none" stroke="#b03232" stroke-width="2.4" stroke-linejoin="round" stroke-linecap="round" />
<path d="M1293.6,3076C1296.8,3075.9 1306.3,3075.9 1312.7,3075.5C1319.1,3075.1 1325.4,3073.8 1331.8,3073.3C1338.2,3072.8 1344.5,3072.8 1350.9,3072.6C1357.2,3072.4 1363.6,3072.3 1370,3071.9C1376.3,3071.5 1382.7,3070.6 1389.1,3070.1C1395.4,3069.6 1401.8,3069.6 1408.2,3069C1414.5,3068.4 1420.9,3067.4 1427.2,3066.4C1433.6,3065.4 1440,3064.5 1446.3,3062.8C1452.7,3061.1 1459.1,3058.7 1465.4,3056.3C1471.8,3053.9 1478.1,3051.9 1484.5,3048.3C1490.9,3044.7 1497.2,3039.2 1503.6,3034.5C1510,3029.8 1516.3,3024.5 1522.7,3019.9C1529.1,3015.3 1535.4,3011.2 1541.8,3007.2C1548.1,3003.1 1554.5,2998.9 1560.9,2995.6C1567.2,2992.3 1573.6,2990.2 1580,2987.2C1586.3,2984.2 1592.7,2980.6 1599.1,2977.4C1605.4,2974.2 1611.8,2970.2 1618.1,2968C1624.5,2965.8 1630.9,2964.5 1637.2,2964.4C1643.6,2964.3 1650,2965 1656.3,2967.3C1662.7,2969.6 1669,2974.4 1675.4,2978.2C1681.8,2981.9 1688.1,2986.7 1694.5,2989.8C1700.9,2992.9 1707.2,2995.9 1713.6,2997C1720,2998.1 1726.3,2997.6 1732.7,2996.3C1739,2995 1745.4,2992.1 1751.8,2989.1C1758.1,2986.1 1764.5,2982.5 1770.9,2978.2C1777.2,2973.8 1783.6,2969.7 1790,2963C1796.3,2956.3 1802.7,2949.8 1809,2938C1815.4,2926.2 1821.8,2913 1828.1,2892C1834.5,2871 1840.9,2844.7 1847.2,2812C1853.6,2779.3 1859.9,2739.3 1866.3,2696C1872.7,2652.7 1879,2601 1885.4,2552C1891.8,2503 1898.1,2446.1 1904.5,2402C1910.9,2357.9 1917.2,2312.8 1923.6,2287.2C1929.9,2261.6 1936.3,2245.3 1942.7,2248.4C1949,2251.5 1955.4,2273.7 1961.8,2306C1968.1,2338.3 1974.5,2390.3 1980.8,2442C1987.2,2493.7 1993.6,2560 1999.9,2616C2006.3,2672 2012.7,2730.3 2019,2778C2025.4,2825.7 2031.8,2867.7 2038.1,2902C2044.5,2936.3 2050.8,2962.6 2057.2,2984.1C2063.6,3005.6 2069.9,3019.3 2076.3,3030.8C2082.7,3042.3 2089,3047.6 2095.4,3053.2C2101.8,3058.8 2108.1,3061.2 2114.5,3064.5C2120.8,3067.8 2127.2,3071 2133.6,3072.7C2139.9,3074.4 2146.3,3074.5 2152.7,3074.8C2159,3075.2 2165.4,3075 2171.8,3074.8C2178.1,3074.6 2184.5,3074.2 2190.8,3073.8C2197.2,3073.5 2203.6,3072.9 2209.9,3072.7C2216.3,3072.5 2222.7,3072.7 2229,3072.7C2235.4,3072.7 2241.7,3072.7 2248.1,3072.7C2254.5,3072.7 2260.8,3072.6 2267.2,3072.7C2273.6,3072.8 2279.9,3072.9 2286.3,3073.4C2292.7,3073.9 2299,3074.7 2305.4,3075.4C2311.7,3076.1 2318.1,3077.2 2324.5,3077.5C2330.8,3077.8 2340.4,3077.5 2343.6,3077.5" fill="none" stroke="#ff0000" stroke-width="4.4" stroke-linejoin="round" stroke-linecap="round" />
<ellipse cx="1293.6" cy="3076" rx="8.3" ry="8.6" fill="#ff0000"/>
<ellipse cx="1293.6" cy="3076" rx="3.4" ry="3.5" fill="#c98686"/>
<ellipse cx="1312.7" cy="3075.5" rx="8.3" ry="8.6" fill="#ff0000"/>
<ellipse cx="1312.7" cy="3075.5" rx="3.4" ry="3.5" fill="#c98686"/>
<ellipse cx="1331.8" cy="3073.3" rx="8.3" ry="8.6" fill="#ff0000"/>
<ellipse cx="1331.8" cy="3073.3" rx="3.4" ry="3.5" fill="#c98686"/>
<ellipse cx="1350.9" cy="3072.6" rx="8.3" ry="8.6" fill="#ff0000"/>
<ellipse cx="1350.9" cy="3072.6" rx="3.4" ry="3.5" fill="#c98686"/>
<ellipse cx="1370" cy="3071.9" rx="8.3" ry="8.6" fill="#ff0000"/>
<ellipse cx="1370" cy="3071.9" rx="3.4" ry="3.5" fill="#c98686"/>
<ellipse cx="1389.1" cy="3070.1" rx="8.3" ry="8.6" fill="#ff0000"/>
<ellipse cx="1389.1" cy="3070.1" rx="3.4" ry="3.5" fill="#c98686"/>
<ellipse cx="1408.2" cy="3069" rx="8.3" ry="8.6" fill="#ff0000"/>
<ellipse cx="1408.2" cy="3069" rx="3.4" ry="3.5" fill="#c98686"/>
<ellipse cx="1427.2" cy="3066.4" rx="8.3" ry="8.6" fill="#ff0000"/>
<ellipse cx="1427.2" cy="3066.4" rx="3.4" ry="3.5" fill="#c98686"/>
<ellipse cx="1446.3" cy="3062.8" rx="8.3" ry="8.6" fill="#ff0000"/>
<ellipse cx="1446.3" cy="3062.8" rx="3.4" ry="3.5" fill="#c98686"/>
<ellipse cx="1465.4" cy="3056.3" rx="8.3" ry="8.6" fill="#ff0000"/>
<ellipse cx="1465.4" cy="3056.3" rx="3.4" ry="3.5" fill="#c98686"/>
<ellipse cx="1484.5" cy="3048.3" rx="8.3" ry="8.6" fill="#ff0000"/>
<ellipse cx="1484.5" cy="3048.3" rx="3.4" ry="3.5" fill="#c98686"/>
<ellipse cx="1503.6" cy="3034.5" rx="8.3" ry="8.6" fill="#ff0000"/>
<ellipse cx="1503.6" cy="3034.5" rx="3.4" ry="3.5" fill="#c98686"/>
<ellipse cx="1522.7" cy="3019.9" rx="8.3" ry="8.6" fill="#ff0000"/>
<ellipse cx="1522.7" cy="3019.9" rx="3.4" ry="3.5" fill="#c98686"/>
<ellipse cx="1541.8" cy="3007.2" rx="8.3" ry="8.6" fill="#ff0000"/>
<ellipse cx="1541.8" cy="3007.2" rx="3.4" ry="3.5" fill="#c98686"/>
<ellipse cx="1560.9" cy="2995.6" rx="8.3" ry="8.6" fill="#ff0000"/>
<ellipse cx="1560.9" cy="2995.6" rx="3.4" ry="3.5" fill="#c98686"/>
<ellipse cx="1580" cy="2987.2" rx="8.3" ry="8.6" fill="#ff0000"/>
<ellipse cx="1580" cy="2987.2" rx="3.4" ry="3.5" fill="#c98686"/>
<ellipse cx="1599.1" cy="2977.4" rx="8.3" ry="8.6" fill="#ff0000"/>
<ellipse cx="1599.1" cy="2977.4" rx="3.4" ry="3.5" fill="#c98686"/>
<ellipse cx="1618.1" cy="2968" rx="8.3" ry="8.6" fill="#ff0000"/>
<ellipse cx="1618.1" cy="2968" rx="3.4" ry="3.5" fill="#c98686"/>
<ellipse cx="1637.2" cy="2964.4" rx="8.3" ry="8.6" fill="#ff0000"/>
<ellipse cx="1637.2" cy="2964.4" rx="3.4" ry="3.5" fill="#c98686"/>
<ellipse cx="1656.3" cy="2967.3" rx="8.3" ry="8.6" fill="#ff0000"/>
<ellipse cx="1656.3" cy="2967.3" rx="3.4" ry="3.5" fill="#c98686"/>
<ellipse cx="1675.4" cy="2978.2" rx="8.3" ry="8.6" fill="#ff0000"/>
<ellipse cx="1675.4" cy="2978.2" rx="3.4" ry="3.5" fill="#c98686"/>
<ellipse cx="1694.5" cy="2989.8" rx="8.3" ry="8.6" fill="#ff0000"/>
<ellipse cx="1694.5" cy="2989.8" rx="3.4" ry="3.5" fill="#c98686"/>
<ellipse cx="1713.6" cy="2997" rx="8.3" ry="8.6" fill="#ff0000"/>
<ellipse cx="1713.6" cy="2997" rx="3.4" ry="3.5" fill="#c98686"/>
<ellipse cx="1732.7" cy="2996.3" rx="8.3" ry="8.6" fill="#ff0000"/>
<ellipse cx="1732.7" cy="2996.3" rx="3.4" ry="3.5" fill="#c98686"/>
<ellipse cx="1751.8" cy="2989.1" rx="8.3" ry="8.6" fill="#ff0000"/>
<ellipse cx="1751.8" cy="2989.1" rx="3.4" ry="3.5" fill="#c98686"/>
<ellipse cx="1770.9" cy="2978.2" rx="8.3" ry="8.6" fill="#ff0000"/>
<ellipse cx="1770.9" cy="2978.2" rx="3.4" ry="3.5" fill="#c98686"/>
<ellipse cx="1790" cy="2963" rx="8.3" ry="8.6" fill="#ff0000"/>
<ellipse cx="1790" cy="2963" rx="3.4" ry="3.5" fill="#c98686"/>
<ellipse cx="1809" cy="2938" rx="8.3" ry="8.6" fill="#ff0000"/>
<ellipse cx="1809" cy="2938" rx="3.4" ry="3.5" fill="#c98686"/>
<ellipse cx="1828.1" cy="2892" rx="8.3" ry="8.6" fill="#ff0000"/>
<ellipse cx="1828.1" cy="2892" rx="3.4" ry="3.5" fill="#c98686"/>
<ellipse cx="1847.2" cy="2812" rx="8.3" ry="8.6" fill="#ff0000"/>
<ellipse cx="1847.2" cy="2812" rx="3.4" ry="3.5" fill="#c98686"/>
<ellipse cx="1866.3" cy="2696" rx="8.3" ry="8.6" fill="#ff0000"/>
<ellipse cx="1866.3" cy="2696" rx="3.4" ry="3.5" fill="#c98686"/>
<ellipse cx="1885.4" cy="2552" rx="8.3" ry="8.6" fill="#ff0000"/>
<ellipse cx="1885.4" cy="2552" rx="3.4" ry="3.5" fill="#c98686"/>
<ellipse cx="1904.5" cy="2402" rx="8.3" ry="8.6" fill="#ff0000"/>
<ellipse cx="1904.5" cy="2402" rx="3.4" ry="3.5" fill="#c98686"/>
<ellipse cx="1923.6" cy="2287.2" rx="8.3" ry="8.6" fill="#ff0000"/>
<ellipse cx="1923.6" cy="2287.2" rx="3.4" ry="3.5" fill="#c98686"/>
<ellipse cx="1942.7" cy="2248.4" rx="8.3" ry="8.6" fill="#ff0000"/>
<ellipse cx="1942.7" cy="2248.4" rx="3.4" ry="3.5" fill="#c98686"/>
<ellipse cx="1961.8" cy="2306" rx="8.3" ry="8.6" fill="#ff0000"/>
<ellipse cx="1961.8" cy="2306" rx="3.4" ry="3.5" fill="#c98686"/>
<ellipse cx="1980.8" cy="2442" rx="8.3" ry="8.6" fill="#ff0000"/>
<ellipse cx="1980.8" cy="2442" rx="3.4" ry="3.5" fill="#c98686"/>
<ellipse cx="1999.9" cy="2616" rx="8.3" ry="8.6" fill="#ff0000"/>
<ellipse cx="1999.9" cy="2616" rx="3.4" ry="3.5" fill="#c98686"/>
<ellipse cx="2019" cy="2778" rx="8.3" ry="8.6" fill="#ff0000"/>
<ellipse cx="2019" cy="2778" rx="3.4" ry="3.5" fill="#c98686"/>
<ellipse cx="2038.1" cy="2902" rx="8.3" ry="8.6" fill="#ff0000"/>
<ellipse cx="2038.1" cy="2902" rx="3.4" ry="3.5" fill="#c98686"/>
<ellipse cx="2057.2" cy="2984.1" rx="8.3" ry="8.6" fill="#ff0000"/>
<ellipse cx="2057.2" cy="2984.1" rx="3.4" ry="3.5" fill="#c98686"/>
<ellipse cx="2076.3" cy="3030.8" rx="8.3" ry="8.6" fill="#ff0000"/>
<ellipse cx="2076.3" cy="3030.8" rx="3.4" ry="3.5" fill="#c98686"/>
<ellipse cx="2095.4" cy="3053.2" rx="8.3" ry="8.6" fill="#ff0000"/>
<ellipse cx="2095.4" cy="3053.2" rx="3.4" ry="3.5" fill="#c98686"/>
<ellipse cx="2114.5" cy="3064.5" rx="8.3" ry="8.6" fill="#ff0000"/>
<ellipse cx="2114.5" cy="3064.5" rx="3.4" ry="3.5" fill="#c98686"/>
<ellipse cx="2133.6" cy="3072.7" rx="8.3" ry="8.6" fill="#ff0000"/>
<ellipse cx="2133.6" cy="3072.7" rx="3.4" ry="3.5" fill="#c98686"/>
<ellipse cx="2152.7" cy="3074.8" rx="8.3" ry="8.6" fill="#ff0000"/>
<ellipse cx="2152.7" cy="3074.8" rx="3.4" ry="3.5" fill="#c98686"/>
<ellipse cx="2171.8" cy="3074.8" rx="8.3" ry="8.6" fill="#ff0000"/>
<ellipse cx="2171.8" cy="3074.8" rx="3.4" ry="3.5" fill="#c98686"/>
<ellipse cx="2190.8" cy="3073.8" rx="8.3" ry="8.6" fill="#ff0000"/>
<ellipse cx="2190.8" cy="3073.8" rx="3.4" ry="3.5" fill="#c98686"/>
<ellipse cx="2209.9" cy="3072.7" rx="8.3" ry="8.6" fill="#ff0000"/>
<ellipse cx="2209.9" cy="3072.7" rx="3.4" ry="3.5" fill="#c98686"/>
<ellipse cx="2229" cy="3072.7" rx="8.3" ry="8.6" fill="#ff0000"/>
<ellipse cx="2229" cy="3072.7" rx="3.4" ry="3.5" fill="#c98686"/>
<ellipse cx="2248.1" cy="3072.7" rx="8.3" ry="8.6" fill="#ff0000"/>
<ellipse cx="2248.1" cy="3072.7" rx="3.4" ry="3.5" fill="#c98686"/>
<ellipse cx="2267.2" cy="3072.7" rx="8.3" ry="8.6" fill="#ff0000"/>
<ellipse cx="2267.2" cy="3072.7" rx="3.4" ry="3.5" fill="#c98686"/>
<ellipse cx="2286.3" cy="3073.4" rx="8.3" ry="8.6" fill="#ff0000"/>
<ellipse cx="2286.3" cy="3073.4" rx="3.4" ry="3.5" fill="#c98686"/>
<ellipse cx="2305.4" cy="3075.4" rx="8.3" ry="8.6" fill="#ff0000"/>
<ellipse cx="2305.4" cy="3075.4" rx="3.4" ry="3.5" fill="#c98686"/>
<ellipse cx="2324.5" cy="3077.5" rx="8.3" ry="8.6" fill="#ff0000"/>
<ellipse cx="2324.5" cy="3077.5" rx="3.4" ry="3.5" fill="#c98686"/>
<ellipse cx="2343.6" cy="3077.5" rx="8.3" ry="8.6" fill="#ff0000"/>
<ellipse cx="2343.6" cy="3077.5" rx="3.4" ry="3.5" fill="#c98686"/>
</g>
<line x1="1942.8" y1="2324" x2="1942.8" y2="3119.2" stroke="#8a3a10" stroke-width="2.8" stroke-linecap="butt"/>
<line x1="1943" y1="2128.5" x2="1943" y2="2226.3" stroke="#ee1010" stroke-width="3.2" stroke-linecap="butt"/>
<line x1="1276" y1="3027.7" x2="1294" y2="3027.7" stroke="#000" stroke-width="3.4" stroke-linecap="butt"/>
<line x1="1276" y1="2930.6" x2="1294" y2="2930.6" stroke="#000" stroke-width="3.4" stroke-linecap="butt"/>
<line x1="1276" y1="2833.5" x2="1294" y2="2833.5" stroke="#000" stroke-width="3.4" stroke-linecap="butt"/>
<line x1="1276" y1="2736.4" x2="1294" y2="2736.4" stroke="#000" stroke-width="3.4" stroke-linecap="butt"/>
<line x1="1276" y1="2639.3" x2="1294" y2="2639.3" stroke="#000" stroke-width="3.4" stroke-linecap="butt"/>
<line x1="1276" y1="2542.2" x2="1294" y2="2542.2" stroke="#000" stroke-width="3.4" stroke-linecap="butt"/>
<line x1="1276" y1="2445.1" x2="1294" y2="2445.1" stroke="#000" stroke-width="3.4" stroke-linecap="butt"/>
<line x1="1276" y1="2348" x2="1294" y2="2348" stroke="#000" stroke-width="3.4" stroke-linecap="butt"/>
<line x1="1276" y1="2250.9" x2="1294" y2="2250.9" stroke="#000" stroke-width="3.4" stroke-linecap="butt"/>
<line x1="1283" y1="2149" x2="1294" y2="2149" stroke="#000" stroke-width="3.4" stroke-linecap="butt"/>
<line x1="1283" y1="2186" x2="1294" y2="2186" stroke="#000" stroke-width="3.4" stroke-linecap="butt"/>
<line x1="1283" y1="2212" x2="1294" y2="2212" stroke="#000" stroke-width="3.4" stroke-linecap="butt"/>
<line x1="1283" y1="3076.2" x2="1294" y2="3076.2" stroke="#000" stroke-width="3.4" stroke-linecap="butt"/>
<line x1="1283" y1="2979.2" x2="1294" y2="2979.2" stroke="#000" stroke-width="3.4" stroke-linecap="butt"/>
<line x1="1283" y1="2882.1" x2="1294" y2="2882.1" stroke="#000" stroke-width="3.4" stroke-linecap="butt"/>
<line x1="1283" y1="2784.9" x2="1294" y2="2784.9" stroke="#000" stroke-width="3.4" stroke-linecap="butt"/>
<line x1="1283" y1="2687.8" x2="1294" y2="2687.8" stroke="#000" stroke-width="3.4" stroke-linecap="butt"/>
<line x1="1283" y1="2590.8" x2="1294" y2="2590.8" stroke="#000" stroke-width="3.4" stroke-linecap="butt"/>
<line x1="1283" y1="2493.7" x2="1294" y2="2493.7" stroke="#000" stroke-width="3.4" stroke-linecap="butt"/>
<line x1="1283" y1="2396.6" x2="1294" y2="2396.6" stroke="#000" stroke-width="3.4" stroke-linecap="butt"/>
<line x1="1283" y1="2299.5" x2="1294" y2="2299.5" stroke="#000" stroke-width="3.4" stroke-linecap="butt"/>
<line x1="2326.5" y1="3119.2" x2="2326.5" y2="3138.2" stroke="#000" stroke-width="3.2" stroke-linecap="butt"/>
<line x1="2135" y1="3119.2" x2="2135" y2="3138.2" stroke="#000" stroke-width="3.2" stroke-linecap="butt"/>
<line x1="1943.5" y1="3119.2" x2="1943.5" y2="3138.2" stroke="#000" stroke-width="3.2" stroke-linecap="butt"/>
<line x1="1752" y1="3119.2" x2="1752" y2="3138.2" stroke="#000" stroke-width="3.2" stroke-linecap="butt"/>
<line x1="1560.5" y1="3119.2" x2="1560.5" y2="3138.2" stroke="#000" stroke-width="3.2" stroke-linecap="butt"/>
<line x1="1369" y1="3119.2" x2="1369" y2="3138.2" stroke="#000" stroke-width="3.2" stroke-linecap="butt"/>
<line x1="2278.6" y1="3119.2" x2="2278.6" y2="3130.7" stroke="#000" stroke-width="3.2" stroke-linecap="butt"/>
<line x1="2230.8" y1="3119.2" x2="2230.8" y2="3130.7" stroke="#000" stroke-width="3.2" stroke-linecap="butt"/>
<line x1="2182.9" y1="3119.2" x2="2182.9" y2="3130.7" stroke="#000" stroke-width="3.2" stroke-linecap="butt"/>
<line x1="2087.1" y1="3119.2" x2="2087.1" y2="3130.7" stroke="#000" stroke-width="3.2" stroke-linecap="butt"/>
<line x1="2039.2" y1="3119.2" x2="2039.2" y2="3130.7" stroke="#000" stroke-width="3.2" stroke-linecap="butt"/>
<line x1="1991.4" y1="3119.2" x2="1991.4" y2="3130.7" stroke="#000" stroke-width="3.2" stroke-linecap="butt"/>
<line x1="1895.6" y1="3119.2" x2="1895.6" y2="3130.7" stroke="#000" stroke-width="3.2" stroke-linecap="butt"/>
<line x1="1847.8" y1="3119.2" x2="1847.8" y2="3130.7" stroke="#000" stroke-width="3.2" stroke-linecap="butt"/>
<line x1="1799.9" y1="3119.2" x2="1799.9" y2="3130.7" stroke="#000" stroke-width="3.2" stroke-linecap="butt"/>
<line x1="1704.1" y1="3119.2" x2="1704.1" y2="3130.7" stroke="#000" stroke-width="3.2" stroke-linecap="butt"/>
<line x1="1656.2" y1="3119.2" x2="1656.2" y2="3130.7" stroke="#000" stroke-width="3.2" stroke-linecap="butt"/>
<line x1="1608.4" y1="3119.2" x2="1608.4" y2="3130.7" stroke="#000" stroke-width="3.2" stroke-linecap="butt"/>
<line x1="1512.6" y1="3119.2" x2="1512.6" y2="3130.7" stroke="#000" stroke-width="3.2" stroke-linecap="butt"/>
<line x1="1464.8" y1="3119.2" x2="1464.8" y2="3130.7" stroke="#000" stroke-width="3.2" stroke-linecap="butt"/>
<line x1="1416.9" y1="3119.2" x2="1416.9" y2="3130.7" stroke="#000" stroke-width="3.2" stroke-linecap="butt"/>
<line x1="1321.1" y1="3119.2" x2="1321.1" y2="3130.7" stroke="#000" stroke-width="3.2" stroke-linecap="butt"/>
<rect x="1294" y="2128.5" width="1052.6" height="990.7" fill="none" stroke="#000" stroke-width="3.4"/>
<text x="1276" y="3035.2" font-size="29" font-family="'Liberation Sans', Arial, sans-serif" fill="#1a1a1a" font-weight="bold" textLength="29" lengthAdjust="spacingAndGlyphs" text-anchor="end" >26</text>
<text x="1276" y="2938.1" font-size="29" font-family="'Liberation Sans', Arial, sans-serif" fill="#1a1a1a" font-weight="bold" textLength="29" lengthAdjust="spacingAndGlyphs" text-anchor="end" >28</text>
<text x="1276" y="2841" font-size="29" font-family="'Liberation Sans', Arial, sans-serif" fill="#1a1a1a" font-weight="bold" textLength="29" lengthAdjust="spacingAndGlyphs" text-anchor="end" >30</text>
<text x="1276" y="2743.9" font-size="29" font-family="'Liberation Sans', Arial, sans-serif" fill="#1a1a1a" font-weight="bold" textLength="29" lengthAdjust="spacingAndGlyphs" text-anchor="end" >32</text>
<text x="1276" y="2646.8" font-size="29" font-family="'Liberation Sans', Arial, sans-serif" fill="#1a1a1a" font-weight="bold" textLength="29" lengthAdjust="spacingAndGlyphs" text-anchor="end" >34</text>
<text x="1276" y="2549.7" font-size="29" font-family="'Liberation Sans', Arial, sans-serif" fill="#1a1a1a" font-weight="bold" textLength="29" lengthAdjust="spacingAndGlyphs" text-anchor="end" >36</text>
<text x="1276" y="2452.6" font-size="29" font-family="'Liberation Sans', Arial, sans-serif" fill="#1a1a1a" font-weight="bold" textLength="29" lengthAdjust="spacingAndGlyphs" text-anchor="end" >38</text>
<text x="1276" y="2355.5" font-size="29" font-family="'Liberation Sans', Arial, sans-serif" fill="#1a1a1a" font-weight="bold" textLength="29" lengthAdjust="spacingAndGlyphs" text-anchor="end" >40</text>
<text x="1276" y="2258.4" font-size="29" font-family="'Liberation Sans', Arial, sans-serif" fill="#1a1a1a" font-weight="bold" textLength="29" lengthAdjust="spacingAndGlyphs" text-anchor="end" >42</text>
<text x="2326.5" y="3167" font-size="29" font-family="'Liberation Sans', Arial, sans-serif" fill="#1a1a1a" font-weight="bold" textLength="42" lengthAdjust="spacingAndGlyphs" text-anchor="middle" >280</text>
<text x="2135" y="3167" font-size="29" font-family="'Liberation Sans', Arial, sans-serif" fill="#1a1a1a" font-weight="bold" textLength="42" lengthAdjust="spacingAndGlyphs" text-anchor="middle" >282</text>
<text x="1943.5" y="3167" font-size="29" font-family="'Liberation Sans', Arial, sans-serif" fill="#1a1a1a" font-weight="bold" textLength="42" lengthAdjust="spacingAndGlyphs" text-anchor="middle" >284</text>
<text x="1752" y="3167" font-size="29" font-family="'Liberation Sans', Arial, sans-serif" fill="#1a1a1a" font-weight="bold" textLength="42" lengthAdjust="spacingAndGlyphs" text-anchor="middle" >286</text>
<text x="1560.5" y="3167" font-size="29" font-family="'Liberation Sans', Arial, sans-serif" fill="#1a1a1a" font-weight="bold" textLength="42" lengthAdjust="spacingAndGlyphs" text-anchor="middle" >288</text>
<text x="1369" y="3167" font-size="29" font-family="'Liberation Sans', Arial, sans-serif" fill="#1a1a1a" font-weight="bold" textLength="42" lengthAdjust="spacingAndGlyphs" text-anchor="middle" >290</text>
<text x="1695.9" y="3199.7" font-size="29" font-family="'Liberation Sans', Arial, sans-serif" fill="#1a1a1a" font-weight="bold" textLength="250" lengthAdjust="spacingAndGlyphs" >Binding Energy (eV)</text>
<text x="1234.2" y="2708.7" font-size="31" font-family="'Liberation Sans', Arial, sans-serif" fill="#1a1a1a" font-weight="bold" textLength="140" lengthAdjust="spacingAndGlyphs" transform="rotate(-90 1234.2 2708.7)" >CPS x 10</text>
<text x="1223" y="2570" font-size="27" font-family="'Liberation Sans', Arial, sans-serif" fill="#1a1a1a" textLength="30" lengthAdjust="spacingAndGlyphs" transform="rotate(-90 1223 2570)" >−3</text>
<text x="1343.9" y="2198.9" font-size="24" font-family="'Liberation Sans', Arial, sans-serif" fill="#1e1e1e" textLength="67" lengthAdjust="spacingAndGlyphs" >Name</text>
<text x="1471" y="2199" font-size="24" font-family="'Liberation Sans', Arial, sans-serif" fill="#1e1e1e" textLength="52" lengthAdjust="spacingAndGlyphs" >Pos.</text>
<text x="1595.3" y="2199" font-size="24" font-family="'Liberation Sans', Arial, sans-serif" fill="#1e1e1e" textLength="53" lengthAdjust="spacingAndGlyphs" >Area</text>
<text x="1700.6" y="2199" font-size="24" font-family="'Liberation Sans', Arial, sans-serif" fill="#1e1e1e" textLength="77" lengthAdjust="spacingAndGlyphs" >%Area</text>
<text x="1343.9" y="2231.9" font-size="24" font-family="'Liberation Sans', Arial, sans-serif" fill="#c85560" textLength="52" lengthAdjust="spacingAndGlyphs" >C 1s</text>
<text x="1343.9" y="2265.9" font-size="24" font-family="'Liberation Sans', Arial, sans-serif" fill="#8aae66" textLength="80" lengthAdjust="spacingAndGlyphs" >O-C=O</text>
<text x="1343.9" y="2298.9" font-size="24" font-family="'Liberation Sans', Arial, sans-serif" fill="#3a86c0" textLength="72" lengthAdjust="spacingAndGlyphs" >C-O-C</text>
<text x="1462.7" y="2233.5" font-size="24" font-family="'Liberation Sans', Arial, sans-serif" fill="#1e1e1e" textLength="76" lengthAdjust="spacingAndGlyphs" >284.01</text>
<text x="1567" y="2233.5" font-size="24" font-family="'Liberation Sans', Arial, sans-serif" fill="#1e1e1e" textLength="113.7" lengthAdjust="spacingAndGlyphs" >21,073.42</text>
<text x="1709.7" y="2233.5" font-size="24" font-family="'Liberation Sans', Arial, sans-serif" fill="#1e1e1e" textLength="63.6" lengthAdjust="spacingAndGlyphs" >79.22</text>
<text x="1462.7" y="2267.3" font-size="24" font-family="'Liberation Sans', Arial, sans-serif" fill="#1e1e1e" textLength="76" lengthAdjust="spacingAndGlyphs" >287.23</text>
<text x="1579" y="2267.3" font-size="24" font-family="'Liberation Sans', Arial, sans-serif" fill="#1e1e1e" textLength="98" lengthAdjust="spacingAndGlyphs" >4,220.92</text>
<text x="1709.7" y="2267.3" font-size="24" font-family="'Liberation Sans', Arial, sans-serif" fill="#1e1e1e" textLength="63.6" lengthAdjust="spacingAndGlyphs" >15.87</text>
<text x="1462.7" y="2300.7" font-size="24" font-family="'Liberation Sans', Arial, sans-serif" fill="#1e1e1e" textLength="76" lengthAdjust="spacingAndGlyphs" >285.25</text>
<text x="1579" y="2300.7" font-size="24" font-family="'Liberation Sans', Arial, sans-serif" fill="#1e1e1e" textLength="98" lengthAdjust="spacingAndGlyphs" >1,306.93</text>
<text x="1720.6" y="2300.7" font-size="24" font-family="'Liberation Sans', Arial, sans-serif" fill="#1e1e1e" textLength="52.7" lengthAdjust="spacingAndGlyphs" >4.91</text>
<text x="1945.8" y="2153.6" font-size="26" font-family="'Liberation Sans', Arial, sans-serif" fill="#111" font-weight="bold" textLength="49" lengthAdjust="spacingAndGlyphs" >C 1s</text>
<text x="2259" y="2207.9" font-size="44" font-family="'Liberation Serif', 'Times New Roman', serif" fill="#000" font-weight="bold" textLength="43" lengthAdjust="spacingAndGlyphs" >(f)</text>
</svg></body></html>
